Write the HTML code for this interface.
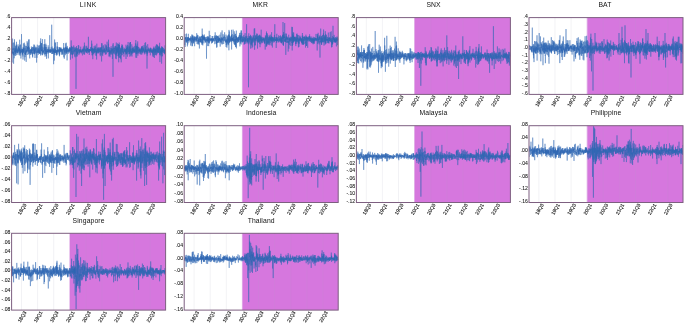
<!DOCTYPE html>
<html><head><meta charset="utf-8"><title>Returns</title>
<style>html,body{margin:0;padding:0;background:#fff}svg{display:block}text{font-family:"Liberation Sans",sans-serif;fill:#111}.t{font-size:6.8px;letter-spacing:.12px;text-anchor:middle}.y{font-size:5.1px;text-anchor:end;fill:#111;stroke:#111;stroke-width:.06px}.x{font-size:4.9px;text-anchor:middle;fill:#111;stroke:#111;stroke-width:.12px}.b{fill:none;stroke:#7d5f80;stroke-width:1}.m{fill:#d677de}.l{fill:none;stroke:#2e66b2;stroke-width:.45;stroke-linejoin:round}.g{stroke:#e9e9ee;stroke-width:.6}.gm{stroke:#cf80d8;stroke-width:.6}</style></head>
<body>
<svg width="685" height="326" viewBox="0 0 685 326">
<rect width="685" height="326" fill="#fff"/>
<g>
<text class="t" style="letter-spacing:0.45px" x="88.3" y="7.1">LINK</text>
<rect class="m" x="70.0" y="17.6" width="95.6" height="76.8"/>
<line class="g" x1="21.5" y1="17.6" x2="21.5" y2="94.4"/><line class="g" x1="37.6" y1="17.6" x2="37.6" y2="94.4"/><line class="g" x1="53.7" y1="17.6" x2="53.7" y2="94.4"/><line class="gm" x1="69.8" y1="17.6" x2="69.8" y2="94.4"/><line class="gm" x1="85.9" y1="17.6" x2="85.9" y2="94.4"/><line class="gm" x1="102.0" y1="17.6" x2="102.0" y2="94.4"/><line class="gm" x1="118.1" y1="17.6" x2="118.1" y2="94.4"/><line class="gm" x1="134.2" y1="17.6" x2="134.2" y2="94.4"/><line class="gm" x1="150.3" y1="17.6" x2="150.3" y2="94.4"/>
<polyline class="l" points="12.0,50.5 12.1,62.5 12.2,51.3 12.2,53.1 12.3,52.0 12.4,53.9 12.5,50.3 12.6,38.6 12.7,52.0 12.7,52.6 12.8,48.7 12.9,48.8 13.0,50.1 13.1,42.7 13.2,50.6 13.2,47.8 13.3,55.2 13.4,52.0 13.5,56.9 13.6,63.7 13.7,56.7 13.7,51.3 13.8,54.5 13.9,49.8 14.0,42.5 14.1,51.3 14.2,58.3 14.2,52.1 14.3,50.7 14.4,50.2 14.5,39.3 14.6,45.8 14.7,53.1 14.7,55.6 14.8,48.2 14.9,52.5 15.0,50.6 15.1,48.8 15.2,51.8 15.2,50.8 15.3,50.3 15.4,50.4 15.5,53.8 15.6,50.3 15.6,45.9 15.7,56.0 15.8,47.5 15.9,50.2 16.0,52.2 16.1,44.6 16.1,47.7 16.2,55.0 16.3,50.2 16.4,48.0 16.5,41.8 16.6,48.1 16.6,50.8 16.7,48.3 16.8,45.4 16.9,53.1 17.0,49.8 17.1,51.8 17.1,50.2 17.2,52.6 17.3,51.5 17.4,50.8 17.5,49.0 17.6,48.4 17.6,52.9 17.7,52.0 17.8,49.3 17.9,54.7 18.0,51.7 18.1,44.4 18.1,47.1 18.2,48.6 18.3,46.4 18.4,51.5 18.5,51.1 18.6,47.4 18.6,51.4 18.7,46.6 18.8,49.7 18.9,50.8 19.0,51.0 19.1,53.0 19.1,50.5 19.2,51.8 19.3,55.3 19.4,48.6 19.5,50.6 19.5,48.5 19.6,51.5 19.7,39.7 19.8,50.5 19.9,45.2 20.0,54.1 20.0,49.5 20.1,54.6 20.2,55.6 20.3,51.5 20.4,52.9 20.5,50.0 20.5,44.5 20.6,52.8 20.7,52.0 20.8,50.0 20.9,58.5 21.0,50.9 21.0,51.0 21.1,48.9 21.2,49.0 21.3,52.9 21.4,50.7 21.5,49.4 21.5,34.1 21.6,42.9 21.7,52.1 21.8,48.7 21.9,50.1 22.0,50.3 22.0,51.8 22.1,50.8 22.2,54.5 22.3,52.5 22.4,49.8 22.5,54.4 22.5,48.9 22.6,54.2 22.7,49.1 22.8,52.2 22.9,56.5 22.9,50.2 23.0,59.5 23.1,47.8 23.2,47.2 23.3,50.7 23.4,43.4 23.4,51.0 23.5,52.9 23.6,47.9 23.7,51.8 23.8,50.6 23.9,51.9 23.9,51.7 24.0,52.6 24.1,48.3 24.2,50.8 24.3,42.7 24.4,50.5 24.4,51.6 24.5,51.3 24.6,55.7 24.7,60.6 24.8,51.5 24.9,44.6 24.9,54.0 25.0,52.7 25.1,57.1 25.2,52.5 25.3,53.4 25.4,49.4 25.4,46.1 25.5,54.9 25.6,51.2 25.7,52.7 25.8,55.0 25.9,48.3 25.9,50.6 26.0,50.3 26.1,52.2 26.2,61.9 26.3,51.8 26.3,50.8 26.4,52.7 26.5,45.9 26.6,48.1 26.7,51.4 26.8,49.9 26.8,50.6 26.9,51.5 27.0,51.8 27.1,41.2 27.2,51.4 27.3,50.9 27.3,50.4 27.4,47.0 27.5,48.3 27.6,49.3 27.7,42.6 27.8,55.0 27.8,47.0 27.9,47.6 28.0,50.9 28.1,48.8 28.2,47.9 28.3,47.8 28.3,47.3 28.4,52.2 28.5,45.9 28.6,54.1 28.7,39.6 28.8,49.1 28.8,47.8 28.9,44.5 29.0,40.9 29.1,39.3 29.2,44.7 29.3,48.0 29.3,53.3 29.4,50.6 29.5,47.5 29.6,56.7 29.7,58.4 29.8,49.6 29.8,50.4 29.9,51.2 30.0,50.4 30.1,52.6 30.2,54.3 30.2,51.0 30.3,53.3 30.4,54.9 30.5,49.2 30.6,50.7 30.7,49.6 30.7,52.8 30.8,52.2 30.9,52.9 31.0,53.1 31.1,50.0 31.2,52.1 31.2,49.8 31.3,49.9 31.4,46.5 31.5,53.4 31.6,48.1 31.7,50.8 31.7,50.6 31.8,54.5 31.9,51.7 32.0,48.8 32.1,50.7 32.2,50.3 32.2,51.4 32.3,47.1 32.4,50.6 32.5,56.5 32.6,52.3 32.7,55.2 32.7,57.6 32.8,51.8 32.9,46.9 33.0,50.4 33.1,53.6 33.2,52.8 33.2,47.4 33.3,50.1 33.4,50.4 33.5,50.6 33.6,50.4 33.6,48.8 33.7,49.0 33.8,44.5 33.9,53.7 34.0,48.9 34.1,52.8 34.1,46.6 34.2,54.1 34.3,50.9 34.4,50.5 34.5,54.3 34.6,44.8 34.6,45.5 34.7,51.8 34.8,48.4 34.9,49.3 35.0,58.0 35.1,49.7 35.1,50.7 35.2,50.3 35.3,53.4 35.4,51.3 35.5,51.0 35.6,47.5 35.6,49.6 35.7,50.5 35.8,46.6 35.9,51.7 36.0,51.1 36.1,53.2 36.1,48.0 36.2,48.8 36.3,48.9 36.4,49.3 36.5,50.3 36.6,51.6 36.6,62.6 36.7,51.6 36.8,50.4 36.9,47.1 37.0,57.8 37.0,50.7 37.1,52.6 37.2,52.7 37.3,44.7 37.4,48.4 37.5,50.3 37.5,51.4 37.6,53.0 37.7,50.7 37.8,48.4 37.9,51.5 38.0,51.1 38.0,51.2 38.1,50.2 38.2,54.1 38.3,54.8 38.4,52.5 38.5,48.3 38.5,52.7 38.6,48.7 38.7,45.6 38.8,51.7 38.9,53.1 39.0,49.8 39.0,50.5 39.1,53.2 39.2,49.1 39.3,45.4 39.4,51.2 39.5,51.1 39.5,53.7 39.6,49.5 39.7,53.9 39.8,53.5 39.9,47.5 40.0,53.1 40.0,47.2 40.1,45.2 40.2,49.4 40.3,41.5 40.4,42.6 40.5,51.3 40.5,52.8 40.6,55.5 40.7,38.4 40.8,45.3 40.9,44.6 40.9,54.2 41.0,53.3 41.1,52.1 41.2,49.8 41.3,51.1 41.4,43.2 41.4,49.6 41.5,51.3 41.6,50.6 41.7,43.0 41.8,50.8 41.9,49.1 41.9,46.6 42.0,49.0 42.1,50.4 42.2,55.1 42.3,49.4 42.4,55.2 42.4,39.1 42.5,48.9 42.6,49.3 42.7,50.7 42.8,53.3 42.9,51.1 42.9,51.8 43.0,49.4 43.1,47.4 43.2,50.2 43.3,51.6 43.4,52.1 43.4,50.6 43.5,50.8 43.6,52.8 43.7,50.3 43.8,52.6 43.9,54.3 43.9,48.2 44.0,48.2 44.1,44.3 44.2,49.0 44.3,50.9 44.3,44.1 44.4,51.7 44.5,54.1 44.6,54.5 44.7,47.6 44.8,39.2 44.8,49.8 44.9,46.8 45.0,56.6 45.1,53.6 45.2,49.9 45.3,49.2 45.3,51.6 45.4,47.1 45.5,49.8 45.6,54.2 45.7,52.7 45.8,43.7 45.8,49.5 45.9,54.0 46.0,44.9 46.1,49.4 46.2,56.2 46.3,51.3 46.3,51.1 46.4,52.7 46.5,58.8 46.6,50.8 46.7,47.0 46.8,51.9 46.8,50.1 46.9,53.6 47.0,51.2 47.1,49.1 47.2,52.2 47.3,48.8 47.3,50.0 47.4,52.1 47.5,51.3 47.6,51.3 47.7,50.6 47.7,51.4 47.8,51.8 47.9,51.0 48.0,52.3 48.1,53.4 48.2,50.6 48.2,45.3 48.3,58.4 48.4,50.5 48.5,51.8 48.6,52.4 48.7,48.9 48.7,51.2 48.8,47.2 48.9,51.5 49.0,50.1 49.1,50.8 49.2,51.4 49.2,49.9 49.3,50.7 49.4,49.7 49.5,50.6 49.6,52.6 49.7,48.7 49.7,35.2 49.8,49.6 49.9,51.7 50.0,50.6 50.1,52.9 50.2,49.8 50.2,51.9 50.3,52.6 50.4,50.6 50.5,49.0 50.6,52.3 50.7,51.9 50.7,51.5 50.8,52.1 50.9,50.0 51.0,51.6 51.1,47.4 51.2,49.4 51.2,52.1 51.3,49.5 51.4,52.7 51.5,52.8 51.6,53.9 51.6,46.6 51.7,24.7 51.8,40.3 51.9,50.6 52.0,50.1 52.1,50.4 52.1,46.5 52.2,52.8 52.3,53.8 52.4,52.8 52.5,53.7 52.6,48.6 52.6,48.7 52.7,52.2 52.8,52.9 52.9,51.1 53.0,48.4 53.1,53.9 53.1,49.8 53.2,51.9 53.3,49.3 53.4,51.8 53.5,50.8 53.6,52.3 53.6,64.2 53.7,48.5 53.8,49.4 53.9,51.0 54.0,51.6 54.1,53.3 54.1,51.1 54.2,50.6 54.3,60.6 54.4,47.3 54.5,52.8 54.6,46.4 54.6,39.5 54.7,47.5 54.8,55.1 54.9,50.9 55.0,52.6 55.0,50.7 55.1,42.6 55.2,52.5 55.3,42.6 55.4,52.9 55.5,49.1 55.5,50.8 55.6,49.9 55.7,50.9 55.8,52.3 55.9,52.8 56.0,51.1 56.0,51.9 56.1,49.9 56.2,50.5 56.3,54.6 56.4,50.3 56.5,54.4 56.5,52.1 56.6,51.3 56.7,55.7 56.8,50.3 56.9,50.1 57.0,50.9 57.0,46.5 57.1,51.4 57.2,42.0 57.3,51.0 57.4,54.7 57.5,50.4 57.5,52.3 57.6,46.7 57.7,50.3 57.8,50.7 57.9,51.2 58.0,49.7 58.0,52.3 58.1,50.1 58.2,50.2 58.3,50.2 58.4,49.9 58.4,51.8 58.5,51.0 58.6,49.3 58.7,49.7 58.8,50.1 58.9,53.5 58.9,49.3 59.0,47.2 59.1,47.1 59.2,49.8 59.3,55.4 59.4,47.7 59.4,50.9 59.5,56.3 59.6,49.5 59.7,54.7 59.8,54.2 59.9,52.5 59.9,47.1 60.0,51.4 60.1,49.9 60.2,47.5 60.3,48.1 60.4,50.7 60.4,48.2 60.5,52.2 60.6,51.5 60.7,49.9 60.8,49.9 60.9,50.3 60.9,48.8 61.0,51.9 61.1,50.6 61.2,49.0 61.3,49.3 61.4,47.7 61.4,49.3 61.5,51.5 61.6,49.3 61.7,53.6 61.8,54.9 61.9,49.1 61.9,50.6 62.0,49.8 62.1,53.6 62.2,51.3 62.3,52.0 62.3,52.2 62.4,54.5 62.5,51.1 62.6,49.2 62.7,50.0 62.8,51.5 62.8,50.5 62.9,49.4 63.0,54.4 63.1,50.7 63.2,49.7 63.3,47.9 63.3,47.9 63.4,48.9 63.5,50.0 63.6,50.0 63.7,43.0 63.8,51.4 63.8,57.3 63.9,48.8 64.0,47.3 64.1,50.8 64.2,50.6 64.3,50.2 64.3,58.7 64.4,50.6 64.5,48.2 64.6,52.2 64.7,50.8 64.8,50.8 64.8,49.3 64.9,48.7 65.0,53.6 65.1,52.5 65.2,49.8 65.3,52.3 65.3,55.2 65.4,47.3 65.5,49.3 65.6,49.3 65.7,43.4 65.7,47.5 65.8,51.4 65.9,47.1 66.0,53.5 66.1,53.2 66.2,42.7 66.2,52.6 66.3,48.5 66.4,49.7 66.5,53.8 66.6,50.3 66.7,51.7 66.7,48.0 66.8,52.3 66.9,51.9 67.0,47.1 67.1,60.4 67.2,45.9 67.2,50.4 67.3,50.1 67.4,48.0 67.5,50.7 67.6,51.9 67.7,50.4 67.7,50.0 67.8,51.3 67.9,52.7 68.0,52.5 68.1,53.9 68.2,51.6 68.2,50.8 68.3,50.2 68.4,49.5 68.5,51.1 68.6,49.6 68.7,52.2 68.7,51.2 68.8,52.3 68.9,48.8 69.0,50.5 69.1,51.3 69.1,48.1 69.2,50.8 69.3,49.6 69.4,52.5 69.5,51.8 69.6,51.0 69.6,47.3 69.7,49.0 69.8,50.7 69.9,49.5 70.0,47.6 70.1,50.9 70.1,51.1 70.2,47.5 70.3,49.7 70.4,49.4 70.5,59.7 70.6,48.1 70.6,47.9 70.7,49.6 70.8,49.1 70.9,54.6 71.0,49.2 71.1,50.9 71.1,49.5 71.2,40.4 71.3,51.3 71.4,53.9 71.5,45.9 71.6,52.2 71.6,51.1 71.7,51.7 71.8,51.2 71.9,54.9 72.0,47.4 72.1,49.8 72.1,47.9 72.2,46.9 72.3,50.5 72.4,58.4 72.5,52.8 72.6,54.4 72.6,52.3 72.7,50.3 72.8,55.0 72.9,49.7 73.0,46.6 73.0,50.0 73.1,50.7 73.2,51.3 73.3,50.7 73.4,51.7 73.5,51.7 73.5,53.8 73.6,50.6 73.7,45.4 73.8,45.6 73.9,47.2 74.0,48.8 74.0,52.2 74.1,47.5 74.2,50.6 74.3,50.7 74.4,51.1 74.5,50.3 74.5,51.2 74.6,50.6 74.7,56.5 74.8,51.0 74.9,47.6 75.0,50.6 75.0,51.1 75.1,49.2 75.2,57.3 75.3,52.6 75.4,50.9 75.5,48.8 75.5,49.9 75.6,50.2 75.7,47.3 75.8,51.8 75.9,50.3 76.0,53.4 76.0,88.9 76.1,53.7 76.2,51.8 76.3,51.7 76.4,48.6 76.4,48.8 76.5,46.1 76.6,55.4 76.7,48.0 76.8,51.5 76.9,57.0 76.9,49.2 77.0,52.7 77.1,55.9 77.2,51.4 77.3,54.1 77.4,51.9 77.4,49.8 77.5,50.0 77.6,48.2 77.7,50.8 77.8,53.5 77.9,51.9 77.9,52.6 78.0,53.1 78.1,49.6 78.2,51.9 78.3,45.1 78.4,49.4 78.4,50.7 78.5,50.0 78.6,50.3 78.7,49.7 78.8,45.5 78.9,49.3 78.9,55.1 79.0,50.2 79.1,50.2 79.2,51.6 79.3,50.7 79.4,50.8 79.4,50.3 79.5,51.7 79.6,49.1 79.7,53.5 79.8,52.0 79.8,53.2 79.9,50.9 80.0,50.6 80.1,51.7 80.2,50.3 80.3,51.6 80.3,49.6 80.4,51.6 80.5,50.6 80.6,48.7 80.7,46.7 80.8,52.3 80.8,51.2 80.9,51.7 81.0,49.2 81.1,52.3 81.2,51.2 81.3,50.6 81.3,52.1 81.4,52.0 81.5,51.3 81.6,53.4 81.7,52.4 81.8,51.0 81.8,50.3 81.9,50.7 82.0,52.2 82.1,50.9 82.2,49.7 82.3,50.0 82.3,50.6 82.4,55.4 82.5,50.0 82.6,51.0 82.7,51.5 82.8,51.4 82.8,48.7 82.9,50.2 83.0,48.9 83.1,51.2 83.2,49.1 83.3,51.5 83.3,46.8 83.4,46.5 83.5,49.1 83.6,51.6 83.7,53.7 83.7,50.0 83.8,48.4 83.9,51.7 84.0,54.6 84.1,51.3 84.2,50.5 84.2,50.2 84.3,47.6 84.4,42.6 84.5,48.8 84.6,54.6 84.7,48.5 84.7,45.4 84.8,48.8 84.9,50.1 85.0,50.3 85.1,48.7 85.2,51.6 85.2,50.6 85.3,49.9 85.4,49.4 85.5,51.1 85.6,50.0 85.7,50.9 85.7,50.4 85.8,50.7 85.9,52.4 86.0,46.3 86.1,48.8 86.2,52.5 86.2,51.0 86.3,49.3 86.4,52.3 86.5,50.2 86.6,52.7 86.7,48.1 86.7,45.8 86.8,46.9 86.9,51.0 87.0,48.9 87.1,50.2 87.1,50.3 87.2,47.6 87.3,53.6 87.4,48.1 87.5,50.6 87.6,48.1 87.6,50.2 87.7,51.6 87.8,50.1 87.9,49.6 88.0,50.5 88.1,50.0 88.1,51.1 88.2,52.8 88.3,49.4 88.4,36.8 88.5,49.2 88.6,52.3 88.6,49.5 88.7,51.0 88.8,51.5 88.9,50.8 89.0,48.9 89.1,52.2 89.1,49.0 89.2,51.3 89.3,55.0 89.4,49.2 89.5,50.6 89.6,52.2 89.6,51.0 89.7,49.5 89.8,49.4 89.9,50.9 90.0,50.1 90.1,49.9 90.1,51.1 90.2,50.3 90.3,50.5 90.4,51.0 90.5,47.3 90.5,48.3 90.6,50.5 90.7,51.1 90.8,51.0 90.9,49.3 91.0,50.3 91.0,49.5 91.1,49.0 91.2,49.5 91.3,46.8 91.4,51.9 91.5,49.3 91.5,49.8 91.6,40.6 91.7,48.3 91.8,52.9 91.9,43.7 92.0,55.3 92.0,49.3 92.1,49.5 92.2,50.6 92.3,47.8 92.4,49.4 92.5,50.6 92.5,48.6 92.6,55.3 92.7,49.0 92.8,59.2 92.9,48.6 93.0,51.0 93.0,52.2 93.1,49.8 93.2,52.6 93.3,52.1 93.4,53.7 93.5,50.6 93.5,49.5 93.6,48.8 93.7,50.7 93.8,48.7 93.9,54.4 93.9,50.7 94.0,49.4 94.1,46.2 94.2,51.1 94.3,51.0 94.4,50.9 94.4,50.3 94.5,52.9 94.6,47.8 94.7,51.5 94.8,49.3 94.9,52.7 94.9,49.1 95.0,49.4 95.1,51.8 95.2,45.3 95.3,49.6 95.4,46.7 95.4,48.0 95.5,52.2 95.6,51.4 95.7,49.2 95.8,50.3 95.9,50.4 95.9,51.3 96.0,55.7 96.1,51.2 96.2,55.6 96.3,49.5 96.4,52.7 96.4,52.6 96.5,51.1 96.6,59.5 96.7,53.3 96.8,43.7 96.9,52.4 96.9,53.9 97.0,52.0 97.1,47.6 97.2,52.4 97.3,49.4 97.4,52.8 97.4,50.1 97.5,51.0 97.6,50.6 97.7,49.7 97.8,47.9 97.8,50.2 97.9,50.3 98.0,52.1 98.1,49.7 98.2,51.0 98.3,49.1 98.3,50.6 98.4,47.5 98.5,53.4 98.6,51.1 98.7,48.5 98.8,51.3 98.8,52.2 98.9,51.1 99.0,52.9 99.1,50.3 99.2,47.3 99.3,49.1 99.3,51.9 99.4,51.7 99.5,51.0 99.6,49.0 99.7,51.7 99.8,51.6 99.8,49.0 99.9,47.7 100.0,51.3 100.1,53.1 100.2,54.8 100.3,52.7 100.3,56.2 100.4,48.1 100.5,52.2 100.6,49.6 100.7,47.2 100.8,48.4 100.8,52.5 100.9,49.0 101.0,48.4 101.1,51.7 101.2,51.9 101.2,50.7 101.3,47.1 101.4,48.2 101.5,55.7 101.6,61.5 101.7,43.1 101.7,51.1 101.8,50.1 101.9,49.9 102.0,43.5 102.1,47.7 102.2,54.9 102.2,50.5 102.3,51.7 102.4,50.3 102.5,50.1 102.6,52.6 102.7,51.9 102.7,56.1 102.8,49.6 102.9,52.1 103.0,46.5 103.1,46.4 103.2,53.4 103.2,49.8 103.3,45.2 103.4,48.7 103.5,49.9 103.6,51.0 103.7,51.8 103.7,50.9 103.8,51.4 103.9,49.4 104.0,51.1 104.1,51.2 104.2,52.4 104.2,50.6 104.3,51.8 104.4,50.8 104.5,49.0 104.6,52.7 104.6,47.8 104.7,49.8 104.8,50.4 104.9,50.7 105.0,51.1 105.1,44.2 105.1,52.3 105.2,54.4 105.3,54.6 105.4,51.8 105.5,51.3 105.6,51.7 105.6,50.2 105.7,51.7 105.8,48.8 105.9,45.3 106.0,54.4 106.1,52.0 106.1,54.2 106.2,50.6 106.3,48.7 106.4,49.4 106.5,45.5 106.6,51.7 106.6,47.6 106.7,50.0 106.8,50.5 106.9,48.9 107.0,46.3 107.1,41.7 107.1,50.2 107.2,49.8 107.3,49.5 107.4,51.5 107.5,52.3 107.6,50.4 107.6,52.2 107.7,50.6 107.8,50.3 107.9,46.9 108.0,51.7 108.1,50.7 108.1,50.7 108.2,49.8 108.3,48.7 108.4,43.7 108.5,51.9 108.5,39.7 108.6,51.7 108.7,49.7 108.8,50.4 108.9,56.5 109.0,51.1 109.0,50.5 109.1,49.6 109.2,51.5 109.3,51.0 109.4,53.8 109.5,52.3 109.5,47.3 109.6,55.9 109.7,51.3 109.8,50.0 109.9,51.4 110.0,52.8 110.0,57.2 110.1,50.5 110.2,50.7 110.3,54.5 110.4,50.9 110.5,53.3 110.5,52.2 110.6,49.7 110.7,48.2 110.8,47.8 110.9,52.2 111.0,47.8 111.0,46.9 111.1,47.0 111.2,46.3 111.3,51.0 111.4,51.0 111.5,48.5 111.5,53.7 111.6,50.0 111.7,51.7 111.8,51.4 111.9,54.8 111.9,52.9 112.0,50.6 112.1,48.4 112.2,48.1 112.3,50.7 112.4,58.9 112.4,53.1 112.5,49.1 112.6,51.3 112.7,48.5 112.8,45.3 112.9,44.6 112.9,54.4 113.0,76.8 113.1,45.1 113.2,43.1 113.3,46.8 113.4,50.0 113.4,53.4 113.5,49.4 113.6,48.3 113.7,53.4 113.8,51.8 113.9,51.1 113.9,50.0 114.0,49.3 114.1,46.8 114.2,48.5 114.3,48.8 114.4,48.0 114.4,49.2 114.5,53.7 114.6,54.3 114.7,49.9 114.8,51.3 114.9,48.4 114.9,51.3 115.0,52.7 115.1,46.1 115.2,48.6 115.3,49.7 115.3,47.4 115.4,46.3 115.5,49.2 115.6,58.6 115.7,53.2 115.8,52.3 115.8,54.7 115.9,49.6 116.0,45.7 116.1,52.4 116.2,55.7 116.3,42.5 116.3,59.2 116.4,55.8 116.5,49.2 116.6,48.6 116.7,53.4 116.8,47.1 116.8,52.3 116.9,54.0 117.0,49.8 117.1,47.8 117.2,52.6 117.3,49.4 117.3,50.8 117.4,43.3 117.5,52.4 117.6,47.2 117.7,50.7 117.8,50.9 117.8,48.1 117.9,48.0 118.0,56.1 118.1,44.1 118.2,52.2 118.3,51.9 118.3,49.1 118.4,56.3 118.5,44.5 118.6,48.8 118.7,62.3 118.8,44.6 118.8,49.9 118.9,56.8 119.0,56.6 119.1,57.9 119.2,42.6 119.2,55.0 119.3,44.9 119.4,48.4 119.5,45.2 119.6,47.0 119.7,57.6 119.7,51.1 119.8,50.3 119.9,50.1 120.0,51.7 120.1,50.6 120.2,47.6 120.2,53.8 120.3,50.0 120.4,57.7 120.5,55.7 120.6,59.2 120.7,50.6 120.7,49.0 120.8,53.7 120.9,48.0 121.0,51.7 121.1,48.8 121.2,50.0 121.2,62.3 121.3,53.3 121.4,49.8 121.5,46.0 121.6,49.5 121.7,49.8 121.7,55.3 121.8,45.6 121.9,44.3 122.0,50.4 122.1,51.2 122.2,55.1 122.2,48.4 122.3,44.9 122.4,49.1 122.5,47.7 122.6,45.7 122.6,52.4 122.7,48.4 122.8,52.3 122.9,47.1 123.0,50.1 123.1,49.2 123.1,50.0 123.2,49.9 123.3,51.7 123.4,53.4 123.5,50.4 123.6,52.1 123.6,53.6 123.7,53.8 123.8,52.0 123.9,56.7 124.0,55.0 124.1,54.2 124.1,50.1 124.2,49.8 124.3,47.8 124.4,52.0 124.5,51.2 124.6,49.6 124.6,50.7 124.7,50.8 124.8,49.1 124.9,50.8 125.0,51.6 125.1,52.0 125.1,50.1 125.2,50.0 125.3,52.7 125.4,52.5 125.5,49.3 125.6,49.3 125.6,51.9 125.7,48.9 125.8,49.2 125.9,54.6 126.0,44.7 126.0,59.0 126.1,51.8 126.2,54.1 126.3,51.0 126.4,49.6 126.5,48.5 126.5,53.8 126.6,46.3 126.7,52.3 126.8,48.7 126.9,48.0 127.0,48.3 127.0,50.1 127.1,53.3 127.2,48.8 127.3,52.5 127.4,56.7 127.5,44.9 127.5,49.0 127.6,46.8 127.7,52.3 127.8,47.6 127.9,47.3 128.0,47.8 128.0,50.5 128.1,42.0 128.2,50.8 128.3,54.3 128.4,53.4 128.5,50.3 128.5,52.1 128.6,50.7 128.7,50.7 128.8,45.6 128.9,48.6 129.0,50.6 129.0,48.4 129.1,51.9 129.2,51.1 129.3,49.0 129.4,53.9 129.5,46.6 129.5,53.9 129.6,42.6 129.7,54.9 129.8,56.7 129.9,50.0 129.9,52.4 130.0,52.9 130.1,53.0 130.2,47.6 130.3,45.6 130.4,42.1 130.4,52.0 130.5,42.0 130.6,51.2 130.7,48.7 130.8,56.2 130.9,49.7 130.9,48.9 131.0,52.1 131.1,51.7 131.2,55.1 131.3,51.7 131.4,53.9 131.4,50.9 131.5,53.0 131.6,50.3 131.7,49.4 131.8,44.3 131.9,51.8 131.9,51.9 132.0,56.5 132.1,48.5 132.2,49.4 132.3,51.0 132.4,48.4 132.4,52.6 132.5,48.4 132.6,51.3 132.7,53.7 132.8,46.5 132.9,48.2 132.9,52.1 133.0,50.2 133.1,51.0 133.2,50.3 133.3,52.9 133.3,51.7 133.4,49.7 133.5,50.2 133.6,48.4 133.7,50.4 133.8,46.9 133.8,51.5 133.9,50.1 134.0,52.5 134.1,52.0 134.2,48.7 134.3,51.9 134.3,49.7 134.4,50.6 134.5,52.5 134.6,51.2 134.7,51.5 134.8,51.5 134.8,45.9 134.9,48.9 135.0,52.1 135.1,52.7 135.2,49.8 135.3,50.8 135.3,47.4 135.4,43.4 135.5,48.4 135.6,50.6 135.7,51.0 135.8,57.7 135.8,40.1 135.9,53.5 136.0,51.8 136.1,52.0 136.2,48.1 136.3,51.9 136.3,51.1 136.4,54.3 136.5,45.7 136.6,49.3 136.7,46.0 136.7,57.9 136.8,47.1 136.9,51.2 137.0,48.5 137.1,43.6 137.2,53.9 137.2,47.3 137.3,46.2 137.4,49.4 137.5,48.2 137.6,46.9 137.7,52.5 137.7,41.4 137.8,53.3 137.9,55.7 138.0,51.9 138.1,50.8 138.2,50.2 138.2,49.5 138.3,53.4 138.4,46.9 138.5,48.7 138.6,49.4 138.7,51.0 138.7,50.6 138.8,49.8 138.9,50.0 139.0,52.4 139.1,49.6 139.2,47.6 139.2,52.1 139.3,53.7 139.4,50.0 139.5,50.7 139.6,48.9 139.7,52.1 139.7,50.3 139.8,48.7 139.9,50.8 140.0,51.1 140.1,50.4 140.2,51.0 140.2,49.0 140.3,51.4 140.4,49.8 140.5,51.6 140.6,54.2 140.6,50.6 140.7,52.8 140.8,50.5 140.9,51.9 141.0,51.1 141.1,48.1 141.1,54.7 141.2,54.1 141.3,47.6 141.4,50.3 141.5,47.1 141.6,46.4 141.6,52.2 141.7,50.7 141.8,47.7 141.9,48.3 142.0,54.4 142.1,46.2 142.1,47.2 142.2,51.4 142.3,47.6 142.4,50.5 142.5,52.8 142.6,51.5 142.6,49.2 142.7,45.8 142.8,50.7 142.9,51.6 143.0,50.5 143.1,52.6 143.1,52.2 143.2,49.4 143.3,51.2 143.4,50.0 143.5,48.6 143.6,49.4 143.6,50.5 143.7,47.5 143.8,49.5 143.9,51.1 144.0,45.1 144.0,49.7 144.1,52.3 144.2,50.3 144.3,50.9 144.4,54.4 144.5,50.8 144.5,50.9 144.6,51.1 144.7,53.1 144.8,51.1 144.9,42.9 145.0,50.3 145.0,52.4 145.1,49.5 145.2,52.2 145.3,50.8 145.4,48.5 145.5,47.3 145.5,51.6 145.6,42.3 145.7,51.4 145.8,51.1 145.9,50.2 146.0,49.0 146.0,54.1 146.1,52.3 146.2,52.8 146.3,52.6 146.4,45.7 146.5,52.1 146.5,50.0 146.6,52.0 146.7,50.3 146.8,49.9 146.9,51.8 147.0,51.8 147.0,68.6 147.1,51.9 147.2,55.7 147.3,50.6 147.4,53.7 147.4,52.9 147.5,49.2 147.6,51.7 147.7,44.2 147.8,48.7 147.9,51.3 147.9,50.2 148.0,53.1 148.1,51.7 148.2,51.2 148.3,47.6 148.4,51.0 148.4,51.0 148.5,51.1 148.6,50.7 148.7,49.8 148.8,50.3 148.9,48.5 148.9,50.3 149.0,49.1 149.1,50.3 149.2,49.9 149.3,51.9 149.4,50.6 149.4,50.6 149.5,50.8 149.6,52.9 149.7,49.6 149.8,51.0 149.9,51.0 149.9,50.8 150.0,50.8 150.1,47.8 150.2,52.3 150.3,55.3 150.4,50.1 150.4,50.3 150.5,50.9 150.6,47.7 150.7,51.7 150.8,50.6 150.9,48.8 150.9,52.2 151.0,48.1 151.1,49.4 151.2,51.1 151.3,49.6 151.3,52.6 151.4,52.6 151.5,52.1 151.6,51.0 151.7,50.9 151.8,51.1 151.8,50.4 151.9,52.3 152.0,49.9 152.1,52.5 152.2,51.3 152.3,51.1 152.3,52.2 152.4,53.1 152.5,52.8 152.6,50.5 152.7,56.5 152.8,48.9 152.8,53.4 152.9,53.0 153.0,52.4 153.1,49.6 153.2,55.0 153.3,48.1 153.3,51.4 153.4,51.8 153.5,50.0 153.6,57.1 153.7,50.0 153.8,46.6 153.8,50.3 153.9,48.9 154.0,48.3 154.1,50.7 154.2,47.7 154.3,50.1 154.3,50.3 154.4,58.0 154.5,51.1 154.6,49.3 154.7,52.8 154.7,49.0 154.8,49.8 154.9,49.9 155.0,55.0 155.1,50.7 155.2,49.5 155.2,51.7 155.3,55.2 155.4,46.3 155.5,49.3 155.6,51.8 155.7,48.8 155.7,53.3 155.8,49.3 155.9,51.0 156.0,49.0 156.1,52.2 156.2,51.9 156.2,44.9 156.3,52.7 156.4,52.5 156.5,55.4 156.6,53.2 156.7,44.2 156.7,45.9 156.8,52.3 156.9,54.3 157.0,47.7 157.1,48.0 157.2,48.8 157.2,48.2 157.3,52.2 157.4,44.8 157.5,47.5 157.6,53.2 157.7,48.5 157.7,52.0 157.8,45.6 157.9,50.3 158.0,51.8 158.1,48.8 158.1,46.4 158.2,49.6 158.3,53.0 158.4,49.8 158.5,47.2 158.6,51.7 158.6,52.3 158.7,48.7 158.8,50.2 158.9,52.8 159.0,51.3 159.1,46.1 159.1,49.8 159.2,50.2 159.3,47.0 159.4,48.6 159.5,54.6 159.6,42.8 159.6,48.3 159.7,49.1 159.8,47.6 159.9,62.1 160.0,53.4 160.1,47.9 160.1,53.0 160.2,55.3 160.3,48.6 160.4,51.8 160.5,51.1 160.6,52.7 160.6,52.9 160.7,52.4 160.8,51.1 160.9,49.9 161.0,54.7 161.1,49.2 161.1,52.8 161.2,56.4 161.3,48.9 161.4,50.7 161.5,54.0 161.6,46.5 161.6,63.7 161.7,51.6 161.8,49.9 161.9,46.5 162.0,51.7 162.0,48.1 162.1,52.3 162.2,48.0 162.3,52.0 162.4,51.1 162.5,47.4 162.5,56.3 162.6,50.3 162.7,47.2 162.8,50.1 162.9,51.4 163.0,52.7 163.0,51.9 163.1,49.3 163.2,49.2 163.3,51.1 163.4,51.2 163.5,50.3 163.5,50.5 163.6,48.0 163.7,50.0 163.8,52.8 163.9,51.0 164.0,51.1 164.0,50.9 164.1,50.0 164.2,52.4 164.3,49.5 164.4,54.3 164.5,51.8 164.5,53.3 164.6,53.2 164.7,49.4 164.8,53.3 164.9,50.3 165.0,47.4 165.0,46.8 165.1,45.3 165.2,51.5"/>
<rect class="b" x="11.6" y="17.6" width="154.0" height="76.8"/>
<text class="y" x="10.4" y="18.2">.6</text><text class="y" x="10.4" y="29.2">.4</text><text class="y" x="10.4" y="40.1">.2</text><text class="y" x="10.4" y="51.1">.0</text><text class="y" x="10.4" y="62.1">-.2</text><text class="y" x="10.4" y="73.1">-.4</text><text class="y" x="10.4" y="84.0">-.6</text><text class="y" x="10.4" y="95.0">-.8</text>
<text class="x" transform="translate(22.2 101.1) rotate(-60)" y="1.5">18Q3</text><text class="x" transform="translate(38.3 101.1) rotate(-60)" y="1.5">19Q1</text><text class="x" transform="translate(54.4 101.1) rotate(-60)" y="1.5">19Q3</text><text class="x" transform="translate(70.5 101.1) rotate(-60)" y="1.5">20Q1</text><text class="x" transform="translate(86.6 101.1) rotate(-60)" y="1.5">20Q3</text><text class="x" transform="translate(102.7 101.1) rotate(-60)" y="1.5">21Q1</text><text class="x" transform="translate(118.8 101.1) rotate(-60)" y="1.5">21Q3</text><text class="x" transform="translate(134.9 101.1) rotate(-60)" y="1.5">22Q1</text><text class="x" transform="translate(151.0 101.1) rotate(-60)" y="1.5">22Q3</text>
</g>
<g>
<text class="t" x="260.2" y="7.1">MKR</text>
<rect class="m" x="242.6" y="17.6" width="95.6" height="76.8"/>
<line class="g" x1="194.1" y1="17.6" x2="194.1" y2="94.4"/><line class="g" x1="210.2" y1="17.6" x2="210.2" y2="94.4"/><line class="g" x1="226.3" y1="17.6" x2="226.3" y2="94.4"/><line class="gm" x1="242.4" y1="17.6" x2="242.4" y2="94.4"/><line class="gm" x1="258.5" y1="17.6" x2="258.5" y2="94.4"/><line class="gm" x1="274.6" y1="17.6" x2="274.6" y2="94.4"/><line class="gm" x1="290.7" y1="17.6" x2="290.7" y2="94.4"/><line class="gm" x1="306.8" y1="17.6" x2="306.8" y2="94.4"/><line class="gm" x1="322.9" y1="17.6" x2="322.9" y2="94.4"/>
<polyline class="l" points="184.6,40.4 184.7,45.1 184.8,44.3 184.8,40.4 184.9,40.3 185.0,33.9 185.1,47.0 185.2,45.3 185.3,38.1 185.3,39.3 185.4,37.6 185.5,39.3 185.6,37.1 185.7,38.4 185.8,38.0 185.8,39.7 185.9,41.7 186.0,41.4 186.1,37.1 186.2,39.0 186.3,42.7 186.3,39.8 186.4,40.6 186.5,33.6 186.6,41.5 186.7,39.7 186.8,39.6 186.8,42.0 186.9,42.3 187.0,41.6 187.1,40.7 187.2,41.0 187.3,37.3 187.3,42.3 187.4,46.4 187.5,37.4 187.6,38.2 187.7,41.5 187.8,44.5 187.8,38.2 187.9,38.7 188.0,40.7 188.1,37.0 188.2,40.5 188.2,39.3 188.3,33.8 188.4,38.8 188.5,40.7 188.6,40.8 188.7,37.0 188.7,39.0 188.8,42.7 188.9,38.1 189.0,38.5 189.1,40.5 189.2,40.0 189.2,39.5 189.3,39.8 189.4,39.4 189.5,39.0 189.6,40.0 189.7,38.0 189.7,40.0 189.8,39.9 189.9,38.2 190.0,41.6 190.1,39.5 190.2,39.7 190.2,40.4 190.3,38.2 190.4,39.3 190.5,40.6 190.6,38.9 190.7,37.4 190.7,45.6 190.8,36.0 190.9,37.4 191.0,38.6 191.1,39.6 191.2,38.6 191.2,37.4 191.3,37.9 191.4,37.8 191.5,39.1 191.6,38.4 191.7,42.3 191.7,39.8 191.8,43.3 191.9,34.5 192.0,38.4 192.1,46.3 192.1,39.0 192.2,40.1 192.3,34.8 192.4,45.9 192.5,36.0 192.6,39.1 192.6,39.8 192.7,37.5 192.8,39.7 192.9,39.0 193.0,39.9 193.1,35.5 193.1,41.3 193.2,38.2 193.3,39.3 193.4,40.3 193.5,43.3 193.6,40.2 193.6,40.6 193.7,39.1 193.8,43.3 193.9,36.5 194.0,41.9 194.1,40.5 194.1,36.6 194.2,41.0 194.3,37.4 194.4,40.0 194.5,38.4 194.6,39.7 194.6,46.2 194.7,42.5 194.8,36.4 194.9,39.7 195.0,38.7 195.1,40.0 195.1,39.7 195.2,39.2 195.3,39.0 195.4,37.0 195.5,39.6 195.5,39.7 195.6,40.2 195.7,41.0 195.8,41.3 195.9,38.7 196.0,41.8 196.0,37.2 196.1,38.1 196.2,40.1 196.3,36.1 196.4,39.5 196.5,39.5 196.5,37.4 196.6,41.2 196.7,33.2 196.8,39.7 196.9,40.2 197.0,40.9 197.0,43.9 197.1,43.0 197.2,40.9 197.3,40.0 197.4,37.5 197.5,34.8 197.5,36.4 197.6,38.7 197.7,36.4 197.8,39.8 197.9,44.4 198.0,35.3 198.0,41.3 198.1,40.2 198.2,40.0 198.3,43.5 198.4,40.5 198.5,38.3 198.5,40.3 198.6,41.5 198.7,44.5 198.8,39.2 198.9,41.9 198.9,41.4 199.0,41.4 199.1,37.4 199.2,38.7 199.3,39.1 199.4,48.5 199.4,40.5 199.5,38.6 199.6,36.6 199.7,42.1 199.8,40.7 199.9,39.2 199.9,39.4 200.0,38.1 200.1,36.4 200.2,40.0 200.3,38.7 200.4,41.5 200.4,39.0 200.5,40.3 200.6,41.9 200.7,37.4 200.8,42.5 200.9,36.7 200.9,40.7 201.0,42.3 201.1,42.1 201.2,41.4 201.3,41.3 201.4,39.0 201.4,43.2 201.5,36.3 201.6,37.4 201.7,35.9 201.8,42.4 201.9,44.8 201.9,41.0 202.0,39.9 202.1,38.7 202.2,28.6 202.3,38.7 202.4,39.0 202.4,44.4 202.5,34.5 202.6,43.0 202.7,38.7 202.8,35.5 202.8,45.4 202.9,39.5 203.0,34.8 203.1,40.3 203.2,37.3 203.3,38.9 203.3,39.1 203.4,35.8 203.5,40.0 203.6,40.0 203.7,36.9 203.8,38.7 203.8,38.2 203.9,42.0 204.0,43.3 204.1,37.0 204.2,37.4 204.3,38.8 204.3,40.4 204.4,34.5 204.5,38.7 204.6,36.5 204.7,39.4 204.8,37.3 204.8,40.0 204.9,37.1 205.0,41.3 205.1,39.2 205.2,41.2 205.3,38.4 205.3,38.5 205.4,41.8 205.5,41.1 205.6,40.4 205.7,42.8 205.8,41.2 205.8,41.6 205.9,37.8 206.0,37.0 206.1,40.4 206.2,40.1 206.2,39.1 206.3,40.6 206.4,41.5 206.5,58.7 206.6,41.0 206.7,39.6 206.7,40.7 206.8,36.7 206.9,40.9 207.0,39.2 207.1,42.2 207.2,41.2 207.2,39.2 207.3,40.8 207.4,37.6 207.5,39.3 207.6,43.3 207.7,46.1 207.7,36.7 207.8,41.0 207.9,36.0 208.0,39.5 208.1,41.4 208.2,38.3 208.2,40.1 208.3,39.5 208.4,41.4 208.5,42.8 208.6,37.3 208.7,46.1 208.7,36.7 208.8,40.4 208.9,39.2 209.0,41.8 209.1,42.8 209.2,35.7 209.2,30.8 209.3,37.0 209.4,43.5 209.5,38.9 209.6,38.3 209.6,39.2 209.7,38.7 209.8,42.0 209.9,40.0 210.0,35.0 210.1,40.3 210.1,38.8 210.2,40.6 210.3,40.0 210.4,40.1 210.5,39.5 210.6,38.6 210.6,39.3 210.7,39.1 210.8,40.9 210.9,39.9 211.0,38.7 211.1,40.4 211.1,40.0 211.2,40.4 211.3,38.2 211.4,40.0 211.5,40.4 211.6,38.8 211.6,43.5 211.7,38.9 211.8,38.3 211.9,39.2 212.0,39.7 212.1,40.1 212.1,36.1 212.2,42.9 212.3,38.9 212.4,42.5 212.5,39.4 212.6,38.6 212.6,39.6 212.7,41.5 212.8,36.0 212.9,40.7 213.0,41.6 213.1,39.4 213.1,41.0 213.2,41.0 213.3,40.8 213.4,38.4 213.5,39.9 213.5,38.3 213.6,39.6 213.7,40.0 213.8,39.0 213.9,38.9 214.0,39.4 214.0,41.1 214.1,40.2 214.2,41.2 214.3,39.9 214.4,39.4 214.5,37.6 214.5,37.4 214.6,38.6 214.7,38.4 214.8,44.2 214.9,35.3 215.0,37.5 215.0,36.0 215.1,39.0 215.2,32.3 215.3,37.7 215.4,39.2 215.5,39.0 215.5,40.8 215.6,37.8 215.7,39.3 215.8,37.9 215.9,40.0 216.0,43.6 216.0,38.2 216.1,36.4 216.2,35.9 216.3,41.4 216.4,40.2 216.5,40.1 216.5,44.2 216.6,35.3 216.7,47.8 216.8,41.0 216.9,46.9 216.9,38.9 217.0,36.2 217.1,38.1 217.2,37.1 217.3,35.9 217.4,39.0 217.4,42.8 217.5,36.2 217.6,38.6 217.7,43.0 217.8,42.3 217.9,38.7 217.9,39.3 218.0,40.0 218.1,38.6 218.2,36.9 218.3,39.1 218.4,42.0 218.4,39.8 218.5,35.7 218.6,41.2 218.7,38.7 218.8,40.0 218.9,42.9 218.9,39.6 219.0,42.4 219.1,37.9 219.2,40.4 219.3,38.2 219.4,40.2 219.4,37.8 219.5,39.9 219.6,39.6 219.7,40.9 219.8,39.3 219.9,35.8 219.9,34.7 220.0,40.8 220.1,39.4 220.2,46.6 220.3,40.7 220.3,38.6 220.4,40.7 220.5,40.5 220.6,42.4 220.7,41.1 220.8,41.6 220.8,36.7 220.9,32.4 221.0,41.5 221.1,39.2 221.2,37.5 221.3,42.5 221.3,42.8 221.4,39.3 221.5,38.7 221.6,43.9 221.7,44.3 221.8,42.4 221.8,37.4 221.9,39.7 222.0,37.6 222.1,30.4 222.2,39.7 222.3,38.0 222.3,39.9 222.4,39.1 222.5,41.2 222.6,44.3 222.7,38.7 222.8,40.0 222.8,40.7 222.9,38.8 223.0,38.9 223.1,34.2 223.2,40.5 223.3,38.5 223.3,36.9 223.4,40.5 223.5,41.2 223.6,40.6 223.7,44.0 223.8,41.2 223.8,41.3 223.9,38.1 224.0,37.9 224.1,36.8 224.2,38.1 224.2,35.5 224.3,37.0 224.4,41.1 224.5,40.5 224.6,32.3 224.7,36.8 224.7,37.3 224.8,40.4 224.9,40.0 225.0,39.5 225.1,39.3 225.2,38.3 225.2,39.5 225.3,39.0 225.4,42.1 225.5,40.1 225.6,42.4 225.7,42.6 225.7,37.3 225.8,38.3 225.9,36.8 226.0,34.6 226.1,47.0 226.2,43.5 226.2,40.1 226.3,45.1 226.4,41.2 226.5,42.1 226.6,39.6 226.7,38.9 226.7,41.4 226.8,40.1 226.9,47.7 227.0,39.9 227.1,35.8 227.2,43.3 227.2,40.3 227.3,38.5 227.4,39.2 227.5,42.0 227.6,36.6 227.6,39.1 227.7,41.3 227.8,43.6 227.9,41.1 228.0,45.3 228.1,39.9 228.1,35.1 228.2,40.3 228.3,40.7 228.4,38.1 228.5,40.6 228.6,39.2 228.6,44.5 228.7,34.3 228.8,39.7 228.9,50.3 229.0,29.9 229.1,40.1 229.1,35.2 229.2,42.3 229.3,31.5 229.4,40.8 229.5,42.6 229.6,38.7 229.6,38.0 229.7,35.9 229.8,42.4 229.9,40.2 230.0,41.6 230.1,39.3 230.1,39.3 230.2,40.5 230.3,39.5 230.4,37.6 230.5,36.8 230.6,40.5 230.6,38.6 230.7,39.9 230.8,41.4 230.9,36.4 231.0,38.7 231.0,39.3 231.1,38.6 231.2,40.1 231.3,41.8 231.4,35.1 231.5,36.9 231.5,29.8 231.6,49.5 231.7,35.3 231.8,40.3 231.9,38.1 232.0,40.5 232.0,38.1 232.1,40.2 232.2,34.1 232.3,40.6 232.4,38.3 232.5,38.4 232.5,40.4 232.6,37.7 232.7,39.9 232.8,40.6 232.9,39.6 233.0,41.3 233.0,37.0 233.1,29.6 233.2,37.7 233.3,42.4 233.4,39.1 233.5,40.9 233.5,39.5 233.6,36.8 233.7,39.1 233.8,40.0 233.9,37.2 234.0,37.2 234.0,35.0 234.1,44.2 234.2,31.3 234.3,40.5 234.4,41.6 234.5,39.3 234.5,42.7 234.6,45.1 234.7,42.0 234.8,40.3 234.9,35.4 234.9,33.6 235.0,42.1 235.1,43.9 235.2,40.6 235.3,40.5 235.4,39.1 235.4,44.8 235.5,34.1 235.6,46.8 235.7,39.0 235.8,44.7 235.9,47.1 235.9,36.0 236.0,38.1 236.1,38.6 236.2,38.7 236.3,30.6 236.4,37.0 236.4,48.4 236.5,35.9 236.6,39.2 236.7,42.2 236.8,38.5 236.9,37.2 236.9,40.0 237.0,38.2 237.1,39.8 237.2,40.2 237.3,43.1 237.4,38.0 237.4,40.2 237.5,39.0 237.6,41.4 237.7,41.4 237.8,37.2 237.9,40.6 237.9,40.5 238.0,42.6 238.1,39.1 238.2,37.5 238.3,40.6 238.3,40.1 238.4,42.0 238.5,36.7 238.6,40.9 238.7,39.9 238.8,36.9 238.8,39.9 238.9,42.0 239.0,41.0 239.1,40.2 239.2,35.2 239.3,39.2 239.3,40.0 239.4,37.9 239.5,36.8 239.6,33.1 239.7,36.2 239.8,37.5 239.8,38.2 239.9,46.4 240.0,39.0 240.1,35.0 240.2,40.7 240.3,32.6 240.3,39.4 240.4,43.5 240.5,37.3 240.6,38.6 240.7,36.5 240.8,40.6 240.8,35.4 240.9,41.9 241.0,39.1 241.1,44.5 241.2,30.2 241.3,38.7 241.3,30.8 241.4,41.5 241.5,40.3 241.6,38.8 241.7,36.8 241.7,37.3 241.8,33.1 241.9,39.1 242.0,41.1 242.1,42.6 242.2,40.1 242.2,40.7 242.3,41.7 242.4,37.4 242.5,42.1 242.6,39.0 242.7,38.9 242.7,39.9 242.8,36.1 242.9,39.5 243.0,40.6 243.1,37.1 243.2,40.7 243.2,41.4 243.3,41.2 243.4,40.4 243.5,39.5 243.6,39.1 243.7,41.7 243.7,39.0 243.8,34.9 243.9,41.2 244.0,39.9 244.1,38.2 244.2,37.1 244.2,44.7 244.3,41.3 244.4,41.8 244.5,37.7 244.6,37.8 244.7,43.3 244.7,42.8 244.8,44.0 244.9,41.5 245.0,39.1 245.1,33.1 245.2,37.2 245.2,43.6 245.3,39.4 245.4,37.9 245.5,40.9 245.6,41.3 245.6,36.3 245.7,38.2 245.8,42.1 245.9,37.9 246.0,37.7 246.1,40.8 246.1,39.1 246.2,40.3 246.3,39.4 246.4,36.2 246.5,37.9 246.6,24.2 246.6,37.7 246.7,37.6 246.8,43.4 246.9,42.8 247.0,38.3 247.1,40.7 247.1,40.8 247.2,41.1 247.3,41.9 247.4,40.1 247.5,40.8 247.6,40.7 247.6,38.7 247.7,41.7 247.8,37.8 247.9,43.3 248.0,35.8 248.1,41.5 248.1,38.7 248.2,38.2 248.3,39.6 248.4,43.5 248.5,87.3 248.6,46.9 248.6,38.9 248.7,37.5 248.8,33.3 248.9,42.5 249.0,44.3 249.0,38.9 249.1,39.0 249.2,37.7 249.3,38.6 249.4,38.7 249.5,42.5 249.5,36.1 249.6,39.5 249.7,38.0 249.8,40.2 249.9,39.8 250.0,39.5 250.0,37.3 250.1,37.1 250.2,38.5 250.3,36.2 250.4,40.3 250.5,34.8 250.5,40.4 250.6,48.6 250.7,39.5 250.8,37.7 250.9,35.6 251.0,44.5 251.0,44.2 251.1,38.7 251.2,40.4 251.3,44.1 251.4,40.4 251.5,45.4 251.5,39.4 251.6,39.9 251.7,36.3 251.8,40.2 251.9,37.8 252.0,37.4 252.0,48.2 252.1,40.0 252.2,38.2 252.3,42.8 252.4,42.1 252.4,40.2 252.5,39.6 252.6,42.3 252.7,46.8 252.8,37.6 252.9,40.6 252.9,39.9 253.0,41.6 253.1,36.3 253.2,35.1 253.3,39.2 253.4,39.8 253.4,36.1 253.5,38.5 253.6,41.1 253.7,42.5 253.8,41.0 253.9,34.7 253.9,34.4 254.0,32.0 254.1,31.9 254.2,28.6 254.3,35.4 254.4,40.3 254.4,38.6 254.5,42.3 254.6,49.8 254.7,28.3 254.8,39.0 254.9,41.5 254.9,45.3 255.0,38.3 255.1,40.0 255.2,40.2 255.3,41.1 255.4,45.3 255.4,35.1 255.5,40.8 255.6,38.2 255.7,36.0 255.8,37.2 255.9,39.1 255.9,39.5 256.0,38.8 256.1,37.3 256.2,37.9 256.3,40.8 256.3,38.3 256.4,38.4 256.5,37.7 256.6,38.8 256.7,34.7 256.8,38.7 256.8,36.4 256.9,33.3 257.0,41.7 257.1,42.4 257.2,34.0 257.3,38.3 257.3,36.7 257.4,39.8 257.5,48.6 257.6,40.7 257.7,36.4 257.8,39.3 257.8,41.0 257.9,38.0 258.0,41.8 258.1,39.3 258.2,39.6 258.3,39.9 258.3,42.4 258.4,37.1 258.5,36.0 258.6,42.5 258.7,39.3 258.8,38.3 258.8,35.5 258.9,40.6 259.0,41.6 259.1,39.6 259.2,35.0 259.3,39.4 259.3,38.9 259.4,35.8 259.5,43.8 259.6,43.8 259.7,37.8 259.7,34.6 259.8,41.8 259.9,38.7 260.0,47.2 260.1,39.3 260.2,40.7 260.2,40.3 260.3,41.0 260.4,35.6 260.5,40.0 260.6,36.7 260.7,38.3 260.7,42.7 260.8,44.3 260.9,36.8 261.0,39.0 261.1,37.5 261.2,29.7 261.2,34.4 261.3,40.9 261.4,38.3 261.5,42.0 261.6,36.9 261.7,36.8 261.7,43.1 261.8,38.6 261.9,39.9 262.0,39.3 262.1,38.8 262.2,39.6 262.2,41.0 262.3,43.1 262.4,39.1 262.5,38.9 262.6,37.2 262.7,40.5 262.7,39.5 262.8,39.0 262.9,40.0 263.0,41.9 263.1,40.1 263.1,38.6 263.2,39.8 263.3,39.0 263.4,40.4 263.5,39.1 263.6,40.3 263.6,37.8 263.7,39.4 263.8,39.5 263.9,37.7 264.0,41.7 264.1,42.7 264.1,37.6 264.2,37.7 264.3,40.1 264.4,40.6 264.5,40.2 264.6,43.8 264.6,39.3 264.7,43.2 264.8,38.6 264.9,41.3 265.0,41.4 265.1,42.2 265.1,41.8 265.2,49.6 265.3,38.9 265.4,35.3 265.5,38.5 265.6,39.5 265.6,36.3 265.7,41.3 265.8,38.7 265.9,37.6 266.0,37.9 266.1,38.8 266.1,40.3 266.2,47.0 266.3,39.9 266.4,33.0 266.5,45.5 266.5,31.5 266.6,38.4 266.7,42.4 266.8,46.1 266.9,41.7 267.0,43.6 267.0,43.4 267.1,41.5 267.2,36.3 267.3,37.5 267.4,42.1 267.5,39.3 267.5,33.4 267.6,43.0 267.7,41.8 267.8,44.1 267.9,41.3 268.0,44.7 268.0,35.3 268.1,41.3 268.2,40.9 268.3,44.6 268.4,37.1 268.5,40.2 268.5,39.0 268.6,43.1 268.7,37.8 268.8,38.2 268.9,40.8 269.0,42.2 269.0,41.3 269.1,40.7 269.2,39.5 269.3,39.7 269.4,37.3 269.5,39.8 269.5,35.6 269.6,37.3 269.7,44.5 269.8,37.6 269.9,45.3 270.0,36.9 270.0,38.7 270.1,38.8 270.2,43.0 270.3,34.6 270.4,40.1 270.4,39.8 270.5,37.8 270.6,39.9 270.7,40.7 270.8,38.7 270.9,41.0 270.9,38.3 271.0,39.3 271.1,37.2 271.2,41.7 271.3,37.2 271.4,39.0 271.4,35.9 271.5,40.9 271.6,32.2 271.7,45.6 271.8,37.4 271.9,41.2 271.9,38.4 272.0,38.3 272.1,41.1 272.2,41.7 272.3,40.8 272.4,36.9 272.4,47.5 272.5,37.7 272.6,39.1 272.7,39.3 272.8,39.2 272.9,40.3 272.9,36.9 273.0,39.2 273.1,39.1 273.2,42.6 273.3,38.9 273.4,40.7 273.4,40.4 273.5,37.7 273.6,41.3 273.7,39.9 273.8,38.4 273.8,37.6 273.9,40.2 274.0,39.1 274.1,39.1 274.2,41.2 274.3,42.3 274.3,42.3 274.4,34.9 274.5,39.4 274.6,41.5 274.7,38.2 274.8,24.2 274.8,38.4 274.9,39.6 275.0,36.9 275.1,40.6 275.2,39.4 275.3,40.5 275.3,40.5 275.4,40.8 275.5,39.8 275.6,40.3 275.7,39.1 275.8,39.3 275.8,40.4 275.9,37.5 276.0,40.9 276.1,39.1 276.2,48.0 276.3,42.1 276.3,37.7 276.4,37.7 276.5,39.0 276.6,42.9 276.7,37.0 276.8,33.8 276.8,40.7 276.9,37.1 277.0,41.2 277.1,37.5 277.2,40.6 277.2,38.7 277.3,40.9 277.4,40.0 277.5,40.8 277.6,40.5 277.7,39.3 277.7,39.7 277.8,39.3 277.9,38.1 278.0,39.7 278.1,42.3 278.2,40.0 278.2,39.4 278.3,37.5 278.4,37.5 278.5,38.0 278.6,35.3 278.7,38.4 278.7,42.1 278.8,42.4 278.9,38.6 279.0,38.5 279.1,40.2 279.2,39.5 279.2,40.6 279.3,38.8 279.4,41.5 279.5,38.1 279.6,38.6 279.7,36.1 279.7,39.6 279.8,39.7 279.9,39.2 280.0,39.5 280.1,39.7 280.2,41.3 280.2,41.4 280.3,40.5 280.4,35.3 280.5,41.6 280.6,41.4 280.7,40.0 280.7,38.3 280.8,42.8 280.9,38.4 281.0,37.9 281.1,36.1 281.1,40.3 281.2,37.1 281.3,42.6 281.4,40.6 281.5,38.9 281.6,41.1 281.6,43.2 281.7,37.4 281.8,43.3 281.9,38.0 282.0,41.6 282.1,41.2 282.1,40.3 282.2,39.5 282.3,40.0 282.4,41.8 282.5,35.0 282.6,38.9 282.6,35.7 282.7,37.8 282.8,39.1 282.9,37.7 283.0,22.0 283.1,44.9 283.1,34.4 283.2,43.2 283.3,45.4 283.4,42.3 283.5,45.7 283.6,32.0 283.6,38.1 283.7,35.0 283.8,35.4 283.9,38.0 284.0,38.0 284.1,33.9 284.1,39.8 284.2,41.3 284.3,39.4 284.4,41.3 284.5,36.6 284.5,38.0 284.6,38.0 284.7,23.1 284.8,37.7 284.9,37.0 285.0,39.7 285.0,42.1 285.1,38.9 285.2,38.2 285.3,42.0 285.4,38.8 285.5,41.9 285.5,39.4 285.6,36.9 285.7,33.5 285.8,54.9 285.9,40.6 286.0,39.6 286.0,36.5 286.1,37.4 286.2,40.2 286.3,40.3 286.4,39.5 286.5,33.7 286.5,38.9 286.6,36.9 286.7,40.5 286.8,43.0 286.9,36.3 287.0,39.8 287.0,41.9 287.1,41.5 287.2,41.0 287.3,40.9 287.4,42.8 287.5,37.5 287.5,38.8 287.6,38.0 287.7,40.1 287.8,39.0 287.9,39.2 287.9,37.4 288.0,38.0 288.1,40.3 288.2,51.6 288.3,42.2 288.4,41.5 288.4,41.0 288.5,41.1 288.6,43.2 288.7,34.7 288.8,38.8 288.9,48.7 288.9,42.2 289.0,42.2 289.1,39.1 289.2,37.4 289.3,41.6 289.4,38.5 289.4,40.0 289.5,38.1 289.6,37.8 289.7,45.1 289.8,38.5 289.9,39.5 289.9,40.1 290.0,41.3 290.1,38.9 290.2,39.7 290.3,40.2 290.4,39.7 290.4,39.9 290.5,41.5 290.6,40.5 290.7,37.3 290.8,40.0 290.9,36.6 290.9,45.9 291.0,42.1 291.1,39.3 291.2,38.1 291.3,40.9 291.4,38.1 291.4,37.7 291.5,37.1 291.6,39.8 291.7,39.7 291.8,43.0 291.8,39.5 291.9,26.8 292.0,36.0 292.1,42.5 292.2,50.5 292.3,41.9 292.3,27.1 292.4,46.0 292.5,42.3 292.6,33.9 292.7,37.1 292.8,44.9 292.8,39.8 292.9,35.8 293.0,37.0 293.1,32.2 293.2,42.9 293.3,36.0 293.3,39.6 293.4,35.2 293.5,37.2 293.6,42.1 293.7,32.7 293.8,41.5 293.8,38.1 293.9,41.4 294.0,40.2 294.1,40.1 294.2,40.7 294.3,39.0 294.3,36.9 294.4,37.0 294.5,37.6 294.6,39.8 294.7,37.5 294.8,39.0 294.8,36.9 294.9,41.5 295.0,37.4 295.1,40.7 295.2,36.6 295.2,40.7 295.3,37.6 295.4,40.2 295.5,44.1 295.6,41.7 295.7,40.2 295.7,39.5 295.8,46.1 295.9,43.8 296.0,42.6 296.1,40.4 296.2,38.8 296.2,42.0 296.3,43.9 296.4,38.6 296.5,40.5 296.6,37.0 296.7,41.0 296.7,34.1 296.8,42.1 296.9,38.9 297.0,33.5 297.1,38.7 297.2,41.6 297.2,39.8 297.3,41.4 297.4,39.9 297.5,38.1 297.6,35.0 297.7,39.5 297.7,38.4 297.8,39.4 297.9,37.7 298.0,38.8 298.1,43.5 298.2,39.0 298.2,35.0 298.3,36.9 298.4,47.4 298.5,39.0 298.6,39.4 298.6,42.8 298.7,41.1 298.8,40.2 298.9,40.6 299.0,46.9 299.1,42.3 299.1,38.2 299.2,43.8 299.3,39.1 299.4,40.0 299.5,39.5 299.6,40.5 299.6,37.8 299.7,38.6 299.8,35.5 299.9,40.5 300.0,36.3 300.1,40.7 300.1,39.8 300.2,41.1 300.3,38.5 300.4,39.6 300.5,38.3 300.6,37.1 300.6,39.6 300.7,39.0 300.8,38.4 300.9,39.6 301.0,41.8 301.1,39.0 301.1,38.7 301.2,38.0 301.3,38.2 301.4,42.3 301.5,38.9 301.6,43.1 301.6,40.3 301.7,38.8 301.8,40.7 301.9,39.2 302.0,44.5 302.1,39.3 302.1,41.3 302.2,35.7 302.3,39.0 302.4,33.0 302.5,43.0 302.5,42.4 302.6,39.8 302.7,43.9 302.8,35.6 302.9,45.0 303.0,42.3 303.0,44.1 303.1,41.5 303.2,37.2 303.3,38.0 303.4,37.1 303.5,38.1 303.5,44.7 303.6,38.8 303.7,43.5 303.8,40.5 303.9,40.3 304.0,40.5 304.0,38.5 304.1,40.9 304.2,36.3 304.3,38.2 304.4,37.2 304.5,38.1 304.5,38.1 304.6,39.6 304.7,36.9 304.8,40.9 304.9,44.2 305.0,39.5 305.0,36.5 305.1,39.0 305.2,40.7 305.3,38.1 305.4,38.3 305.5,39.3 305.5,47.6 305.6,41.7 305.7,43.1 305.8,40.8 305.9,40.0 305.9,34.7 306.0,40.0 306.1,37.4 306.2,37.9 306.3,36.2 306.4,45.9 306.4,37.0 306.5,39.8 306.6,45.9 306.7,40.9 306.8,40.7 306.9,37.3 306.9,39.1 307.0,36.8 307.1,39.5 307.2,40.6 307.3,39.6 307.4,39.6 307.4,38.1 307.5,37.6 307.6,43.2 307.7,47.8 307.8,36.9 307.9,41.1 307.9,40.0 308.0,39.3 308.1,38.0 308.2,38.5 308.3,39.9 308.4,38.7 308.4,38.1 308.5,39.0 308.6,36.7 308.7,38.8 308.8,41.5 308.9,41.3 308.9,39.9 309.0,40.1 309.1,37.9 309.2,38.8 309.3,36.2 309.3,37.9 309.4,36.2 309.5,41.1 309.6,34.3 309.7,38.1 309.8,39.3 309.8,38.5 309.9,39.1 310.0,40.6 310.1,36.7 310.2,37.6 310.3,42.0 310.3,40.5 310.4,39.5 310.5,38.7 310.6,39.6 310.7,41.4 310.8,38.4 310.8,39.9 310.9,37.8 311.0,39.1 311.1,36.4 311.2,38.1 311.3,37.9 311.3,40.7 311.4,43.1 311.5,39.0 311.6,42.4 311.7,40.3 311.8,40.2 311.8,38.7 311.9,38.3 312.0,41.2 312.1,38.4 312.2,39.6 312.3,40.8 312.3,38.5 312.4,40.4 312.5,40.9 312.6,42.5 312.7,43.4 312.8,40.4 312.8,38.3 312.9,38.4 313.0,42.6 313.1,36.7 313.2,44.3 313.2,39.1 313.3,43.1 313.4,38.6 313.5,40.4 313.6,39.0 313.7,41.3 313.7,38.1 313.8,37.7 313.9,37.4 314.0,42.9 314.1,42.4 314.2,39.1 314.2,44.0 314.3,40.5 314.4,39.6 314.5,37.4 314.6,41.0 314.7,39.1 314.7,39.6 314.8,38.9 314.9,40.2 315.0,38.2 315.1,37.9 315.2,41.3 315.2,38.2 315.3,40.4 315.4,39.8 315.5,37.9 315.6,39.4 315.7,38.8 315.7,38.6 315.8,38.7 315.9,40.2 316.0,33.9 316.1,38.7 316.2,38.4 316.2,39.0 316.3,39.8 316.4,38.4 316.5,39.5 316.6,41.1 316.6,39.1 316.7,38.8 316.8,38.5 316.9,40.7 317.0,40.4 317.1,39.0 317.1,40.8 317.2,50.5 317.3,34.0 317.4,36.9 317.5,36.6 317.6,38.9 317.6,36.3 317.7,43.9 317.8,34.7 317.9,39.3 318.0,39.6 318.1,32.8 318.1,40.7 318.2,40.5 318.3,38.8 318.4,38.5 318.5,42.5 318.6,38.9 318.6,39.9 318.7,39.4 318.8,39.1 318.9,39.7 319.0,37.3 319.1,44.4 319.1,39.8 319.2,39.1 319.3,37.0 319.4,37.7 319.5,36.8 319.6,39.6 319.6,39.1 319.7,35.4 319.8,39.4 319.9,36.4 320.0,57.6 320.0,40.9 320.1,42.7 320.2,38.6 320.3,40.4 320.4,40.3 320.5,42.0 320.5,37.8 320.6,38.2 320.7,28.6 320.8,38.5 320.9,39.1 321.0,39.3 321.0,38.7 321.1,39.8 321.2,43.3 321.3,37.9 321.4,38.4 321.5,44.6 321.5,36.2 321.6,41.9 321.7,44.9 321.8,36.4 321.9,38.4 322.0,42.3 322.0,40.1 322.1,38.1 322.2,41.8 322.3,38.4 322.4,35.2 322.5,36.0 322.5,39.4 322.6,38.3 322.7,41.7 322.8,39.0 322.9,40.0 323.0,42.0 323.0,42.6 323.1,34.8 323.2,39.1 323.3,42.0 323.4,33.3 323.5,36.4 323.5,33.7 323.6,29.5 323.7,38.9 323.8,37.1 323.9,40.2 323.9,41.7 324.0,45.6 324.1,39.3 324.2,40.8 324.3,41.6 324.4,39.8 324.4,37.5 324.5,37.9 324.6,39.8 324.7,35.8 324.8,40.9 324.9,35.1 324.9,42.4 325.0,37.6 325.1,44.7 325.2,42.9 325.3,31.2 325.4,35.3 325.4,43.2 325.5,39.0 325.6,36.6 325.7,43.4 325.8,34.0 325.9,43.6 325.9,40.9 326.0,40.0 326.1,38.5 326.2,37.3 326.3,37.4 326.4,35.1 326.4,40.2 326.5,39.4 326.6,38.8 326.7,40.5 326.8,39.8 326.9,38.9 326.9,40.9 327.0,38.3 327.1,36.8 327.2,41.5 327.3,43.1 327.3,39.2 327.4,41.3 327.5,39.1 327.6,40.1 327.7,38.9 327.8,37.3 327.8,37.9 327.9,39.9 328.0,41.1 328.1,43.0 328.2,42.7 328.3,32.6 328.3,39.2 328.4,40.6 328.5,40.5 328.6,42.5 328.7,42.6 328.8,42.8 328.8,37.8 328.9,43.6 329.0,38.2 329.1,41.0 329.2,38.5 329.3,39.1 329.3,38.3 329.4,37.5 329.5,40.8 329.6,41.1 329.7,40.2 329.8,40.8 329.8,38.6 329.9,37.2 330.0,39.5 330.1,38.8 330.2,32.1 330.3,38.2 330.3,41.9 330.4,39.3 330.5,38.9 330.6,40.4 330.7,40.3 330.7,38.5 330.8,39.9 330.9,42.3 331.0,41.7 331.1,38.1 331.2,31.3 331.2,37.2 331.3,37.1 331.4,40.0 331.5,47.4 331.6,41.2 331.7,40.5 331.7,41.5 331.8,38.1 331.9,42.9 332.0,39.9 332.1,47.1 332.2,38.2 332.2,44.9 332.3,43.8 332.4,41.9 332.5,43.9 332.6,39.3 332.7,39.2 332.7,36.1 332.8,43.7 332.9,38.6 333.0,25.8 333.1,38.3 333.2,37.7 333.2,38.8 333.3,39.7 333.4,38.8 333.5,37.6 333.6,40.7 333.7,42.1 333.7,37.2 333.8,38.4 333.9,40.0 334.0,40.5 334.1,35.1 334.2,34.9 334.2,42.3 334.3,40.6 334.4,38.4 334.5,41.2 334.6,40.7 334.6,38.6 334.7,40.8 334.8,39.2 334.9,39.7 335.0,42.4 335.1,39.4 335.1,42.5 335.2,37.5 335.3,41.5 335.4,40.0 335.5,42.5 335.6,40.3 335.6,41.5 335.7,37.2 335.8,39.8 335.9,38.8 336.0,42.2 336.1,41.5 336.1,39.8 336.2,41.6 336.3,37.8 336.4,46.4 336.5,39.3 336.6,39.0 336.6,39.9 336.7,37.8 336.8,41.0 336.9,38.7 337.0,36.4 337.1,38.9 337.1,39.2 337.2,41.0 337.3,39.4 337.4,37.2 337.5,40.4 337.6,45.1 337.6,39.1 337.7,40.1 337.8,38.1"/>
<rect class="b" x="184.2" y="17.6" width="154.0" height="76.8"/>
<text class="y" x="183.0" y="18.2">0.4</text><text class="y" x="183.0" y="29.2">0.2</text><text class="y" x="183.0" y="40.1">0.0</text><text class="y" x="183.0" y="51.1">-0.2</text><text class="y" x="183.0" y="62.1">-0.4</text><text class="y" x="183.0" y="73.1">-0.6</text><text class="y" x="183.0" y="84.0">-0.8</text><text class="y" x="183.0" y="95.0">-1.0</text>
<text class="x" transform="translate(194.8 101.1) rotate(-60)" y="1.5">18Q3</text><text class="x" transform="translate(210.9 101.1) rotate(-60)" y="1.5">19Q1</text><text class="x" transform="translate(227.0 101.1) rotate(-60)" y="1.5">19Q3</text><text class="x" transform="translate(243.1 101.1) rotate(-60)" y="1.5">20Q1</text><text class="x" transform="translate(259.2 101.1) rotate(-60)" y="1.5">20Q3</text><text class="x" transform="translate(275.3 101.1) rotate(-60)" y="1.5">21Q1</text><text class="x" transform="translate(291.4 101.1) rotate(-60)" y="1.5">21Q3</text><text class="x" transform="translate(307.5 101.1) rotate(-60)" y="1.5">22Q1</text><text class="x" transform="translate(323.6 101.1) rotate(-60)" y="1.5">22Q3</text>
</g>
<g>
<text class="t" x="433.6" y="7.1">SNX</text>
<rect class="m" x="414.8" y="17.6" width="95.6" height="76.8"/>
<line class="g" x1="366.3" y1="17.6" x2="366.3" y2="94.4"/><line class="g" x1="382.4" y1="17.6" x2="382.4" y2="94.4"/><line class="g" x1="398.5" y1="17.6" x2="398.5" y2="94.4"/><line class="gm" x1="414.6" y1="17.6" x2="414.6" y2="94.4"/><line class="gm" x1="430.7" y1="17.6" x2="430.7" y2="94.4"/><line class="gm" x1="446.8" y1="17.6" x2="446.8" y2="94.4"/><line class="gm" x1="462.9" y1="17.6" x2="462.9" y2="94.4"/><line class="gm" x1="479.0" y1="17.6" x2="479.0" y2="94.4"/><line class="gm" x1="495.1" y1="17.6" x2="495.1" y2="94.4"/>
<polyline class="l" points="356.8,61.5 356.9,57.0 357.0,53.7 357.0,54.3 357.1,50.0 357.2,56.2 357.3,63.1 357.4,57.4 357.5,60.7 357.5,55.0 357.6,52.4 357.7,55.1 357.8,55.3 357.9,46.4 358.0,54.6 358.0,47.0 358.1,46.9 358.2,61.7 358.3,63.0 358.4,53.4 358.5,58.0 358.5,55.3 358.6,53.9 358.7,63.6 358.8,50.2 358.9,54.1 359.0,56.5 359.0,58.7 359.1,59.8 359.2,48.5 359.3,56.9 359.4,53.5 359.5,58.0 359.5,57.0 359.6,54.0 359.7,58.8 359.8,56.3 359.9,56.8 360.0,54.3 360.0,52.8 360.1,56.5 360.2,52.0 360.3,57.1 360.4,52.3 360.4,55.8 360.5,56.5 360.6,54.4 360.7,61.1 360.8,59.8 360.9,60.4 360.9,52.8 361.0,54.1 361.1,57.9 361.2,54.7 361.3,62.4 361.4,57.3 361.4,50.0 361.5,46.6 361.6,45.4 361.7,58.1 361.8,52.0 361.9,55.6 361.9,54.8 362.0,55.0 362.1,53.4 362.2,52.4 362.3,55.8 362.4,54.8 362.4,56.3 362.5,55.0 362.6,59.2 362.7,52.2 362.8,53.4 362.9,54.7 362.9,67.8 363.0,58.5 363.1,60.1 363.2,61.5 363.3,60.1 363.4,52.0 363.4,54.4 363.5,60.5 363.6,62.7 363.7,51.5 363.8,50.3 363.9,52.8 363.9,48.0 364.0,58.0 364.1,54.6 364.2,58.0 364.3,49.9 364.3,54.8 364.4,49.9 364.5,54.8 364.6,57.7 364.7,56.0 364.8,61.4 364.8,56.9 364.9,58.3 365.0,54.0 365.1,53.0 365.2,55.3 365.3,58.2 365.3,59.5 365.4,53.2 365.5,56.8 365.6,56.6 365.7,61.5 365.8,54.9 365.8,55.1 365.9,53.4 366.0,58.9 366.1,55.9 366.2,59.4 366.3,55.2 366.3,55.8 366.4,56.6 366.5,54.1 366.6,58.5 366.7,52.2 366.8,54.7 366.8,54.1 366.9,69.3 367.0,58.0 367.1,57.8 367.2,52.3 367.3,55.8 367.3,54.7 367.4,67.9 367.5,63.0 367.6,52.4 367.7,61.8 367.7,46.9 367.8,50.6 367.9,69.4 368.0,53.8 368.1,55.9 368.2,52.3 368.2,45.9 368.3,56.0 368.4,59.4 368.5,55.8 368.6,55.5 368.7,44.3 368.7,58.8 368.8,57.1 368.9,56.6 369.0,52.9 369.1,51.5 369.2,54.5 369.2,50.0 369.3,54.8 369.4,54.9 369.5,66.8 369.6,60.8 369.7,44.0 369.7,52.9 369.8,55.3 369.9,61.5 370.0,55.5 370.1,56.3 370.2,54.2 370.2,67.7 370.3,57.9 370.4,51.6 370.5,56.9 370.6,51.8 370.7,66.3 370.7,56.8 370.8,57.0 370.9,59.0 371.0,53.3 371.1,60.5 371.1,54.9 371.2,64.7 371.3,52.6 371.4,55.7 371.5,51.2 371.6,48.5 371.6,58.7 371.7,55.8 371.8,62.3 371.9,58.1 372.0,55.5 372.1,55.7 372.1,53.2 372.2,54.3 372.3,53.0 372.4,58.0 372.5,55.5 372.6,58.7 372.6,56.3 372.7,61.2 372.8,46.9 372.9,55.8 373.0,57.1 373.1,57.0 373.1,60.1 373.2,57.6 373.3,57.5 373.4,55.4 373.5,54.8 373.6,57.0 373.6,60.7 373.7,54.9 373.8,58.5 373.9,53.0 374.0,50.9 374.1,55.0 374.1,57.2 374.2,55.5 374.3,60.2 374.4,53.2 374.5,59.0 374.6,55.3 374.6,57.5 374.7,56.8 374.8,55.5 374.9,55.1 375.0,56.4 375.0,57.6 375.1,53.1 375.2,31.0 375.3,52.4 375.4,59.1 375.5,54.6 375.5,55.7 375.6,55.9 375.7,58.4 375.8,57.1 375.9,56.8 376.0,49.1 376.0,56.5 376.1,55.7 376.2,56.9 376.3,55.0 376.4,54.3 376.5,57.4 376.5,51.3 376.6,55.8 376.7,57.8 376.8,54.2 376.9,52.4 377.0,56.9 377.0,61.1 377.1,54.4 377.2,53.4 377.3,60.5 377.4,56.3 377.5,54.9 377.5,61.3 377.6,54.0 377.7,54.4 377.8,54.6 377.9,53.2 378.0,58.0 378.0,54.1 378.1,50.4 378.2,62.0 378.3,57.2 378.4,53.7 378.4,50.2 378.5,72.8 378.6,57.2 378.7,55.5 378.8,59.2 378.9,55.0 378.9,52.8 379.0,61.8 379.1,54.8 379.2,44.7 379.3,56.6 379.4,60.3 379.4,58.4 379.5,55.7 379.6,55.0 379.7,56.1 379.8,56.1 379.9,60.3 379.9,49.6 380.0,59.3 380.1,57.8 380.2,58.3 380.3,46.5 380.4,51.5 380.4,60.4 380.5,58.6 380.6,58.2 380.7,58.4 380.8,58.4 380.9,63.3 380.9,52.3 381.0,53.5 381.1,53.0 381.2,68.2 381.3,54.0 381.4,58.3 381.4,66.1 381.5,55.6 381.6,56.1 381.7,63.3 381.8,66.2 381.8,50.9 381.9,60.4 382.0,57.0 382.1,58.1 382.2,67.1 382.3,61.5 382.3,53.1 382.4,62.5 382.5,53.3 382.6,57.4 382.7,61.1 382.8,56.0 382.8,56.4 382.9,61.4 383.0,55.0 383.1,56.3 383.2,54.7 383.3,61.9 383.3,58.5 383.4,59.4 383.5,55.8 383.6,58.0 383.7,59.8 383.8,51.6 383.8,57.7 383.9,53.4 384.0,54.0 384.1,57.9 384.2,60.6 384.3,55.7 384.3,54.3 384.4,51.2 384.5,54.6 384.6,37.8 384.7,54.8 384.8,45.5 384.8,48.7 384.9,52.5 385.0,59.6 385.1,55.2 385.2,54.6 385.3,61.9 385.3,57.3 385.4,71.8 385.5,49.9 385.6,50.4 385.7,57.6 385.7,57.4 385.8,58.2 385.9,63.9 386.0,52.3 386.1,60.0 386.2,56.8 386.2,58.4 386.3,59.9 386.4,58.6 386.5,49.3 386.6,49.7 386.7,49.6 386.7,62.9 386.8,35.8 386.9,48.8 387.0,54.7 387.1,58.9 387.2,53.7 387.2,57.2 387.3,57.6 387.4,55.1 387.5,54.1 387.6,56.8 387.7,56.2 387.7,59.1 387.8,56.3 387.9,54.0 388.0,62.7 388.1,56.7 388.2,60.8 388.2,52.7 388.3,59.0 388.4,54.7 388.5,56.7 388.6,54.4 388.7,54.0 388.7,66.7 388.8,62.0 388.9,48.7 389.0,57.8 389.1,57.8 389.1,55.7 389.2,53.5 389.3,55.2 389.4,56.2 389.5,54.1 389.6,56.4 389.6,54.3 389.7,55.5 389.8,59.4 389.9,54.1 390.0,51.5 390.1,57.1 390.1,53.5 390.2,45.6 390.3,63.6 390.4,57.6 390.5,52.3 390.6,58.6 390.6,48.0 390.7,52.4 390.8,52.4 390.9,50.8 391.0,57.9 391.1,59.1 391.1,53.5 391.2,59.7 391.3,57.1 391.4,46.9 391.5,51.6 391.6,56.0 391.6,59.7 391.7,56.1 391.8,52.8 391.9,60.5 392.0,59.8 392.1,53.0 392.1,55.7 392.2,59.2 392.3,56.6 392.4,55.9 392.5,58.6 392.5,57.2 392.6,53.8 392.7,55.5 392.8,54.1 392.9,50.6 393.0,56.9 393.0,50.2 393.1,57.7 393.2,55.5 393.3,56.6 393.4,61.0 393.5,56.6 393.5,58.6 393.6,52.4 393.7,60.8 393.8,55.4 393.9,60.6 394.0,53.0 394.0,56.8 394.1,55.5 394.2,54.6 394.3,54.9 394.4,55.5 394.5,54.9 394.5,48.6 394.6,57.6 394.7,56.9 394.8,56.8 394.9,58.1 395.0,58.1 395.0,51.4 395.1,36.8 395.2,50.7 395.3,67.0 395.4,53.5 395.5,56.1 395.5,56.6 395.6,54.3 395.7,50.5 395.8,56.4 395.9,60.4 396.0,57.2 396.0,60.4 396.1,46.3 396.2,52.8 396.3,54.7 396.4,41.6 396.4,54.7 396.5,59.9 396.6,45.4 396.7,54.4 396.8,57.1 396.9,51.3 396.9,59.7 397.0,54.6 397.1,55.4 397.2,56.7 397.3,55.5 397.4,58.6 397.4,57.7 397.5,55.7 397.6,54.3 397.7,56.1 397.8,58.6 397.9,57.1 397.9,53.6 398.0,57.1 398.1,55.5 398.2,48.3 398.3,57.1 398.4,56.0 398.4,59.4 398.5,57.2 398.6,56.0 398.7,55.0 398.8,53.7 398.9,57.0 398.9,55.1 399.0,56.4 399.1,57.6 399.2,60.7 399.3,56.1 399.4,56.0 399.4,57.2 399.5,51.9 399.6,56.1 399.7,59.6 399.8,56.5 399.8,50.8 399.9,62.8 400.0,56.7 400.1,55.7 400.2,52.7 400.3,56.2 400.3,59.0 400.4,52.1 400.5,54.4 400.6,56.7 400.7,56.7 400.8,56.7 400.8,55.8 400.9,58.6 401.0,55.8 401.1,57.1 401.2,55.3 401.3,52.3 401.3,57.5 401.4,54.3 401.5,55.1 401.6,57.4 401.7,57.6 401.8,57.3 401.8,55.4 401.9,53.6 402.0,57.9 402.1,57.6 402.2,55.0 402.3,50.8 402.3,56.2 402.4,56.4 402.5,56.9 402.6,52.6 402.7,54.0 402.8,56.7 402.8,53.7 402.9,52.6 403.0,55.3 403.1,55.5 403.2,56.9 403.2,55.8 403.3,55.7 403.4,53.9 403.5,57.6 403.6,59.0 403.7,57.2 403.7,55.1 403.8,61.6 403.9,64.4 404.0,63.7 404.1,58.8 404.2,55.8 404.2,53.7 404.3,58.9 404.4,55.5 404.5,56.5 404.6,54.4 404.7,56.1 404.7,57.1 404.8,54.7 404.9,53.0 405.0,58.3 405.1,60.5 405.2,57.8 405.2,55.7 405.3,54.5 405.4,57.2 405.5,56.7 405.6,53.0 405.7,56.7 405.7,55.9 405.8,56.8 405.9,56.2 406.0,57.3 406.1,57.5 406.2,55.6 406.2,59.2 406.3,56.1 406.4,53.7 406.5,57.7 406.6,61.3 406.7,58.9 406.7,60.2 406.8,58.3 406.9,59.8 407.0,56.9 407.1,57.9 407.1,59.4 407.2,56.1 407.3,53.5 407.4,54.3 407.5,56.8 407.6,56.2 407.6,58.2 407.7,56.6 407.8,55.0 407.9,54.8 408.0,53.7 408.1,59.1 408.1,53.3 408.2,55.4 408.3,53.3 408.4,56.2 408.5,53.5 408.6,56.3 408.6,58.4 408.7,55.4 408.8,57.5 408.9,56.4 409.0,55.1 409.1,54.5 409.1,54.7 409.2,59.8 409.3,60.0 409.4,53.3 409.5,58.8 409.6,56.0 409.6,57.8 409.7,60.5 409.8,52.8 409.9,60.5 410.0,59.2 410.1,48.1 410.1,62.9 410.2,61.8 410.3,53.8 410.4,57.3 410.5,54.2 410.5,56.3 410.6,57.7 410.7,48.8 410.8,57.9 410.9,57.5 411.0,55.7 411.0,58.6 411.1,59.3 411.2,59.8 411.3,53.8 411.4,51.3 411.5,53.2 411.5,57.8 411.6,57.3 411.7,58.6 411.8,56.3 411.9,53.6 412.0,56.4 412.0,56.3 412.1,62.2 412.2,55.5 412.3,58.4 412.4,56.5 412.5,55.6 412.5,55.9 412.6,51.5 412.7,52.6 412.8,58.7 412.9,57.6 413.0,54.2 413.0,55.6 413.1,58.7 413.2,56.3 413.3,56.1 413.4,54.8 413.5,56.5 413.5,56.1 413.6,58.1 413.7,53.8 413.8,55.4 413.9,52.5 413.9,58.3 414.0,56.1 414.1,54.8 414.2,52.5 414.3,53.0 414.4,56.7 414.4,56.8 414.5,57.5 414.6,55.5 414.7,56.9 414.8,55.4 414.9,55.7 414.9,55.6 415.0,57.1 415.1,54.4 415.2,56.3 415.3,57.4 415.4,56.1 415.4,55.8 415.5,56.0 415.6,53.1 415.7,54.5 415.8,53.4 415.9,56.1 415.9,54.8 416.0,59.4 416.1,54.2 416.2,56.1 416.3,54.5 416.4,53.5 416.4,55.5 416.5,57.8 416.6,56.6 416.7,56.6 416.8,59.6 416.9,55.4 416.9,53.2 417.0,56.3 417.1,54.4 417.2,55.6 417.3,55.7 417.4,58.9 417.4,55.8 417.5,56.6 417.6,53.9 417.7,57.2 417.8,58.9 417.8,56.6 417.9,52.0 418.0,63.0 418.1,53.0 418.2,56.5 418.3,59.6 418.3,55.0 418.4,52.1 418.5,55.3 418.6,52.2 418.7,56.3 418.8,56.9 418.8,53.2 418.9,55.4 419.0,58.5 419.1,54.9 419.2,55.4 419.3,57.6 419.3,57.2 419.4,68.0 419.5,53.1 419.6,57.3 419.7,57.9 419.8,53.1 419.8,58.0 419.9,58.8 420.0,56.4 420.1,53.9 420.2,55.7 420.3,57.0 420.3,52.0 420.4,52.2 420.5,60.6 420.6,59.3 420.7,58.9 420.8,58.2 420.8,85.8 420.9,57.6 421.0,55.8 421.1,54.4 421.2,60.3 421.2,63.6 421.3,55.0 421.4,51.8 421.5,55.5 421.6,57.3 421.7,54.3 421.7,57.0 421.8,59.2 421.9,57.0 422.0,53.9 422.1,55.2 422.2,54.6 422.2,57.0 422.3,55.0 422.4,53.2 422.5,60.2 422.6,57.1 422.7,54.3 422.7,55.9 422.8,52.8 422.9,56.6 423.0,54.1 423.1,55.5 423.2,53.4 423.2,54.9 423.3,55.6 423.4,54.2 423.5,57.2 423.6,54.0 423.7,56.2 423.7,56.5 423.8,55.3 423.9,56.8 424.0,57.8 424.1,57.6 424.2,55.0 424.2,55.5 424.3,55.9 424.4,55.0 424.5,57.4 424.6,56.6 424.6,53.1 424.7,57.7 424.8,53.9 424.9,56.5 425.0,54.9 425.1,55.5 425.1,56.5 425.2,47.2 425.3,53.7 425.4,63.1 425.5,58.6 425.6,53.4 425.6,57.2 425.7,56.5 425.8,56.6 425.9,65.3 426.0,50.9 426.1,56.2 426.1,56.9 426.2,52.2 426.3,57.1 426.4,65.3 426.5,53.3 426.6,56.8 426.6,54.2 426.7,56.5 426.8,55.4 426.9,56.3 427.0,55.1 427.1,55.8 427.1,56.6 427.2,58.3 427.3,54.7 427.4,57.7 427.5,56.7 427.6,54.3 427.6,55.7 427.7,55.9 427.8,55.8 427.9,55.7 428.0,56.4 428.1,55.6 428.1,56.2 428.2,56.4 428.3,55.4 428.4,55.1 428.5,55.5 428.5,54.2 428.6,52.7 428.7,53.0 428.8,55.8 428.9,57.8 429.0,54.1 429.0,55.7 429.1,54.3 429.2,56.7 429.3,54.1 429.4,58.4 429.5,55.5 429.5,59.0 429.6,51.5 429.7,56.6 429.8,50.3 429.9,52.4 430.0,53.2 430.0,53.1 430.1,58.2 430.2,55.1 430.3,53.3 430.4,56.3 430.5,55.1 430.5,56.4 430.6,56.6 430.7,53.0 430.8,57.6 430.9,55.8 431.0,54.6 431.0,47.0 431.1,53.1 431.2,61.5 431.3,52.7 431.4,59.0 431.5,47.7 431.5,61.2 431.6,54.6 431.7,56.4 431.8,56.9 431.9,54.5 431.9,51.7 432.0,57.1 432.1,57.2 432.2,57.1 432.3,60.7 432.4,50.5 432.4,56.9 432.5,54.5 432.6,56.8 432.7,57.4 432.8,56.1 432.9,57.4 432.9,51.9 433.0,53.9 433.1,55.9 433.2,58.2 433.3,56.7 433.4,51.4 433.4,57.1 433.5,59.3 433.6,56.6 433.7,56.8 433.8,56.9 433.9,57.9 433.9,55.4 434.0,57.5 434.1,60.2 434.2,57.8 434.3,54.5 434.4,53.7 434.4,57.7 434.5,56.3 434.6,54.8 434.7,54.0 434.8,57.0 434.9,55.3 434.9,57.0 435.0,60.7 435.1,53.2 435.2,51.1 435.3,54.6 435.3,56.6 435.4,58.9 435.5,57.5 435.6,51.4 435.7,59.3 435.8,51.7 435.8,48.5 435.9,50.1 436.0,53.6 436.1,57.0 436.2,54.4 436.3,55.5 436.3,56.4 436.4,53.8 436.5,55.8 436.6,62.4 436.7,55.3 436.8,49.8 436.8,66.3 436.9,56.0 437.0,57.2 437.1,58.6 437.2,51.0 437.3,56.1 437.3,66.3 437.4,60.3 437.5,54.0 437.6,61.1 437.7,52.3 437.8,51.2 437.8,57.8 437.9,58.4 438.0,46.5 438.1,53.1 438.2,55.2 438.3,54.4 438.3,56.5 438.4,56.0 438.5,56.0 438.6,60.0 438.7,54.5 438.7,54.3 438.8,58.2 438.9,57.0 439.0,55.2 439.1,53.9 439.2,55.9 439.2,57.4 439.3,54.2 439.4,55.4 439.5,60.0 439.6,57.2 439.7,57.3 439.7,53.7 439.8,60.2 439.9,59.1 440.0,57.3 440.1,55.8 440.2,63.2 440.2,56.4 440.3,53.4 440.4,54.1 440.5,52.7 440.6,52.2 440.7,54.5 440.7,58.7 440.8,56.9 440.9,52.0 441.0,50.2 441.1,62.4 441.2,48.4 441.2,53.3 441.3,58.7 441.4,55.6 441.5,55.0 441.6,53.0 441.7,61.5 441.7,58.6 441.8,52.9 441.9,57.1 442.0,55.5 442.1,60.1 442.2,55.1 442.2,55.3 442.3,56.8 442.4,56.2 442.5,54.2 442.6,56.9 442.6,58.2 442.7,61.3 442.8,55.9 442.9,50.2 443.0,55.9 443.1,66.4 443.1,57.7 443.2,57.3 443.3,52.7 443.4,58.9 443.5,59.8 443.6,55.6 443.6,53.7 443.7,58.1 443.8,54.5 443.9,55.9 444.0,54.6 444.1,60.4 444.1,55.7 444.2,56.6 444.3,55.5 444.4,57.6 444.5,47.7 444.6,61.3 444.6,56.0 444.7,51.9 444.8,55.5 444.9,55.8 445.0,55.1 445.1,52.2 445.1,57.8 445.2,60.0 445.3,59.3 445.4,57.8 445.5,55.7 445.6,54.2 445.6,57.6 445.7,50.3 445.8,54.2 445.9,53.5 446.0,57.8 446.0,54.3 446.1,50.1 446.2,57.2 446.3,56.3 446.4,58.3 446.5,60.3 446.5,60.1 446.6,57.6 446.7,63.8 446.8,35.4 446.9,54.9 447.0,57.6 447.0,56.1 447.1,58.6 447.2,52.5 447.3,54.1 447.4,56.3 447.5,52.6 447.5,54.6 447.6,47.1 447.7,57.5 447.8,60.5 447.9,53.7 448.0,54.4 448.0,50.8 448.1,52.4 448.2,55.4 448.3,58.1 448.4,52.9 448.5,56.7 448.5,56.1 448.6,58.3 448.7,58.9 448.8,54.5 448.9,64.8 449.0,56.5 449.0,58.9 449.1,54.3 449.2,57.6 449.3,58.1 449.4,59.5 449.4,57.8 449.5,59.1 449.6,53.7 449.7,50.8 449.8,58.3 449.9,57.8 449.9,56.2 450.0,55.8 450.1,58.6 450.2,53.3 450.3,55.0 450.4,52.4 450.4,60.7 450.5,58.6 450.6,55.0 450.7,55.7 450.8,58.3 450.9,57.6 450.9,55.2 451.0,56.7 451.1,54.2 451.2,62.6 451.3,54.4 451.4,59.2 451.4,55.3 451.5,52.3 451.6,49.8 451.7,53.4 451.8,61.5 451.9,57.6 451.9,52.5 452.0,51.6 452.1,54.9 452.2,60.2 452.3,56.3 452.4,55.7 452.4,56.5 452.5,59.7 452.6,56.3 452.7,58.9 452.8,57.4 452.9,55.0 452.9,55.6 453.0,53.2 453.1,54.2 453.2,59.3 453.3,56.1 453.3,53.3 453.4,57.8 453.5,57.7 453.6,53.4 453.7,55.2 453.8,59.0 453.8,65.6 453.9,50.3 454.0,53.0 454.1,51.6 454.2,52.2 454.3,53.3 454.3,58.3 454.4,61.6 454.5,57.1 454.6,63.6 454.7,57.4 454.8,58.0 454.8,55.8 454.9,57.2 455.0,56.0 455.1,57.7 455.2,50.4 455.3,52.0 455.3,66.5 455.4,51.3 455.5,52.5 455.6,60.9 455.7,56.1 455.8,45.5 455.8,55.3 455.9,52.4 456.0,53.5 456.1,56.8 456.2,57.4 456.3,55.1 456.3,57.1 456.4,68.0 456.5,58.0 456.6,57.0 456.7,55.7 456.7,57.4 456.8,54.0 456.9,56.3 457.0,55.6 457.1,60.6 457.2,54.4 457.2,55.8 457.3,62.9 457.4,65.9 457.5,54.8 457.6,58.7 457.7,59.7 457.7,60.3 457.8,56.0 457.9,56.0 458.0,61.2 458.1,51.6 458.2,56.1 458.2,55.8 458.3,59.8 458.4,55.6 458.5,58.7 458.6,79.0 458.7,51.5 458.7,56.6 458.8,51.8 458.9,56.5 459.0,59.7 459.1,59.2 459.2,49.9 459.2,59.0 459.3,54.3 459.4,57.5 459.5,56.8 459.6,61.8 459.7,57.3 459.7,56.4 459.8,57.9 459.9,56.3 460.0,55.5 460.1,54.1 460.1,59.1 460.2,56.1 460.3,55.3 460.4,54.9 460.5,56.9 460.6,55.9 460.6,53.6 460.7,55.6 460.8,53.9 460.9,57.6 461.0,64.1 461.1,56.0 461.1,57.4 461.2,55.0 461.3,57.7 461.4,55.5 461.5,58.4 461.6,57.4 461.6,55.5 461.7,54.6 461.8,58.7 461.9,59.1 462.0,54.8 462.1,58.4 462.1,54.9 462.2,52.9 462.3,54.6 462.4,59.2 462.5,53.7 462.6,53.7 462.6,53.5 462.7,54.5 462.8,36.3 462.9,54.3 463.0,55.6 463.1,54.9 463.1,55.4 463.2,53.3 463.3,54.7 463.4,53.5 463.5,55.9 463.6,56.3 463.6,54.2 463.7,57.9 463.8,54.4 463.9,57.2 464.0,59.4 464.0,62.4 464.1,55.2 464.2,49.9 464.3,56.6 464.4,52.2 464.5,57.3 464.5,53.2 464.6,60.9 464.7,56.1 464.8,56.0 464.9,63.2 465.0,54.2 465.0,55.5 465.1,60.5 465.2,56.4 465.3,55.5 465.4,56.2 465.5,63.9 465.5,53.9 465.6,55.1 465.7,54.1 465.8,57.6 465.9,54.3 466.0,55.9 466.0,56.5 466.1,57.4 466.2,57.3 466.3,50.0 466.4,55.6 466.5,56.2 466.5,50.5 466.6,54.8 466.7,59.4 466.8,56.1 466.9,57.8 467.0,59.2 467.0,55.2 467.1,58.8 467.2,52.4 467.3,53.4 467.4,58.7 467.4,53.7 467.5,53.8 467.6,53.1 467.7,54.2 467.8,51.6 467.9,64.1 467.9,57.2 468.0,54.1 468.1,66.2 468.2,60.1 468.3,53.4 468.4,62.8 468.4,56.6 468.5,54.7 468.6,53.4 468.7,61.8 468.8,57.8 468.9,58.6 468.9,56.3 469.0,60.4 469.1,59.8 469.2,55.1 469.3,49.8 469.4,60.0 469.4,51.0 469.5,53.1 469.6,53.1 469.7,53.0 469.8,52.2 469.9,46.1 469.9,59.1 470.0,62.6 470.1,55.4 470.2,54.6 470.3,58.2 470.4,58.8 470.4,55.4 470.5,55.5 470.6,54.9 470.7,56.0 470.8,57.9 470.8,54.5 470.9,54.9 471.0,53.2 471.1,52.9 471.2,55.6 471.3,53.8 471.3,56.1 471.4,60.5 471.5,57.5 471.6,59.5 471.7,56.4 471.8,54.1 471.8,58.3 471.9,55.0 472.0,56.3 472.1,55.0 472.2,55.5 472.3,57.2 472.3,55.3 472.4,56.0 472.5,54.6 472.6,52.8 472.7,56.2 472.8,53.2 472.8,56.1 472.9,54.8 473.0,48.8 473.1,57.3 473.2,55.7 473.3,56.7 473.3,54.6 473.4,58.1 473.5,57.5 473.6,54.5 473.7,53.3 473.8,55.0 473.8,55.1 473.9,54.2 474.0,55.2 474.1,54.7 474.2,57.2 474.3,55.1 474.3,57.0 474.4,57.9 474.5,56.3 474.6,54.8 474.7,55.9 474.7,52.8 474.8,54.6 474.9,60.0 475.0,55.5 475.1,58.8 475.2,55.7 475.2,55.8 475.3,51.4 475.4,58.3 475.5,56.2 475.6,58.4 475.7,67.6 475.7,61.1 475.8,54.8 475.9,55.7 476.0,55.3 476.1,46.9 476.2,56.1 476.2,54.4 476.3,55.9 476.4,53.1 476.5,50.8 476.6,51.6 476.7,54.9 476.7,59.4 476.8,63.9 476.9,59.9 477.0,58.1 477.1,57.4 477.2,58.4 477.2,55.8 477.3,56.8 477.4,57.9 477.5,54.6 477.6,58.0 477.7,52.4 477.7,53.5 477.8,65.0 477.9,54.1 478.0,59.0 478.1,58.4 478.1,51.2 478.2,61.4 478.3,53.8 478.4,49.0 478.5,63.5 478.6,47.6 478.6,63.2 478.7,63.7 478.8,63.8 478.9,60.2 479.0,44.0 479.1,61.3 479.1,56.5 479.2,51.4 479.3,57.8 479.4,55.6 479.5,54.7 479.6,53.0 479.6,61.7 479.7,55.2 479.8,55.5 479.9,55.9 480.0,56.4 480.1,58.1 480.1,55.0 480.2,57.9 480.3,56.6 480.4,58.7 480.5,60.7 480.6,55.2 480.6,52.8 480.7,53.4 480.8,60.6 480.9,52.3 481.0,57.2 481.1,57.6 481.1,53.8 481.2,56.5 481.3,59.2 481.4,46.4 481.5,55.1 481.5,55.1 481.6,58.4 481.7,54.7 481.8,56.9 481.9,54.4 482.0,58.1 482.0,57.5 482.1,58.4 482.2,57.1 482.3,54.7 482.4,55.7 482.5,56.7 482.5,53.9 482.6,55.7 482.7,54.8 482.8,55.4 482.9,56.1 483.0,55.8 483.0,55.4 483.1,54.2 483.2,55.1 483.3,54.5 483.4,58.0 483.5,58.6 483.5,55.6 483.6,55.8 483.7,55.4 483.8,57.9 483.9,55.8 484.0,57.3 484.0,55.8 484.1,56.1 484.2,56.3 484.3,55.4 484.4,56.7 484.5,56.0 484.5,54.9 484.6,53.0 484.7,55.2 484.8,54.1 484.9,54.8 485.0,52.6 485.0,52.2 485.1,57.3 485.2,55.0 485.3,58.6 485.4,52.9 485.4,60.3 485.5,57.2 485.6,58.7 485.7,59.3 485.8,55.6 485.9,55.0 485.9,55.2 486.0,55.5 486.1,55.3 486.2,56.7 486.3,59.5 486.4,55.4 486.4,56.1 486.5,56.9 486.6,57.2 486.7,53.4 486.8,57.4 486.9,60.5 486.9,54.8 487.0,53.2 487.1,49.5 487.2,61.2 487.3,57.8 487.4,55.2 487.4,54.7 487.5,53.1 487.6,56.1 487.7,56.5 487.8,61.5 487.9,53.6 487.9,57.2 488.0,58.8 488.1,56.4 488.2,56.0 488.3,55.2 488.4,57.0 488.4,53.3 488.5,53.1 488.6,57.7 488.7,55.8 488.8,63.7 488.8,56.3 488.9,57.4 489.0,53.3 489.1,55.7 489.2,55.8 489.3,57.8 489.3,61.2 489.4,58.9 489.5,57.3 489.6,72.8 489.7,57.4 489.8,54.3 489.8,57.1 489.9,55.5 490.0,53.6 490.1,55.7 490.2,58.5 490.3,56.4 490.3,56.1 490.4,53.1 490.5,57.9 490.6,56.3 490.7,53.4 490.8,56.1 490.8,54.4 490.9,54.9 491.0,55.6 491.1,56.4 491.2,55.9 491.3,57.1 491.3,58.4 491.4,55.6 491.5,58.8 491.6,53.3 491.7,54.7 491.8,55.0 491.8,55.6 491.9,60.7 492.0,52.4 492.1,65.4 492.2,59.6 492.2,60.2 492.3,52.7 492.4,54.6 492.5,54.5 492.6,60.4 492.7,57.2 492.7,58.9 492.8,57.8 492.9,56.9 493.0,58.6 493.1,54.1 493.2,57.5 493.2,56.7 493.3,53.4 493.4,26.2 493.5,53.2 493.6,57.2 493.7,59.0 493.7,56.9 493.8,55.1 493.9,58.6 494.0,52.9 494.1,59.5 494.2,58.2 494.2,69.0 494.3,51.3 494.4,53.9 494.5,55.2 494.6,58.3 494.7,58.5 494.7,57.5 494.8,53.0 494.9,53.4 495.0,55.7 495.1,57.1 495.2,58.9 495.2,56.8 495.3,54.8 495.4,54.9 495.5,55.0 495.6,58.0 495.7,54.5 495.7,63.7 495.8,52.8 495.9,55.1 496.0,53.8 496.1,54.6 496.1,57.7 496.2,52.6 496.3,58.4 496.4,54.4 496.5,59.4 496.6,56.7 496.6,55.5 496.7,56.8 496.8,57.5 496.9,57.3 497.0,57.4 497.1,56.0 497.1,59.0 497.2,56.1 497.3,61.1 497.4,46.4 497.5,54.8 497.6,57.3 497.6,56.9 497.7,55.0 497.8,54.0 497.9,54.7 498.0,56.4 498.1,58.7 498.1,56.1 498.2,56.1 498.3,55.6 498.4,60.6 498.5,61.8 498.6,52.3 498.6,57.2 498.7,53.2 498.8,58.1 498.9,55.6 499.0,55.2 499.1,48.4 499.1,56.0 499.2,57.3 499.3,55.7 499.4,59.7 499.5,61.2 499.5,59.2 499.6,52.6 499.7,54.3 499.8,52.4 499.9,54.9 500.0,59.0 500.0,51.9 500.1,55.4 500.2,57.6 500.3,57.3 500.4,57.5 500.5,56.9 500.5,58.4 500.6,55.5 500.7,63.7 500.8,54.5 500.9,53.9 501.0,49.6 501.0,54.8 501.1,54.9 501.2,55.8 501.3,56.2 501.4,54.8 501.5,55.3 501.5,56.2 501.6,56.6 501.7,56.0 501.8,54.8 501.9,55.2 502.0,61.2 502.0,56.2 502.1,55.7 502.2,56.7 502.3,56.2 502.4,57.7 502.5,57.1 502.5,55.6 502.6,55.6 502.7,52.5 502.8,52.4 502.9,48.9 502.9,54.8 503.0,55.5 503.1,56.9 503.2,54.6 503.3,53.9 503.4,56.0 503.4,60.3 503.5,50.1 503.6,58.2 503.7,56.4 503.8,54.7 503.9,56.0 503.9,57.8 504.0,57.2 504.1,56.5 504.2,56.5 504.3,55.9 504.4,53.0 504.4,55.5 504.5,56.7 504.6,54.7 504.7,54.5 504.8,58.1 504.9,48.5 504.9,57.9 505.0,55.4 505.1,54.6 505.2,58.7 505.3,53.8 505.4,56.9 505.4,56.5 505.5,53.4 505.6,55.7 505.7,54.0 505.8,57.4 505.9,55.3 505.9,55.9 506.0,54.2 506.1,58.1 506.2,51.9 506.3,59.5 506.4,53.3 506.4,53.6 506.5,56.3 506.6,53.6 506.7,61.4 506.8,58.5 506.8,56.3 506.9,56.6 507.0,63.9 507.1,57.0 507.2,57.1 507.3,55.0 507.3,54.0 507.4,53.9 507.5,63.1 507.6,61.4 507.7,54.8 507.8,54.6 507.8,55.2 507.9,57.7 508.0,59.0 508.1,55.7 508.2,57.6 508.3,54.4 508.3,58.2 508.4,54.9 508.5,62.0 508.6,58.8 508.7,56.9 508.8,51.9 508.8,54.6 508.9,54.7 509.0,52.0 509.1,63.3 509.2,56.7 509.3,56.7 509.3,59.9 509.4,65.6 509.5,58.5 509.6,58.9 509.7,54.6 509.8,55.8 509.8,52.6 509.9,56.8 510.0,54.5"/>
<rect class="b" x="356.4" y="17.6" width="154.0" height="76.8"/>
<text class="y" x="355.2" y="18.2">.8</text><text class="y" x="355.2" y="27.8">.6</text><text class="y" x="355.2" y="37.4">.4</text><text class="y" x="355.2" y="47.0">.2</text><text class="y" x="355.2" y="56.6">.0</text><text class="y" x="355.2" y="66.2">-.2</text><text class="y" x="355.2" y="75.8">-.4</text><text class="y" x="355.2" y="85.4">-.6</text><text class="y" x="355.2" y="95.0">-.8</text>
<text class="x" transform="translate(367.0 101.1) rotate(-60)" y="1.5">18Q3</text><text class="x" transform="translate(383.1 101.1) rotate(-60)" y="1.5">19Q1</text><text class="x" transform="translate(399.2 101.1) rotate(-60)" y="1.5">19Q3</text><text class="x" transform="translate(415.3 101.1) rotate(-60)" y="1.5">20Q1</text><text class="x" transform="translate(431.4 101.1) rotate(-60)" y="1.5">20Q3</text><text class="x" transform="translate(447.5 101.1) rotate(-60)" y="1.5">21Q1</text><text class="x" transform="translate(463.6 101.1) rotate(-60)" y="1.5">21Q3</text><text class="x" transform="translate(479.7 101.1) rotate(-60)" y="1.5">22Q1</text><text class="x" transform="translate(495.8 101.1) rotate(-60)" y="1.5">22Q3</text>
</g>
<g>
<text class="t" x="605.0" y="7.1">BAT</text>
<rect class="m" x="587.4" y="17.6" width="95.6" height="76.8"/>
<line class="g" x1="538.9" y1="17.6" x2="538.9" y2="94.4"/><line class="g" x1="555.0" y1="17.6" x2="555.0" y2="94.4"/><line class="g" x1="571.1" y1="17.6" x2="571.1" y2="94.4"/><line class="gm" x1="587.2" y1="17.6" x2="587.2" y2="94.4"/><line class="gm" x1="603.3" y1="17.6" x2="603.3" y2="94.4"/><line class="gm" x1="619.4" y1="17.6" x2="619.4" y2="94.4"/><line class="gm" x1="635.5" y1="17.6" x2="635.5" y2="94.4"/><line class="gm" x1="651.6" y1="17.6" x2="651.6" y2="94.4"/><line class="gm" x1="667.7" y1="17.6" x2="667.7" y2="94.4"/>
<polyline class="l" points="529.4,49.6 529.5,45.6 529.6,46.8 529.6,45.8 529.7,45.4 529.8,49.0 529.9,49.8 530.0,47.9 530.1,49.2 530.1,49.6 530.2,49.9 530.3,48.6 530.4,48.9 530.5,47.4 530.6,47.2 530.6,46.0 530.7,47.8 530.8,47.8 530.9,47.3 531.0,48.0 531.1,47.5 531.1,49.6 531.2,48.0 531.3,51.2 531.4,46.2 531.5,48.0 531.6,47.3 531.6,51.3 531.7,50.6 531.8,49.5 531.9,52.1 532.0,46.6 532.1,52.6 532.1,48.3 532.2,46.3 532.3,27.6 532.4,47.1 532.5,45.9 532.6,46.9 532.6,48.6 532.7,47.3 532.8,48.0 532.9,50.0 533.0,50.3 533.0,51.3 533.1,48.6 533.2,49.5 533.3,44.2 533.4,55.2 533.5,48.5 533.5,49.9 533.6,58.4 533.7,49.4 533.8,44.5 533.9,44.8 534.0,62.1 534.0,46.0 534.1,52.3 534.2,50.5 534.3,50.2 534.4,51.2 534.5,46.1 534.5,41.0 534.6,51.4 534.7,47.4 534.8,47.7 534.9,52.6 535.0,49.2 535.0,48.9 535.1,49.4 535.2,51.1 535.3,49.1 535.4,48.1 535.5,52.9 535.5,51.7 535.6,46.4 535.7,53.3 535.8,41.9 535.9,52.7 536.0,54.0 536.0,41.0 536.1,50.4 536.2,53.1 536.3,49.0 536.4,46.8 536.5,50.5 536.5,50.4 536.6,47.2 536.7,49.7 536.8,50.7 536.9,48.4 536.9,45.6 537.0,35.3 537.1,60.6 537.2,42.4 537.3,46.0 537.4,49.9 537.4,48.0 537.5,51.8 537.6,49.5 537.7,44.4 537.8,47.0 537.9,53.0 537.9,50.9 538.0,52.3 538.1,43.3 538.2,49.6 538.3,44.5 538.4,45.1 538.4,48.2 538.5,50.4 538.6,49.9 538.7,50.3 538.8,48.8 538.9,48.7 538.9,47.8 539.0,49.6 539.1,47.3 539.2,33.0 539.3,45.8 539.4,44.7 539.4,46.3 539.5,51.5 539.6,49.5 539.7,46.4 539.8,51.6 539.9,52.9 539.9,54.2 540.0,48.8 540.1,51.5 540.2,50.1 540.3,52.8 540.3,47.3 540.4,36.4 540.5,52.3 540.6,52.3 540.7,53.6 540.8,46.9 540.8,61.3 540.9,50.8 541.0,51.2 541.1,42.1 541.2,45.8 541.3,43.6 541.3,46.8 541.4,48.1 541.5,47.7 541.6,44.6 541.7,43.8 541.8,52.4 541.8,54.3 541.9,46.1 542.0,46.3 542.1,48.7 542.2,50.2 542.3,50.0 542.3,44.5 542.4,49.1 542.5,48.9 542.6,49.2 542.7,51.4 542.8,41.2 542.8,48.5 542.9,53.6 543.0,65.2 543.1,49.9 543.2,48.1 543.3,50.4 543.3,45.4 543.4,46.7 543.5,45.0 543.6,43.5 543.7,52.2 543.7,37.6 543.8,52.4 543.9,51.3 544.0,53.8 544.1,43.4 544.2,50.0 544.2,46.7 544.3,50.3 544.4,42.6 544.5,53.6 544.6,48.5 544.7,53.1 544.7,49.4 544.8,43.1 544.9,47.2 545.0,46.9 545.1,44.9 545.2,50.9 545.2,55.5 545.3,54.9 545.4,63.2 545.5,42.6 545.6,48.4 545.7,51.1 545.7,48.0 545.8,51.6 545.9,44.7 546.0,45.2 546.1,51.3 546.2,42.6 546.2,52.3 546.3,47.2 546.4,44.3 546.5,46.9 546.6,46.9 546.7,54.4 546.7,54.0 546.8,51.0 546.9,43.4 547.0,48.3 547.1,47.8 547.2,49.2 547.2,47.3 547.3,46.1 547.4,51.9 547.5,47.6 547.6,45.0 547.6,48.5 547.7,55.3 547.8,48.3 547.9,47.6 548.0,52.1 548.1,47.5 548.1,49.1 548.2,40.6 548.3,49.6 548.4,48.6 548.5,47.3 548.6,45.2 548.6,48.9 548.7,56.9 548.8,52.0 548.9,57.6 549.0,63.7 549.1,43.3 549.1,50.5 549.2,48.0 549.3,49.8 549.4,46.5 549.5,50.7 549.6,45.7 549.6,52.2 549.7,43.5 549.8,48.1 549.9,49.1 550.0,48.0 550.1,47.5 550.1,47.1 550.2,45.2 550.3,48.2 550.4,49.6 550.5,51.2 550.6,49.4 550.6,50.7 550.7,45.8 550.8,51.9 550.9,49.8 551.0,47.6 551.0,44.2 551.1,53.0 551.2,48.7 551.3,37.2 551.4,51.9 551.5,46.5 551.5,53.5 551.6,48.5 551.7,50.5 551.8,49.1 551.9,47.7 552.0,45.2 552.0,49.9 552.1,45.5 552.2,45.1 552.3,51.2 552.4,48.1 552.5,40.1 552.5,44.5 552.6,46.6 552.7,49.3 552.8,49.6 552.9,46.1 553.0,50.4 553.0,47.4 553.1,48.2 553.2,50.6 553.3,41.0 553.4,47.8 553.5,42.5 553.5,45.2 553.6,45.3 553.7,50.0 553.8,49.7 553.9,48.1 554.0,40.7 554.0,51.7 554.1,42.1 554.2,42.1 554.3,46.8 554.4,47.8 554.4,49.0 554.5,53.7 554.6,47.3 554.7,48.4 554.8,54.0 554.9,45.4 554.9,42.8 555.0,48.4 555.1,47.7 555.2,48.8 555.3,47.7 555.4,50.5 555.4,44.5 555.5,47.1 555.6,51.2 555.7,48.3 555.8,46.5 555.9,47.3 555.9,49.4 556.0,47.1 556.1,47.6 556.2,43.8 556.3,47.4 556.4,50.8 556.4,49.1 556.5,51.0 556.6,46.3 556.7,45.8 556.8,49.5 556.9,47.8 556.9,44.5 557.0,52.2 557.1,48.5 557.2,46.7 557.3,46.4 557.4,50.1 557.4,55.1 557.5,51.1 557.6,45.2 557.7,50.0 557.8,47.8 557.9,48.8 557.9,46.1 558.0,49.8 558.1,47.7 558.2,43.7 558.3,50.1 558.3,47.8 558.4,46.5 558.5,47.5 558.6,50.2 558.7,50.1 558.8,52.0 558.8,51.5 558.9,54.1 559.0,47.4 559.1,48.3 559.2,48.5 559.3,39.9 559.3,48.2 559.4,40.5 559.5,52.4 559.6,49.7 559.7,50.7 559.8,63.1 559.8,52.8 559.9,39.6 560.0,35.3 560.1,47.5 560.2,52.5 560.3,47.9 560.3,46.6 560.4,48.0 560.5,44.7 560.6,48.2 560.7,47.9 560.8,47.8 560.8,53.2 560.9,47.2 561.0,48.3 561.1,46.7 561.2,50.3 561.3,45.8 561.3,51.7 561.4,43.7 561.5,50.8 561.6,49.4 561.7,49.5 561.7,56.9 561.8,56.4 561.9,50.5 562.0,45.5 562.1,46.9 562.2,53.1 562.2,43.7 562.3,60.0 562.4,51.6 562.5,50.0 562.6,52.8 562.7,50.9 562.7,49.1 562.8,40.9 562.9,52.5 563.0,42.4 563.1,48.5 563.2,49.6 563.2,49.8 563.3,36.5 563.4,49.8 563.5,49.1 563.6,48.9 563.7,48.3 563.7,47.6 563.8,49.2 563.9,50.8 564.0,46.4 564.1,48.0 564.2,48.3 564.2,56.9 564.3,48.7 564.4,51.0 564.5,52.0 564.6,50.1 564.7,51.7 564.7,56.7 564.8,54.0 564.9,44.1 565.0,49.6 565.1,52.6 565.1,48.7 565.2,54.4 565.3,44.3 565.4,45.0 565.5,49.0 565.6,47.3 565.6,50.6 565.7,49.7 565.8,49.2 565.9,47.0 566.0,29.1 566.1,50.9 566.1,47.4 566.2,50.7 566.3,48.1 566.4,45.2 566.5,44.1 566.6,52.4 566.6,46.6 566.7,43.6 566.8,48.4 566.9,43.3 567.0,50.9 567.1,54.0 567.1,40.1 567.2,45.0 567.3,44.8 567.4,49.0 567.5,49.2 567.6,45.2 567.6,48.1 567.7,43.2 567.8,50.7 567.9,51.2 568.0,47.0 568.1,40.4 568.1,46.6 568.2,45.2 568.3,44.7 568.4,50.8 568.5,45.5 568.6,44.9 568.6,50.9 568.7,47.7 568.8,50.7 568.9,48.5 569.0,47.1 569.0,49.7 569.1,47.5 569.2,48.2 569.3,49.0 569.4,50.6 569.5,49.0 569.5,47.3 569.6,49.0 569.7,46.5 569.8,46.8 569.9,40.2 570.0,48.2 570.0,45.7 570.1,46.8 570.2,49.0 570.3,51.5 570.4,48.0 570.5,47.9 570.5,46.0 570.6,48.5 570.7,48.3 570.8,47.6 570.9,46.2 571.0,46.9 571.0,45.3 571.1,49.3 571.2,46.0 571.3,47.8 571.4,45.6 571.5,49.1 571.5,47.2 571.6,51.8 571.7,49.5 571.8,48.3 571.9,48.6 572.0,49.1 572.0,49.3 572.1,54.6 572.2,44.3 572.3,48.2 572.4,48.1 572.4,48.5 572.5,47.7 572.6,49.7 572.7,50.3 572.8,47.5 572.9,44.1 572.9,47.3 573.0,47.5 573.1,51.3 573.2,51.9 573.3,50.2 573.4,44.3 573.4,47.0 573.5,50.5 573.6,46.5 573.7,46.8 573.8,49.3 573.9,46.6 573.9,54.0 574.0,61.4 574.1,49.5 574.2,46.7 574.3,47.3 574.4,51.2 574.4,49.6 574.5,45.7 574.6,44.8 574.7,50.4 574.8,45.8 574.9,50.9 574.9,45.4 575.0,48.8 575.1,45.2 575.2,46.4 575.3,56.9 575.4,52.3 575.4,52.8 575.5,55.0 575.6,58.7 575.7,51.9 575.8,53.3 575.8,49.5 575.9,47.1 576.0,49.3 576.1,53.8 576.2,47.4 576.3,49.2 576.3,50.6 576.4,51.8 576.5,46.9 576.6,48.4 576.7,53.0 576.8,50.5 576.8,41.0 576.9,43.6 577.0,44.8 577.1,38.2 577.2,46.0 577.3,52.9 577.3,49.5 577.4,49.4 577.5,42.9 577.6,44.2 577.7,49.4 577.8,45.1 577.8,51.9 577.9,46.3 578.0,46.5 578.1,50.3 578.2,47.7 578.3,47.7 578.3,37.3 578.4,49.4 578.5,50.5 578.6,50.5 578.7,47.9 578.8,50.1 578.8,48.4 578.9,55.3 579.0,49.2 579.1,53.7 579.2,42.7 579.3,44.5 579.3,47.2 579.4,49.3 579.5,55.2 579.6,52.9 579.7,55.1 579.7,45.9 579.8,59.8 579.9,51.9 580.0,50.0 580.1,39.4 580.2,47.4 580.2,48.0 580.3,46.3 580.4,48.1 580.5,47.7 580.6,45.4 580.7,53.8 580.7,40.7 580.8,47.2 580.9,41.6 581.0,47.4 581.1,43.1 581.2,46.2 581.2,55.4 581.3,47.8 581.4,48.8 581.5,42.9 581.6,45.0 581.7,41.0 581.7,54.0 581.8,56.0 581.9,46.3 582.0,40.5 582.1,53.4 582.2,53.2 582.2,52.4 582.3,48.7 582.4,43.7 582.5,48.5 582.6,47.0 582.7,52.9 582.7,54.1 582.8,47.0 582.9,46.7 583.0,50.8 583.1,47.5 583.1,59.7 583.2,54.2 583.3,50.6 583.4,48.2 583.5,41.8 583.6,50.8 583.6,49.7 583.7,50.2 583.8,46.1 583.9,60.4 584.0,52.0 584.1,51.1 584.1,53.6 584.2,47.3 584.3,41.3 584.4,46.2 584.5,46.4 584.6,46.5 584.6,49.5 584.7,52.9 584.8,52.1 584.9,45.1 585.0,53.4 585.1,36.2 585.1,52.0 585.2,49.8 585.3,50.8 585.4,52.8 585.5,50.0 585.6,49.1 585.6,49.3 585.7,46.1 585.8,47.7 585.9,41.6 586.0,50.4 586.1,53.3 586.1,51.9 586.2,49.0 586.3,40.5 586.4,47.3 586.5,50.5 586.5,47.2 586.6,35.8 586.7,50.1 586.8,51.3 586.9,57.2 587.0,56.6 587.0,51.9 587.1,51.2 587.2,52.5 587.3,47.2 587.4,53.1 587.5,40.3 587.5,52.7 587.6,44.2 587.7,45.8 587.8,44.7 587.9,47.6 588.0,51.9 588.0,41.5 588.1,47.7 588.2,51.5 588.3,45.3 588.4,48.4 588.5,52.6 588.5,47.0 588.6,48.2 588.7,47.1 588.8,48.3 588.9,46.0 589.0,47.2 589.0,49.2 589.1,48.2 589.2,45.3 589.3,48.3 589.4,50.4 589.5,47.7 589.5,46.4 589.6,58.0 589.7,52.4 589.8,52.1 589.9,49.1 590.0,45.3 590.0,47.5 590.1,43.1 590.2,42.8 590.3,60.6 590.4,47.3 590.4,48.9 590.5,37.5 590.6,47.4 590.7,52.8 590.8,45.0 590.9,55.5 590.9,33.7 591.0,49.1 591.1,51.3 591.2,47.6 591.3,47.7 591.4,48.1 591.4,51.9 591.5,71.4 591.6,42.4 591.7,39.0 591.8,46.3 591.9,53.2 591.9,49.1 592.0,49.9 592.1,48.0 592.2,46.4 592.3,50.4 592.4,47.1 592.4,52.9 592.5,53.6 592.6,48.6 592.7,48.3 592.8,49.1 592.9,42.8 592.9,53.0 593.0,90.6 593.1,50.7 593.2,45.8 593.3,48.5 593.4,49.5 593.4,50.9 593.5,53.3 593.6,49.7 593.7,47.6 593.8,48.7 593.8,48.5 593.9,46.1 594.0,45.8 594.1,48.8 594.2,52.1 594.3,52.2 594.3,45.4 594.4,48.7 594.5,54.1 594.6,48.3 594.7,48.8 594.8,46.6 594.8,48.3 594.9,46.8 595.0,33.0 595.1,45.8 595.2,51.4 595.3,48.7 595.3,47.8 595.4,49.2 595.5,45.9 595.6,47.4 595.7,47.8 595.8,41.7 595.8,47.3 595.9,47.2 596.0,50.2 596.1,48.4 596.2,43.5 596.3,49.0 596.3,48.1 596.4,43.9 596.5,50.9 596.6,42.6 596.7,45.9 596.8,46.8 596.8,52.3 596.9,49.5 597.0,47.6 597.1,50.2 597.2,48.1 597.2,46.2 597.3,47.8 597.4,49.3 597.5,47.9 597.6,50.5 597.7,48.5 597.7,50.6 597.8,49.1 597.9,51.1 598.0,49.5 598.1,49.2 598.2,46.2 598.2,42.8 598.3,44.9 598.4,46.0 598.5,48.2 598.6,47.3 598.7,49.9 598.7,48.3 598.8,49.3 598.9,50.1 599.0,46.4 599.1,53.3 599.2,47.7 599.2,48.8 599.3,46.6 599.4,47.5 599.5,51.5 599.6,47.8 599.7,43.6 599.7,46.8 599.8,46.5 599.9,47.4 600.0,45.6 600.1,53.9 600.2,42.9 600.2,49.2 600.3,51.6 600.4,50.4 600.5,46.1 600.6,49.8 600.7,49.8 600.7,46.2 600.8,47.3 600.9,49.2 601.0,49.5 601.1,48.7 601.1,48.1 601.2,46.5 601.3,47.6 601.4,49.6 601.5,48.6 601.6,50.3 601.6,41.6 601.7,44.4 601.8,51.7 601.9,49.6 602.0,46.5 602.1,47.8 602.1,48.9 602.2,50.0 602.3,41.3 602.4,46.8 602.5,48.5 602.6,47.5 602.6,43.0 602.7,50.8 602.8,51.0 602.9,47.6 603.0,50.6 603.1,48.3 603.1,51.5 603.2,51.8 603.3,48.6 603.4,48.9 603.5,48.9 603.6,47.9 603.6,50.6 603.7,48.7 603.8,47.5 603.9,47.5 604.0,39.1 604.1,47.8 604.1,49.9 604.2,47.3 604.3,49.6 604.4,46.1 604.5,53.8 604.5,50.6 604.6,48.7 604.7,48.6 604.8,47.2 604.9,51.3 605.0,53.4 605.0,50.6 605.1,52.1 605.2,48.9 605.3,50.1 605.4,48.2 605.5,45.0 605.5,48.7 605.6,45.3 605.7,43.8 605.8,43.8 605.9,47.8 606.0,52.3 606.0,45.5 606.1,45.5 606.2,48.3 606.3,46.3 606.4,46.5 606.5,51.8 606.5,50.2 606.6,46.7 606.7,54.0 606.8,58.3 606.9,51.4 607.0,45.0 607.0,49.0 607.1,45.5 607.2,39.6 607.3,53.8 607.4,51.1 607.5,57.7 607.5,45.7 607.6,53.2 607.7,41.9 607.8,51.1 607.9,42.5 607.9,51.8 608.0,53.2 608.1,48.5 608.2,50.1 608.3,42.7 608.4,49.0 608.4,54.7 608.5,48.3 608.6,50.7 608.7,49.7 608.8,50.6 608.9,51.1 608.9,53.2 609.0,47.8 609.1,60.5 609.2,48.6 609.3,53.6 609.4,43.9 609.4,50.0 609.5,49.6 609.6,44.1 609.7,47.5 609.8,43.0 609.9,50.8 609.9,50.0 610.0,49.5 610.1,48.7 610.2,44.2 610.3,51.4 610.4,48.0 610.4,46.6 610.5,46.5 610.6,49.0 610.7,40.5 610.8,47.4 610.9,56.6 610.9,48.5 611.0,49.0 611.1,45.8 611.2,48.7 611.3,48.5 611.3,45.8 611.4,48.3 611.5,48.3 611.6,48.7 611.7,45.3 611.8,48.4 611.8,45.9 611.9,46.8 612.0,48.2 612.1,46.6 612.2,49.4 612.3,45.2 612.3,49.5 612.4,47.8 612.5,46.8 612.6,47.8 612.7,46.7 612.8,46.3 612.8,49.9 612.9,48.8 613.0,47.4 613.1,47.9 613.2,48.8 613.3,41.9 613.3,50.3 613.4,55.0 613.5,45.8 613.6,47.8 613.7,46.0 613.8,43.6 613.8,50.4 613.9,50.6 614.0,47.9 614.1,46.1 614.2,50.1 614.3,48.4 614.3,46.5 614.4,49.6 614.5,45.6 614.6,50.1 614.7,49.5 614.8,50.5 614.8,47.7 614.9,44.0 615.0,48.3 615.1,48.3 615.2,49.0 615.2,48.9 615.3,48.7 615.4,48.0 615.5,49.2 615.6,49.3 615.7,49.9 615.7,46.8 615.8,46.3 615.9,47.6 616.0,45.8 616.1,48.3 616.2,47.4 616.2,46.5 616.3,48.4 616.4,50.0 616.5,45.1 616.6,48.3 616.7,49.4 616.7,47.8 616.8,46.6 616.9,49.0 617.0,47.4 617.1,47.9 617.2,48.6 617.2,48.8 617.3,47.9 617.4,52.5 617.5,48.6 617.6,50.7 617.7,50.7 617.7,47.6 617.8,49.2 617.9,49.0 618.0,48.6 618.1,52.2 618.2,54.5 618.2,44.8 618.3,50.9 618.4,49.2 618.5,44.0 618.6,49.0 618.6,48.6 618.7,52.1 618.8,50.5 618.9,45.4 619.0,33.0 619.1,47.1 619.1,47.2 619.2,49.1 619.3,48.2 619.4,49.4 619.5,47.5 619.6,49.5 619.6,47.6 619.7,47.7 619.8,45.5 619.9,43.2 620.0,55.1 620.1,52.0 620.1,46.3 620.2,48.9 620.3,50.0 620.4,51.3 620.5,50.5 620.6,49.3 620.6,49.1 620.7,45.4 620.8,48.9 620.9,48.4 621.0,53.4 621.1,49.7 621.1,39.9 621.2,44.7 621.3,52.6 621.4,53.2 621.5,49.0 621.6,51.0 621.6,46.9 621.7,46.6 621.8,46.8 621.9,45.9 622.0,26.8 622.0,53.0 622.1,46.7 622.2,42.2 622.3,38.1 622.4,52.1 622.5,44.4 622.5,47.8 622.6,51.6 622.7,42.8 622.8,44.8 622.9,48.7 623.0,47.7 623.0,51.6 623.1,48.1 623.2,52.8 623.3,42.4 623.4,45.3 623.5,48.0 623.5,51.5 623.6,50.0 623.7,46.6 623.8,48.9 623.9,48.2 624.0,49.0 624.0,52.6 624.1,44.3 624.2,54.2 624.3,49.6 624.4,53.8 624.5,63.2 624.5,48.7 624.6,40.1 624.7,47.7 624.8,44.9 624.9,41.3 625.0,45.7 625.0,25.3 625.1,42.8 625.2,45.5 625.3,52.8 625.4,51.1 625.5,45.8 625.5,42.1 625.6,49.5 625.7,49.2 625.8,46.6 625.9,45.6 625.9,49.4 626.0,51.1 626.1,52.6 626.2,50.8 626.3,54.0 626.4,51.5 626.4,43.1 626.5,46.4 626.6,51.8 626.7,43.1 626.8,55.4 626.9,46.1 626.9,51.7 627.0,46.5 627.1,43.4 627.2,52.8 627.3,46.7 627.4,48.8 627.4,49.0 627.5,52.1 627.6,48.7 627.7,48.7 627.8,44.4 627.9,48.9 627.9,50.7 628.0,45.3 628.1,49.0 628.2,45.8 628.3,49.5 628.4,51.3 628.4,42.3 628.5,44.0 628.6,62.9 628.7,48.0 628.8,54.5 628.9,52.9 628.9,53.2 629.0,63.7 629.1,45.6 629.2,54.1 629.3,49.0 629.3,52.3 629.4,48.7 629.5,52.7 629.6,49.6 629.7,47.6 629.8,49.4 629.8,46.4 629.9,47.8 630.0,51.6 630.1,49.3 630.2,48.4 630.3,46.2 630.3,45.8 630.4,49.0 630.5,39.0 630.6,48.7 630.7,47.5 630.8,51.7 630.8,50.4 630.9,50.7 631.0,77.5 631.1,57.2 631.2,49.7 631.3,46.8 631.3,51.1 631.4,43.3 631.5,52.0 631.6,47.9 631.7,45.5 631.8,49.5 631.8,51.4 631.9,50.1 632.0,47.9 632.1,45.1 632.2,48.7 632.3,46.7 632.3,45.5 632.4,47.2 632.5,46.0 632.6,46.3 632.7,45.4 632.7,51.9 632.8,50.5 632.9,50.9 633.0,41.7 633.1,49.1 633.2,53.4 633.2,45.5 633.3,47.1 633.4,49.4 633.5,45.6 633.6,50.8 633.7,51.1 633.7,50.6 633.8,44.5 633.9,56.1 634.0,45.2 634.1,51.1 634.2,52.5 634.2,47.8 634.3,49.1 634.4,52.5 634.5,48.0 634.6,45.1 634.7,48.0 634.7,50.3 634.8,49.6 634.9,50.3 635.0,52.6 635.1,51.1 635.2,51.3 635.2,49.9 635.3,53.4 635.4,48.1 635.5,46.8 635.6,42.2 635.7,54.2 635.7,51.5 635.8,55.1 635.9,48.0 636.0,58.8 636.1,49.1 636.2,47.7 636.2,47.0 636.3,46.7 636.4,52.8 636.5,48.9 636.6,51.2 636.6,46.6 636.7,51.6 636.8,52.5 636.9,50.4 637.0,43.5 637.1,46.4 637.1,46.2 637.2,49.7 637.3,47.7 637.4,50.8 637.5,44.4 637.6,46.0 637.6,46.4 637.7,48.6 637.8,49.7 637.9,49.4 638.0,41.0 638.1,51.3 638.1,51.1 638.2,41.5 638.3,46.6 638.4,46.2 638.5,48.5 638.6,46.9 638.6,52.2 638.7,47.0 638.8,42.2 638.9,46.6 639.0,44.5 639.1,46.2 639.1,46.3 639.2,45.9 639.3,51.5 639.4,49.5 639.5,54.3 639.6,49.6 639.6,46.0 639.7,50.0 639.8,48.9 639.9,49.6 640.0,63.7 640.0,44.1 640.1,53.3 640.2,51.3 640.3,51.0 640.4,42.5 640.5,47.4 640.5,52.6 640.6,47.2 640.7,46.3 640.8,48.1 640.9,47.4 641.0,43.1 641.0,48.4 641.1,49.0 641.2,47.6 641.3,48.5 641.4,49.8 641.5,48.8 641.5,50.2 641.6,45.3 641.7,50.8 641.8,45.1 641.9,49.8 642.0,52.1 642.0,49.4 642.1,44.5 642.2,48.0 642.3,43.7 642.4,45.1 642.5,47.1 642.5,38.7 642.6,45.3 642.7,47.9 642.8,38.4 642.9,48.7 643.0,46.2 643.0,47.4 643.1,55.3 643.2,42.1 643.3,46.6 643.4,46.4 643.4,46.7 643.5,47.1 643.6,48.6 643.7,50.2 643.8,55.5 643.9,51.0 643.9,46.6 644.0,51.6 644.1,48.6 644.2,51.0 644.3,51.4 644.4,45.6 644.4,47.6 644.5,44.3 644.6,52.6 644.7,50.7 644.8,47.8 644.9,45.5 644.9,58.7 645.0,43.2 645.1,52.6 645.2,48.8 645.3,50.1 645.4,43.3 645.4,52.8 645.5,50.9 645.6,45.8 645.7,51.0 645.8,53.7 645.9,55.6 645.9,45.2 646.0,29.1 646.1,54.2 646.2,50.1 646.3,52.9 646.4,59.5 646.4,44.4 646.5,53.6 646.6,50.2 646.7,52.8 646.8,44.0 646.9,49.4 646.9,42.8 647.0,53.4 647.1,50.8 647.2,49.4 647.3,48.1 647.3,50.1 647.4,40.7 647.5,50.0 647.6,55.0 647.7,52.5 647.8,49.7 647.8,42.9 647.9,46.6 648.0,33.0 648.1,45.5 648.2,49.2 648.3,47.2 648.3,51.4 648.4,50.0 648.5,44.1 648.6,48.2 648.7,47.8 648.8,47.1 648.8,46.2 648.9,49.6 649.0,51.2 649.1,48.7 649.2,46.3 649.3,49.3 649.3,45.9 649.4,51.8 649.5,49.8 649.6,50.6 649.7,52.1 649.8,44.6 649.8,48.6 649.9,43.5 650.0,47.1 650.1,51.4 650.2,44.7 650.3,46.6 650.3,43.1 650.4,46.0 650.5,48.9 650.6,47.3 650.7,48.9 650.7,50.8 650.8,56.7 650.9,45.1 651.0,51.3 651.1,45.4 651.2,44.3 651.2,47.9 651.3,49.5 651.4,45.5 651.5,50.7 651.6,44.8 651.7,45.9 651.7,48.8 651.8,50.9 651.9,51.7 652.0,48.9 652.1,51.8 652.2,48.7 652.2,47.9 652.3,49.2 652.4,47.3 652.5,46.0 652.6,51.6 652.7,48.5 652.7,50.5 652.8,50.0 652.9,49.1 653.0,45.9 653.1,45.5 653.2,49.9 653.2,48.6 653.3,49.0 653.4,49.1 653.5,44.1 653.6,46.1 653.7,52.2 653.7,47.4 653.8,46.9 653.9,50.5 654.0,45.5 654.1,46.9 654.1,45.1 654.2,51.0 654.3,48.9 654.4,51.4 654.5,49.3 654.6,49.1 654.6,50.0 654.7,48.3 654.8,50.3 654.9,47.0 655.0,47.3 655.1,51.7 655.1,49.6 655.2,48.0 655.3,44.2 655.4,49.1 655.5,45.5 655.6,52.7 655.6,48.2 655.7,50.0 655.8,50.0 655.9,50.8 656.0,48.1 656.1,48.1 656.1,44.9 656.2,46.5 656.3,49.3 656.4,48.2 656.5,46.9 656.6,46.7 656.6,47.1 656.7,46.8 656.8,47.5 656.9,45.1 657.0,45.3 657.1,51.2 657.1,46.6 657.2,36.7 657.3,49.5 657.4,43.4 657.5,47.8 657.6,47.4 657.6,45.1 657.7,51.7 657.8,50.2 657.9,49.3 658.0,51.8 658.0,47.6 658.1,50.9 658.2,47.6 658.3,48.2 658.4,48.2 658.5,46.3 658.5,49.8 658.6,45.4 658.7,57.0 658.8,48.3 658.9,60.3 659.0,45.4 659.0,47.3 659.1,56.9 659.2,41.1 659.3,55.6 659.4,48.0 659.5,46.4 659.5,50.6 659.6,46.5 659.7,49.4 659.8,46.8 659.9,48.1 660.0,50.5 660.0,47.3 660.1,48.4 660.2,49.2 660.3,48.5 660.4,47.1 660.5,48.0 660.5,48.9 660.6,49.1 660.7,48.6 660.8,50.8 660.9,53.8 661.0,49.1 661.0,45.7 661.1,54.7 661.2,48.5 661.3,45.4 661.4,48.9 661.4,48.4 661.5,48.6 661.6,53.5 661.7,51.8 661.8,46.8 661.9,49.6 661.9,47.4 662.0,47.6 662.1,52.0 662.2,51.4 662.3,51.0 662.4,52.8 662.4,51.3 662.5,48.4 662.6,52.7 662.7,45.9 662.8,51.6 662.9,49.8 662.9,50.8 663.0,44.5 663.1,47.8 663.2,40.9 663.3,50.9 663.4,60.0 663.4,46.4 663.5,47.6 663.6,57.9 663.7,48.9 663.8,45.6 663.9,46.7 663.9,45.3 664.0,52.2 664.1,46.5 664.2,47.8 664.3,46.7 664.4,53.7 664.4,51.5 664.5,48.4 664.6,45.4 664.7,46.8 664.8,50.5 664.8,52.9 664.9,45.2 665.0,33.0 665.1,56.6 665.2,50.2 665.3,45.6 665.3,43.9 665.4,48.9 665.5,51.9 665.6,67.5 665.7,50.2 665.8,57.7 665.8,49.9 665.9,47.0 666.0,52.2 666.1,47.4 666.2,45.8 666.3,48.4 666.3,42.8 666.4,48.6 666.5,45.3 666.6,48.3 666.7,52.0 666.8,46.0 666.8,47.3 666.9,44.1 667.0,44.3 667.1,46.1 667.2,49.0 667.3,53.4 667.3,53.9 667.4,57.3 667.5,49.9 667.6,48.4 667.7,50.4 667.8,50.2 667.8,46.9 667.9,48.0 668.0,48.3 668.1,45.8 668.2,49.7 668.3,47.6 668.3,50.2 668.4,49.2 668.5,44.1 668.6,48.8 668.7,50.0 668.7,49.2 668.8,46.2 668.9,50.4 669.0,43.9 669.1,45.3 669.2,51.0 669.2,49.1 669.3,50.3 669.4,45.3 669.5,46.8 669.6,47.4 669.7,48.9 669.7,46.3 669.8,49.2 669.9,46.4 670.0,47.8 670.1,46.9 670.2,55.2 670.2,47.8 670.3,48.5 670.4,51.3 670.5,46.1 670.6,47.7 670.7,48.3 670.7,48.5 670.8,49.2 670.9,49.1 671.0,48.3 671.1,47.0 671.2,48.0 671.2,45.2 671.3,47.2 671.4,49.7 671.5,46.4 671.6,49.2 671.7,43.8 671.7,49.3 671.8,47.1 671.9,50.2 672.0,45.8 672.1,49.0 672.1,49.1 672.2,49.6 672.3,50.4 672.4,53.6 672.5,51.5 672.6,43.8 672.6,48.8 672.7,54.3 672.8,38.6 672.9,47.0 673.0,47.8 673.1,50.7 673.1,49.3 673.2,57.1 673.3,36.5 673.4,54.8 673.5,52.7 673.6,46.8 673.6,45.7 673.7,45.4 673.8,49.8 673.9,47.6 674.0,49.1 674.1,47.8 674.1,48.2 674.2,42.4 674.3,46.1 674.4,49.5 674.5,50.0 674.6,49.2 674.6,50.4 674.7,53.6 674.8,57.1 674.9,47.1 675.0,45.9 675.1,49.7 675.1,41.1 675.2,50.4 675.3,56.2 675.4,55.7 675.5,43.5 675.5,44.8 675.6,44.5 675.7,59.6 675.8,43.3 675.9,52.4 676.0,52.6 676.0,48.8 676.1,49.6 676.2,48.3 676.3,55.3 676.4,44.4 676.5,60.5 676.5,53.1 676.6,57.2 676.7,56.7 676.8,42.1 676.9,50.4 677.0,41.5 677.0,48.7 677.1,42.1 677.2,46.6 677.3,48.6 677.4,46.7 677.5,49.6 677.5,45.4 677.6,50.4 677.7,49.8 677.8,49.6 677.9,44.6 678.0,55.9 678.0,49.4 678.1,54.7 678.2,39.2 678.3,36.8 678.4,47.6 678.5,49.3 678.5,47.6 678.6,47.8 678.7,52.6 678.8,52.1 678.9,48.9 679.0,41.3 679.0,36.8 679.1,47.7 679.2,46.9 679.3,47.3 679.4,47.3 679.4,43.3 679.5,47.9 679.6,46.8 679.7,46.5 679.8,48.0 679.9,48.7 679.9,50.1 680.0,49.4 680.1,49.8 680.2,45.4 680.3,45.2 680.4,48.9 680.4,50.3 680.5,46.1 680.6,44.2 680.7,46.6 680.8,52.7 680.9,63.4 680.9,43.1 681.0,45.1 681.1,50.6 681.2,48.7 681.3,49.0 681.4,48.3 681.4,52.0 681.5,45.6 681.6,44.1 681.7,51.8 681.8,45.0 681.9,63.1 681.9,44.8 682.0,47.6 682.1,45.7 682.2,44.2 682.3,47.8 682.4,46.0 682.4,49.4 682.5,47.6 682.6,53.7"/>
<rect class="b" x="529.0" y="17.6" width="154.0" height="76.8"/>
<text class="y" x="527.8" y="18.2">.4</text><text class="y" x="527.8" y="25.9">.3</text><text class="y" x="527.8" y="33.6">.2</text><text class="y" x="527.8" y="41.2">.1</text><text class="y" x="527.8" y="48.9">.0</text><text class="y" x="527.8" y="56.6">-.1</text><text class="y" x="527.8" y="64.3">-.2</text><text class="y" x="527.8" y="72.0">-.3</text><text class="y" x="527.8" y="79.6">-.4</text><text class="y" x="527.8" y="87.3">-.5</text><text class="y" x="527.8" y="95.0">-.6</text>
<text class="x" transform="translate(539.6 101.1) rotate(-60)" y="1.5">18Q3</text><text class="x" transform="translate(555.7 101.1) rotate(-60)" y="1.5">19Q1</text><text class="x" transform="translate(571.8 101.1) rotate(-60)" y="1.5">19Q3</text><text class="x" transform="translate(587.9 101.1) rotate(-60)" y="1.5">20Q1</text><text class="x" transform="translate(604.0 101.1) rotate(-60)" y="1.5">20Q3</text><text class="x" transform="translate(620.1 101.1) rotate(-60)" y="1.5">21Q1</text><text class="x" transform="translate(636.2 101.1) rotate(-60)" y="1.5">21Q3</text><text class="x" transform="translate(652.3 101.1) rotate(-60)" y="1.5">22Q1</text><text class="x" transform="translate(668.4 101.1) rotate(-60)" y="1.5">22Q3</text>
</g>
<g>
<text class="t" x="88.6" y="115.2">Vietnam</text>
<rect class="m" x="70.0" y="125.7" width="95.6" height="76.8"/>
<line class="g" x1="21.5" y1="125.7" x2="21.5" y2="202.5"/><line class="g" x1="37.6" y1="125.7" x2="37.6" y2="202.5"/><line class="g" x1="53.7" y1="125.7" x2="53.7" y2="202.5"/><line class="gm" x1="69.8" y1="125.7" x2="69.8" y2="202.5"/><line class="gm" x1="85.9" y1="125.7" x2="85.9" y2="202.5"/><line class="gm" x1="102.0" y1="125.7" x2="102.0" y2="202.5"/><line class="gm" x1="118.1" y1="125.7" x2="118.1" y2="202.5"/><line class="gm" x1="134.2" y1="125.7" x2="134.2" y2="202.5"/><line class="gm" x1="150.3" y1="125.7" x2="150.3" y2="202.5"/>
<polyline class="l" points="12.0,160.3 12.1,160.6 12.2,154.8 12.3,160.9 12.4,163.6 12.5,163.5 12.5,156.1 12.6,156.9 12.7,165.2 12.8,161.3 12.9,159.5 13.0,163.5 13.1,157.1 13.2,157.8 13.3,153.3 13.4,152.7 13.4,157.7 13.5,152.8 13.6,157.1 13.7,158.2 13.8,155.1 13.9,155.0 14.0,158.8 14.1,156.8 14.2,165.2 14.3,159.0 14.4,159.4 14.4,155.8 14.5,156.7 14.6,144.9 14.7,157.6 14.8,159.5 14.9,159.0 15.0,158.1 15.1,164.2 15.2,156.5 15.3,151.9 15.3,160.4 15.4,162.6 15.5,153.9 15.6,156.2 15.7,165.5 15.8,161.7 15.9,163.2 16.0,166.1 16.1,153.9 16.2,160.1 16.3,155.0 16.3,154.3 16.4,157.5 16.5,161.9 16.6,183.3 16.7,169.6 16.8,168.0 16.9,167.1 17.0,149.3 17.1,155.4 17.2,161.5 17.2,159.2 17.3,150.9 17.4,157.3 17.5,153.5 17.6,149.6 17.7,162.6 17.8,154.6 17.9,163.6 18.0,160.6 18.1,184.4 18.2,155.2 18.2,162.8 18.3,160.4 18.4,155.2 18.5,157.4 18.6,143.8 18.7,154.2 18.8,154.6 18.9,160.5 19.0,155.3 19.1,154.7 19.1,158.9 19.2,156.3 19.3,156.0 19.4,156.0 19.5,153.7 19.6,150.6 19.7,158.4 19.8,149.3 19.9,155.2 20.0,160.0 20.1,158.7 20.1,154.7 20.2,155.1 20.3,151.8 20.4,159.0 20.5,159.3 20.6,162.6 20.7,153.2 20.8,160.9 20.9,156.1 21.0,161.2 21.0,150.5 21.1,161.2 21.2,160.6 21.3,150.8 21.4,153.8 21.5,159.6 21.6,148.6 21.7,165.1 21.8,156.7 21.9,165.0 22.0,152.7 22.0,154.9 22.1,160.0 22.2,160.1 22.3,167.8 22.4,157.8 22.5,161.7 22.6,163.9 22.7,153.4 22.8,152.3 22.9,154.0 22.9,155.3 23.0,157.5 23.1,173.5 23.2,147.4 23.3,155.1 23.4,158.8 23.5,155.6 23.6,158.1 23.7,157.9 23.8,154.6 23.9,157.6 23.9,148.5 24.0,153.3 24.1,148.8 24.2,157.8 24.3,153.1 24.4,148.7 24.5,164.9 24.6,158.5 24.7,145.3 24.8,156.3 24.8,159.3 24.9,171.2 25.0,153.7 25.1,162.8 25.2,160.6 25.3,157.3 25.4,160.4 25.5,160.1 25.6,162.5 25.7,163.6 25.8,158.7 25.8,153.5 25.9,153.6 26.0,151.5 26.1,155.3 26.2,159.0 26.3,149.1 26.4,157.3 26.5,159.8 26.6,159.5 26.7,162.3 26.7,162.3 26.8,155.3 26.9,160.5 27.0,159.2 27.1,156.2 27.2,153.5 27.3,163.0 27.4,150.0 27.5,173.1 27.6,160.5 27.7,155.9 27.7,167.9 27.8,160.2 27.9,158.2 28.0,159.5 28.1,169.5 28.2,157.6 28.3,158.4 28.4,159.6 28.5,159.8 28.6,158.9 28.7,154.7 28.7,156.3 28.8,154.8 28.9,160.7 29.0,159.4 29.1,161.7 29.2,156.8 29.3,151.0 29.4,148.6 29.5,158.3 29.6,156.9 29.6,151.3 29.7,169.5 29.8,158.5 29.9,153.5 30.0,149.7 30.1,184.9 30.2,174.0 30.3,165.0 30.4,160.9 30.5,158.6 30.6,156.3 30.6,165.1 30.7,153.0 30.8,159.9 30.9,154.0 31.0,162.1 31.1,157.3 31.2,154.9 31.3,157.2 31.4,157.6 31.5,161.2 31.5,160.6 31.6,162.2 31.7,154.4 31.8,158.1 31.9,157.4 32.0,157.3 32.1,154.1 32.2,159.3 32.3,156.8 32.4,161.1 32.5,153.7 32.5,157.1 32.6,143.8 32.7,160.5 32.8,166.6 32.9,162.3 33.0,159.2 33.1,160.1 33.2,143.5 33.3,160.0 33.4,163.0 33.4,149.3 33.5,143.8 33.6,162.1 33.7,160.7 33.8,157.1 33.9,158.2 34.0,160.0 34.1,159.9 34.2,155.8 34.3,155.2 34.4,158.7 34.4,160.4 34.5,157.8 34.6,154.5 34.7,152.5 34.8,157.4 34.9,162.1 35.0,152.8 35.1,144.0 35.2,157.4 35.3,161.3 35.3,164.8 35.4,159.5 35.5,157.0 35.6,161.5 35.7,158.9 35.8,155.4 35.9,155.7 36.0,157.7 36.1,155.7 36.2,157.3 36.3,156.9 36.3,153.4 36.4,160.9 36.5,150.0 36.6,151.3 36.7,160.9 36.8,149.7 36.9,158.3 37.0,155.0 37.1,158.0 37.2,154.1 37.2,160.2 37.3,158.4 37.4,165.9 37.5,154.2 37.6,159.4 37.7,158.3 37.8,159.6 37.9,159.9 38.0,160.2 38.1,160.9 38.2,159.7 38.2,161.7 38.3,158.3 38.4,162.9 38.5,161.2 38.6,159.1 38.7,158.0 38.8,159.1 38.9,161.8 39.0,159.0 39.1,160.2 39.1,158.2 39.2,156.5 39.3,158.2 39.4,160.0 39.5,157.8 39.6,156.7 39.7,159.9 39.8,157.7 39.9,159.1 40.0,158.2 40.1,157.1 40.1,159.6 40.2,160.0 40.3,155.8 40.4,162.2 40.5,156.3 40.6,157.8 40.7,163.1 40.8,157.5 40.9,159.2 41.0,158.7 41.0,149.6 41.1,156.9 41.2,159.1 41.3,160.0 41.4,154.0 41.5,157.0 41.6,143.3 41.7,157.7 41.8,159.8 41.9,163.3 42.0,162.3 42.0,164.7 42.1,162.5 42.2,156.8 42.3,159.1 42.4,163.0 42.5,160.0 42.6,177.8 42.7,161.3 42.8,156.9 42.9,161.0 42.9,159.8 43.0,159.5 43.1,157.2 43.2,160.1 43.3,159.6 43.4,161.1 43.5,156.4 43.6,158.3 43.7,161.8 43.8,160.8 43.9,162.0 43.9,159.4 44.0,159.3 44.1,158.1 44.2,149.6 44.3,155.8 44.4,160.9 44.5,157.9 44.6,154.1 44.7,156.1 44.8,173.1 44.8,159.7 44.9,162.5 45.0,164.7 45.1,161.3 45.2,160.9 45.3,155.7 45.4,161.4 45.5,157.6 45.6,158.3 45.7,155.2 45.8,160.2 45.8,156.7 45.9,166.1 46.0,157.3 46.1,155.6 46.2,159.8 46.3,158.0 46.4,156.5 46.5,160.3 46.6,160.9 46.7,162.0 46.7,158.8 46.8,160.8 46.9,155.6 47.0,158.6 47.1,157.2 47.2,158.6 47.3,155.1 47.4,156.0 47.5,159.1 47.6,158.5 47.7,162.9 47.7,147.1 47.8,161.7 47.9,155.2 48.0,153.5 48.1,151.4 48.2,155.8 48.3,161.4 48.4,162.6 48.5,163.5 48.6,160.4 48.6,160.3 48.7,157.2 48.8,156.7 48.9,159.5 49.0,156.3 49.1,155.8 49.2,164.2 49.3,159.7 49.4,159.4 49.5,154.3 49.6,166.9 49.6,158.0 49.7,160.4 49.8,157.5 49.9,154.8 50.0,159.0 50.1,161.9 50.2,155.5 50.3,162.6 50.4,159.7 50.5,155.7 50.5,161.3 50.6,159.2 50.7,162.5 50.8,153.5 50.9,158.9 51.0,157.0 51.1,160.8 51.2,151.7 51.3,154.1 51.4,158.3 51.5,157.3 51.5,163.1 51.6,157.8 51.7,154.6 51.8,172.8 51.9,159.6 52.0,159.9 52.1,157.3 52.2,158.0 52.3,150.4 52.4,155.4 52.4,160.3 52.5,150.4 52.6,160.4 52.7,161.1 52.8,158.0 52.9,162.5 53.0,163.0 53.1,159.3 53.2,155.6 53.3,159.7 53.4,168.0 53.4,159.2 53.5,158.5 53.6,159.8 53.7,154.6 53.8,157.8 53.9,163.0 54.0,157.5 54.1,156.6 54.2,155.5 54.3,159.0 54.3,163.3 54.4,157.9 54.5,160.2 54.6,160.5 54.7,159.1 54.8,157.7 54.9,158.8 55.0,163.8 55.1,161.1 55.2,158.3 55.3,159.5 55.3,158.7 55.4,159.6 55.5,156.8 55.6,157.9 55.7,157.6 55.8,160.1 55.9,157.0 56.0,159.7 56.1,155.8 56.2,154.1 56.2,158.9 56.3,162.5 56.4,158.1 56.5,164.8 56.6,175.1 56.7,156.5 56.8,152.6 56.9,160.8 57.0,149.0 57.1,166.6 57.2,161.2 57.2,157.4 57.3,163.3 57.4,162.5 57.5,153.7 57.6,154.9 57.7,154.4 57.8,163.0 57.9,150.6 58.0,162.3 58.1,159.4 58.2,159.3 58.2,157.6 58.3,157.3 58.4,157.4 58.5,157.0 58.6,162.9 58.7,152.7 58.8,159.2 58.9,159.9 59.0,154.5 59.1,158.9 59.1,160.6 59.2,160.7 59.3,164.5 59.4,158.7 59.5,159.0 59.6,158.5 59.7,155.0 59.8,165.0 59.9,158.4 60.0,155.7 60.1,161.1 60.1,160.8 60.2,154.2 60.3,160.6 60.4,157.8 60.5,160.4 60.6,156.9 60.7,154.5 60.8,160.4 60.9,161.5 61.0,158.5 61.0,160.8 61.1,161.0 61.2,160.0 61.3,159.2 61.4,155.8 61.5,157.1 61.6,157.2 61.7,155.8 61.8,158.9 61.9,159.8 62.0,158.0 62.0,159.5 62.1,157.1 62.2,159.0 62.3,155.5 62.4,158.0 62.5,158.1 62.6,158.0 62.7,159.3 62.8,155.7 62.9,160.6 62.9,157.9 63.0,161.7 63.1,158.0 63.2,158.0 63.3,156.6 63.4,157.9 63.5,160.2 63.6,159.2 63.7,156.8 63.8,156.8 63.9,159.7 63.9,157.7 64.0,163.0 64.1,144.9 64.2,157.9 64.3,157.5 64.4,158.8 64.5,157.7 64.6,155.0 64.7,157.6 64.8,158.2 64.8,158.7 64.9,153.8 65.0,160.9 65.1,160.9 65.2,162.0 65.3,159.2 65.4,160.9 65.5,162.8 65.6,155.3 65.7,159.3 65.8,155.3 65.8,153.6 65.9,153.6 66.0,158.7 66.1,165.4 66.2,156.9 66.3,158.7 66.4,162.5 66.5,163.7 66.6,156.3 66.7,156.4 66.7,152.9 66.8,156.2 66.9,156.5 67.0,157.4 67.1,157.6 67.2,156.4 67.3,157.4 67.4,153.2 67.5,157.1 67.6,152.9 67.7,159.9 67.7,155.6 67.8,154.8 67.9,156.5 68.0,159.8 68.1,154.9 68.2,157.1 68.3,157.9 68.4,158.7 68.5,156.5 68.6,158.4 68.6,158.5 68.7,158.5 68.8,159.4 68.9,157.3 69.0,160.7 69.1,158.5 69.2,157.6 69.3,156.5 69.4,157.6 69.5,155.2 69.6,157.3 69.6,157.3 69.7,158.3 69.8,159.7 69.9,161.4 70.0,159.4 70.1,165.2 70.2,150.3 70.3,156.7 70.4,157.9 70.5,163.8 70.5,162.1 70.6,160.5 70.7,158.9 70.8,158.8 70.9,154.6 71.0,153.1 71.1,154.0 71.2,161.2 71.3,160.3 71.4,161.3 71.5,163.2 71.5,154.3 71.6,157.4 71.7,160.6 71.8,156.7 71.9,159.2 72.0,160.2 72.1,165.2 72.2,158.1 72.3,165.0 72.4,160.4 72.4,157.2 72.5,164.2 72.6,147.0 72.7,151.0 72.8,154.8 72.9,147.2 73.0,168.1 73.1,163.2 73.2,157.6 73.3,164.0 73.4,161.5 73.4,164.3 73.5,155.2 73.6,177.8 73.7,160.5 73.8,163.4 73.9,169.5 74.0,151.0 74.1,155.7 74.2,158.4 74.3,162.6 74.3,159.7 74.4,158.0 74.5,149.5 74.6,157.4 74.7,159.4 74.8,159.2 74.9,162.8 75.0,157.5 75.1,162.0 75.2,161.0 75.3,159.8 75.3,153.3 75.4,154.7 75.5,158.9 75.6,152.8 75.7,157.9 75.8,156.8 75.9,163.9 76.0,197.0 76.1,153.8 76.2,158.6 76.2,155.0 76.3,158.4 76.4,155.7 76.5,152.7 76.6,133.9 76.7,157.3 76.8,160.3 76.9,158.1 77.0,151.1 77.1,157.1 77.2,153.7 77.2,155.5 77.3,159.5 77.4,164.2 77.5,163.1 77.6,167.3 77.7,156.4 77.8,158.5 77.9,157.6 78.0,156.0 78.1,136.7 78.1,157.5 78.2,157.1 78.3,156.2 78.4,155.4 78.5,165.3 78.6,153.7 78.7,160.6 78.8,157.9 78.9,165.2 79.0,157.7 79.1,158.8 79.1,159.4 79.2,160.3 79.3,170.7 79.4,155.8 79.5,151.2 79.6,159.9 79.7,162.4 79.8,156.8 79.9,154.6 80.0,159.9 80.0,160.7 80.1,158.2 80.2,166.4 80.3,158.1 80.4,153.4 80.5,158.0 80.6,153.6 80.7,157.9 80.8,151.4 80.9,154.5 81.0,173.6 81.0,156.7 81.1,165.2 81.2,163.3 81.3,150.8 81.4,162.2 81.5,160.6 81.6,186.0 81.7,162.2 81.8,168.8 81.9,162.3 81.9,155.1 82.0,154.3 82.1,155.8 82.2,150.6 82.3,153.8 82.4,164.6 82.5,164.0 82.6,168.6 82.7,165.7 82.8,153.0 82.9,166.5 82.9,158.4 83.0,162.8 83.1,155.9 83.2,149.1 83.3,158.1 83.4,169.8 83.5,161.8 83.6,163.3 83.7,158.3 83.8,150.6 83.8,161.0 83.9,163.1 84.0,138.5 84.1,167.9 84.2,165.9 84.3,170.3 84.4,154.5 84.5,157.4 84.6,161.8 84.7,157.0 84.8,162.2 84.8,153.9 84.9,164.0 85.0,164.2 85.1,158.2 85.2,161.0 85.3,153.5 85.4,160.7 85.5,157.6 85.6,147.6 85.7,154.4 85.7,153.6 85.8,162.9 85.9,165.1 86.0,161.5 86.1,156.2 86.2,155.4 86.3,149.3 86.4,151.5 86.5,159.0 86.6,152.3 86.7,158.8 86.7,164.2 86.8,146.7 86.9,155.1 87.0,153.8 87.1,157.8 87.2,149.4 87.3,156.8 87.4,154.9 87.5,155.4 87.6,159.4 87.6,164.1 87.7,157.2 87.8,158.5 87.9,160.4 88.0,155.4 88.1,166.6 88.2,153.1 88.3,154.1 88.4,160.1 88.5,151.5 88.6,158.1 88.6,163.7 88.7,162.1 88.8,159.4 88.9,156.1 89.0,159.7 89.1,155.2 89.2,151.5 89.3,161.1 89.4,157.5 89.5,160.7 89.6,153.2 89.6,163.9 89.7,154.9 89.8,177.3 89.9,157.5 90.0,149.5 90.1,160.1 90.2,160.9 90.3,152.1 90.4,156.0 90.5,156.7 90.5,149.6 90.6,159.9 90.7,155.8 90.8,153.1 90.9,162.6 91.0,151.4 91.1,157.4 91.2,161.1 91.3,161.8 91.4,155.4 91.5,164.5 91.5,159.8 91.6,163.6 91.7,155.7 91.8,153.9 91.9,157.6 92.0,155.8 92.1,158.6 92.2,154.1 92.3,154.2 92.4,156.8 92.4,154.0 92.5,158.2 92.6,151.4 92.7,169.6 92.8,158.4 92.9,153.5 93.0,156.7 93.1,158.5 93.2,156.5 93.3,160.2 93.4,154.4 93.4,158.1 93.5,157.3 93.6,148.0 93.7,151.9 93.8,159.6 93.9,148.9 94.0,161.9 94.1,163.3 94.2,152.7 94.3,152.9 94.3,159.3 94.4,156.9 94.5,159.4 94.6,160.9 94.7,164.9 94.8,155.5 94.9,157.8 95.0,161.5 95.1,157.2 95.2,160.7 95.3,160.6 95.3,156.8 95.4,157.7 95.5,164.5 95.6,153.8 95.7,160.1 95.8,172.4 95.9,165.1 96.0,162.7 96.1,167.4 96.2,158.7 96.2,162.5 96.3,160.6 96.4,139.0 96.5,162.9 96.6,153.6 96.7,162.8 96.8,158.2 96.9,168.2 97.0,157.7 97.1,155.5 97.2,173.4 97.2,162.6 97.3,156.4 97.4,157.6 97.5,161.2 97.6,159.2 97.7,156.1 97.8,157.3 97.9,162.9 98.0,162.9 98.1,160.9 98.1,158.0 98.2,158.0 98.3,159.3 98.4,155.1 98.5,156.3 98.6,157.1 98.7,151.5 98.8,160.1 98.9,158.8 99.0,154.3 99.1,158.6 99.1,161.7 99.2,156.8 99.3,155.9 99.4,164.4 99.5,156.3 99.6,160.1 99.7,158.4 99.8,157.8 99.9,154.6 100.0,157.6 100.0,155.2 100.1,159.2 100.2,151.8 100.3,160.4 100.4,154.1 100.5,158.3 100.6,160.1 100.7,154.2 100.8,154.9 100.9,156.3 101.0,156.7 101.0,156.7 101.1,156.8 101.2,158.2 101.3,160.0 101.4,168.7 101.5,159.8 101.6,166.5 101.7,157.8 101.8,158.4 101.9,164.6 101.9,159.8 102.0,143.5 102.1,166.0 102.2,161.1 102.3,160.9 102.4,158.7 102.5,155.8 102.6,139.4 102.7,156.7 102.8,153.9 102.9,178.3 102.9,158.7 103.0,163.9 103.1,173.6 103.2,158.1 103.3,156.3 103.4,154.9 103.5,163.4 103.6,199.8 103.7,160.8 103.8,164.8 103.8,149.8 103.9,160.3 104.0,168.6 104.1,168.5 104.2,147.5 104.3,168.5 104.4,133.9 104.5,152.1 104.6,160.4 104.7,163.0 104.8,158.8 104.8,150.2 104.9,159.2 105.0,152.0 105.1,186.0 105.2,160.7 105.3,165.6 105.4,163.5 105.5,164.7 105.6,161.5 105.7,154.9 105.7,161.4 105.8,160.1 105.9,162.5 106.0,158.5 106.1,160.8 106.2,156.2 106.3,161.1 106.4,158.8 106.5,156.5 106.6,160.7 106.7,161.0 106.7,160.8 106.8,161.7 106.9,157.0 107.0,158.5 107.1,155.4 107.2,159.6 107.3,155.2 107.4,162.8 107.5,157.8 107.6,155.4 107.6,159.0 107.7,164.0 107.8,161.7 107.9,148.2 108.0,159.2 108.1,161.3 108.2,162.2 108.3,160.5 108.4,162.4 108.5,154.4 108.6,159.0 108.6,157.1 108.7,148.3 108.8,159.1 108.9,153.6 109.0,160.3 109.1,152.1 109.2,160.3 109.3,161.9 109.4,154.6 109.5,167.3 109.5,156.9 109.6,169.3 109.7,157.7 109.8,159.5 109.9,155.3 110.0,149.5 110.1,161.6 110.2,142.6 110.3,150.7 110.4,171.4 110.5,152.3 110.5,163.9 110.6,160.5 110.7,154.9 110.8,156.2 110.9,158.5 111.0,160.4 111.1,174.8 111.2,158.4 111.3,166.5 111.4,155.7 111.4,157.8 111.5,160.5 111.6,180.6 111.7,169.8 111.8,159.0 111.9,157.7 112.0,159.5 112.1,156.1 112.2,159.5 112.3,159.8 112.4,139.2 112.4,161.8 112.5,155.0 112.6,152.5 112.7,162.2 112.8,156.6 112.9,166.2 113.0,165.9 113.1,156.7 113.2,169.8 113.3,167.8 113.3,137.8 113.4,161.8 113.5,157.9 113.6,165.1 113.7,157.6 113.8,160.5 113.9,159.2 114.0,161.2 114.1,160.7 114.2,151.8 114.3,158.0 114.3,159.0 114.4,153.6 114.5,155.2 114.6,154.0 114.7,158.9 114.8,157.2 114.9,160.0 115.0,152.0 115.1,157.6 115.2,159.4 115.2,159.2 115.3,160.7 115.4,159.2 115.5,159.3 115.6,158.7 115.7,156.9 115.8,159.4 115.9,164.3 116.0,162.1 116.1,156.4 116.2,153.0 116.2,147.8 116.3,143.9 116.4,151.5 116.5,164.6 116.6,166.9 116.7,157.3 116.8,159.3 116.9,165.4 117.0,163.4 117.1,151.7 117.1,152.9 117.2,144.2 117.3,157.8 117.4,159.2 117.5,166.1 117.6,158.9 117.7,165.6 117.8,164.6 117.9,152.6 118.0,157.8 118.1,157.0 118.1,155.3 118.2,151.9 118.3,161.8 118.4,159.7 118.5,155.3 118.6,160.7 118.7,164.3 118.8,153.4 118.9,160.4 119.0,155.4 119.0,155.2 119.1,155.9 119.2,155.1 119.3,155.9 119.4,159.1 119.5,160.7 119.6,157.5 119.7,154.1 119.8,157.4 119.9,155.2 120.0,162.6 120.0,157.3 120.1,162.7 120.2,153.2 120.3,154.8 120.4,159.2 120.5,159.0 120.6,163.0 120.7,163.2 120.8,161.7 120.9,164.9 121.0,154.5 121.0,153.3 121.1,162.4 121.2,156.9 121.3,157.9 121.4,159.9 121.5,158.6 121.6,153.8 121.7,159.2 121.8,157.1 121.9,152.9 121.9,158.9 122.0,164.9 122.1,159.1 122.2,157.2 122.3,164.2 122.4,159.6 122.5,166.9 122.6,156.6 122.7,159.5 122.8,157.6 122.9,165.6 122.9,158.2 123.0,166.4 123.1,153.7 123.2,156.1 123.3,153.2 123.4,160.0 123.5,161.1 123.6,157.3 123.7,151.5 123.8,160.1 123.8,162.6 123.9,151.8 124.0,162.9 124.1,159.4 124.2,164.0 124.3,164.7 124.4,150.9 124.5,156.6 124.6,163.1 124.7,162.9 124.8,150.0 124.8,161.7 124.9,153.9 125.0,157.0 125.1,154.6 125.2,156.7 125.3,161.4 125.4,162.2 125.5,164.2 125.6,159.6 125.7,164.1 125.7,159.8 125.8,163.2 125.9,159.6 126.0,167.4 126.1,163.6 126.2,159.4 126.3,155.7 126.4,152.1 126.5,157.7 126.6,147.0 126.7,160.2 126.7,157.3 126.8,160.0 126.9,165.6 127.0,164.4 127.1,167.3 127.2,152.1 127.3,150.5 127.4,155.0 127.5,161.6 127.6,159.9 127.6,157.1 127.7,155.1 127.8,159.4 127.9,159.9 128.0,158.1 128.1,155.5 128.2,159.8 128.3,164.2 128.4,158.3 128.5,160.6 128.6,159.4 128.6,160.6 128.7,157.9 128.8,159.8 128.9,162.3 129.0,157.7 129.1,160.7 129.2,159.0 129.3,155.1 129.4,155.6 129.5,158.6 129.5,157.6 129.6,142.2 129.7,167.9 129.8,160.4 129.9,159.7 130.0,156.6 130.1,155.0 130.2,160.2 130.3,161.1 130.4,166.9 130.5,157.6 130.5,157.2 130.6,160.4 130.7,155.8 130.8,156.0 130.9,159.1 131.0,159.5 131.1,159.7 131.2,158.5 131.3,162.0 131.4,162.2 131.4,159.1 131.5,158.1 131.6,156.8 131.7,163.0 131.8,156.3 131.9,161.8 132.0,157.9 132.1,158.3 132.2,160.8 132.3,158.1 132.4,159.4 132.4,159.2 132.5,163.0 132.6,152.6 132.7,161.3 132.8,162.8 132.9,157.3 133.0,157.4 133.1,170.2 133.2,152.4 133.3,158.8 133.3,161.2 133.4,154.6 133.5,145.2 133.6,162.3 133.7,158.5 133.8,160.5 133.9,156.2 134.0,164.0 134.1,155.6 134.2,159.5 134.3,158.5 134.3,160.8 134.4,164.5 134.5,158.1 134.6,162.6 134.7,157.1 134.8,158.9 134.9,162.1 135.0,162.1 135.1,161.9 135.2,158.9 135.2,158.3 135.3,159.4 135.4,160.3 135.5,157.9 135.6,161.2 135.7,156.6 135.8,157.8 135.9,156.6 136.0,157.2 136.1,155.0 136.2,159.1 136.2,156.0 136.3,152.8 136.4,156.7 136.5,160.6 136.6,180.6 136.7,153.8 136.8,150.1 136.9,157.1 137.0,154.6 137.1,159.8 137.1,163.4 137.2,153.3 137.3,158.6 137.4,161.3 137.5,157.3 137.6,160.9 137.7,157.0 137.8,157.4 137.9,158.9 138.0,157.7 138.1,161.4 138.1,168.7 138.2,158.8 138.3,167.3 138.4,158.1 138.5,156.9 138.6,140.5 138.7,162.5 138.8,157.2 138.9,159.0 139.0,159.2 139.0,155.1 139.1,156.6 139.2,161.5 139.3,157.5 139.4,158.0 139.5,162.3 139.6,159.9 139.7,158.6 139.8,148.9 139.9,158.0 140.0,160.6 140.0,157.3 140.1,156.1 140.2,171.7 140.3,146.5 140.4,156.9 140.5,167.5 140.6,151.2 140.7,164.3 140.8,175.4 140.9,154.4 140.9,178.5 141.0,158.3 141.1,157.1 141.2,151.3 141.3,153.9 141.4,157.5 141.5,163.2 141.6,157.7 141.7,154.8 141.8,138.1 141.9,167.9 141.9,162.3 142.0,151.8 142.1,158.4 142.2,158.3 142.3,158.4 142.4,160.2 142.5,161.1 142.6,149.7 142.7,162.5 142.8,160.1 142.8,163.5 142.9,159.6 143.0,156.8 143.1,160.6 143.2,149.7 143.3,154.2 143.4,161.2 143.5,164.0 143.6,170.7 143.7,160.9 143.8,159.5 143.8,151.7 143.9,153.6 144.0,158.3 144.1,148.4 144.2,158.2 144.3,158.1 144.4,160.6 144.5,154.0 144.6,186.0 144.7,161.0 144.7,159.5 144.8,165.9 144.9,143.2 145.0,156.3 145.1,162.7 145.2,157.4 145.3,168.1 145.4,158.9 145.5,153.2 145.6,142.2 145.7,157.5 145.7,145.8 145.8,174.6 145.9,150.6 146.0,159.2 146.1,165.4 146.2,163.5 146.3,158.5 146.4,157.8 146.5,151.9 146.6,184.9 146.6,160.6 146.7,165.2 146.8,153.9 146.9,167.0 147.0,161.6 147.1,157.8 147.2,150.6 147.3,154.0 147.4,154.2 147.5,161.7 147.6,152.5 147.6,157.8 147.7,154.4 147.8,152.7 147.9,156.8 148.0,153.3 148.1,161.5 148.2,160.7 148.3,160.0 148.4,160.5 148.5,160.2 148.5,156.6 148.6,158.0 148.7,154.7 148.8,166.0 148.9,158.5 149.0,152.8 149.1,163.3 149.2,153.7 149.3,165.0 149.4,147.4 149.5,155.8 149.5,162.0 149.6,164.4 149.7,158.5 149.8,160.0 149.9,155.9 150.0,158.9 150.1,162.6 150.2,158.3 150.3,160.0 150.4,155.7 150.5,155.4 150.5,157.5 150.6,155.4 150.7,158.5 150.8,162.2 150.9,151.7 151.0,165.1 151.1,154.8 151.2,151.8 151.3,153.8 151.4,160.7 151.4,155.5 151.5,158.1 151.6,157.0 151.7,159.7 151.8,154.3 151.9,155.2 152.0,160.2 152.1,160.6 152.2,160.4 152.3,161.5 152.4,157.1 152.4,154.4 152.5,153.8 152.6,163.8 152.7,160.5 152.8,156.6 152.9,153.6 153.0,158.7 153.1,155.0 153.2,155.6 153.3,159.3 153.3,153.7 153.4,159.0 153.5,156.9 153.6,156.8 153.7,156.2 153.8,152.4 153.9,164.6 154.0,161.9 154.1,154.3 154.2,155.7 154.3,155.1 154.3,155.3 154.4,159.0 154.5,155.6 154.6,160.5 154.7,156.7 154.8,158.4 154.9,161.5 155.0,162.0 155.1,160.8 155.2,157.5 155.2,154.7 155.3,158.8 155.4,158.7 155.5,158.4 155.6,155.4 155.7,159.4 155.8,154.7 155.9,158.9 156.0,160.2 156.1,154.1 156.2,158.0 156.2,152.2 156.3,156.8 156.4,161.3 156.5,160.4 156.6,159.3 156.7,161.3 156.8,162.3 156.9,161.1 157.0,161.5 157.1,161.6 157.1,155.1 157.2,155.3 157.3,151.5 157.4,156.8 157.5,157.3 157.6,159.2 157.7,159.0 157.8,158.3 157.9,154.8 158.0,162.9 158.1,156.0 158.1,156.4 158.2,158.5 158.3,165.6 158.4,156.5 158.5,160.6 158.6,180.6 158.7,154.8 158.8,161.8 158.9,152.7 159.0,166.9 159.0,161.5 159.1,158.1 159.2,162.2 159.3,168.1 159.4,153.0 159.5,169.5 159.6,154.4 159.7,141.5 159.8,157.5 159.9,156.7 160.0,162.6 160.0,160.3 160.1,164.8 160.2,164.3 160.3,158.0 160.4,153.8 160.5,157.8 160.6,160.1 160.7,156.6 160.8,157.1 160.9,155.2 160.9,154.1 161.0,156.3 161.1,158.0 161.2,162.3 161.3,159.5 161.4,159.4 161.5,156.4 161.6,136.7 161.7,157.5 161.8,160.0 161.9,156.8 161.9,158.2 162.0,166.1 162.1,157.5 162.2,159.5 162.3,156.7 162.4,166.3 162.5,163.4 162.6,157.9 162.7,159.4 162.8,156.9 162.8,153.9 162.9,183.3 163.0,160.2 163.1,161.3 163.2,150.5 163.3,154.5 163.4,156.9 163.5,153.5 163.6,132.8 163.7,169.4 163.8,156.4 163.8,152.0 163.9,162.1 164.0,151.2 164.1,150.7 164.2,153.0 164.3,152.3 164.4,162.6 164.5,156.5 164.6,175.1 164.7,162.4 164.7,158.0 164.8,159.4 164.9,159.5 165.0,156.3 165.1,156.2 165.2,162.0"/>
<rect class="b" x="11.6" y="125.7" width="154.0" height="76.8"/>
<text class="y" x="10.4" y="126.3">.06</text><text class="y" x="10.4" y="137.3">.04</text><text class="y" x="10.4" y="148.2">.02</text><text class="y" x="10.4" y="159.2">.00</text><text class="y" x="10.4" y="170.2">-.02</text><text class="y" x="10.4" y="181.2">-.04</text><text class="y" x="10.4" y="192.1">-.06</text><text class="y" x="10.4" y="203.1">-.08</text>
<text class="x" transform="translate(22.2 209.2) rotate(-60)" y="1.5">18Q3</text><text class="x" transform="translate(38.3 209.2) rotate(-60)" y="1.5">19Q1</text><text class="x" transform="translate(54.4 209.2) rotate(-60)" y="1.5">19Q3</text><text class="x" transform="translate(70.5 209.2) rotate(-60)" y="1.5">20Q1</text><text class="x" transform="translate(86.6 209.2) rotate(-60)" y="1.5">20Q3</text><text class="x" transform="translate(102.7 209.2) rotate(-60)" y="1.5">21Q1</text><text class="x" transform="translate(118.8 209.2) rotate(-60)" y="1.5">21Q3</text><text class="x" transform="translate(134.9 209.2) rotate(-60)" y="1.5">22Q1</text><text class="x" transform="translate(151.0 209.2) rotate(-60)" y="1.5">22Q3</text>
</g>
<g>
<text class="t" x="261.2" y="115.2">Indonesia</text>
<rect class="m" x="242.6" y="125.7" width="95.6" height="76.8"/>
<line class="g" x1="194.1" y1="125.7" x2="194.1" y2="202.5"/><line class="g" x1="210.2" y1="125.7" x2="210.2" y2="202.5"/><line class="g" x1="226.3" y1="125.7" x2="226.3" y2="202.5"/><line class="gm" x1="242.4" y1="125.7" x2="242.4" y2="202.5"/><line class="gm" x1="258.5" y1="125.7" x2="258.5" y2="202.5"/><line class="gm" x1="274.6" y1="125.7" x2="274.6" y2="202.5"/><line class="gm" x1="290.7" y1="125.7" x2="290.7" y2="202.5"/><line class="gm" x1="306.8" y1="125.7" x2="306.8" y2="202.5"/><line class="gm" x1="322.9" y1="125.7" x2="322.9" y2="202.5"/>
<polyline class="l" points="184.6,168.9 184.7,167.1 184.8,170.8 184.9,166.4 185.0,168.5 185.1,169.1 185.1,166.3 185.2,169.3 185.3,169.4 185.4,165.3 185.5,165.8 185.6,171.4 185.7,167.7 185.8,165.5 185.9,170.3 186.0,168.3 186.0,168.1 186.1,167.4 186.2,171.3 186.3,168.9 186.4,170.1 186.5,165.2 186.6,169.1 186.7,167.5 186.8,167.7 186.9,167.7 187.0,170.2 187.0,165.8 187.1,171.2 187.2,174.4 187.3,167.4 187.4,166.1 187.5,172.0 187.6,168.2 187.7,169.0 187.8,165.6 187.9,162.2 187.9,167.8 188.0,159.9 188.1,162.2 188.2,180.3 188.3,170.0 188.4,166.9 188.5,166.9 188.6,160.6 188.7,167.5 188.8,166.4 188.9,168.7 188.9,170.5 189.0,164.6 189.1,167.6 189.2,169.1 189.3,166.5 189.4,163.2 189.5,168.0 189.6,172.5 189.7,167.2 189.8,170.8 189.8,170.1 189.9,167.7 190.0,165.6 190.1,167.4 190.2,159.0 190.3,167.1 190.4,167.8 190.5,168.9 190.6,167.0 190.7,169.1 190.8,166.8 190.8,166.7 190.9,172.0 191.0,168.8 191.1,172.5 191.2,168.6 191.3,171.8 191.4,167.9 191.5,169.4 191.6,164.9 191.7,166.1 191.7,167.8 191.8,165.0 191.9,170.0 192.0,165.3 192.1,168.6 192.2,165.9 192.3,169.0 192.4,168.6 192.5,166.2 192.6,166.2 192.7,169.0 192.7,169.2 192.8,173.7 192.9,170.6 193.0,166.0 193.1,166.6 193.2,167.1 193.3,169.3 193.4,169.3 193.5,165.9 193.6,166.4 193.6,166.9 193.7,172.0 193.8,167.2 193.9,169.9 194.0,166.6 194.1,169.7 194.2,160.5 194.3,167.7 194.4,169.9 194.5,167.2 194.6,168.0 194.6,176.4 194.7,168.6 194.8,167.2 194.9,167.6 195.0,167.6 195.1,168.8 195.2,167.1 195.3,168.2 195.4,171.7 195.5,166.3 195.5,168.1 195.6,168.0 195.7,168.5 195.8,168.2 195.9,174.5 196.0,166.4 196.1,167.2 196.2,169.0 196.3,168.7 196.4,167.7 196.5,171.4 196.5,170.4 196.6,168.7 196.7,164.9 196.8,173.8 196.9,168.4 197.0,167.9 197.1,170.4 197.2,184.6 197.3,169.6 197.4,170.7 197.4,168.2 197.5,165.6 197.6,165.0 197.7,170.3 197.8,168.0 197.9,166.1 198.0,171.0 198.1,168.6 198.2,169.7 198.3,171.0 198.4,167.5 198.4,169.1 198.5,166.9 198.6,169.0 198.7,168.3 198.8,168.7 198.9,168.8 199.0,175.1 199.1,164.6 199.2,170.6 199.3,161.3 199.3,167.9 199.4,173.7 199.5,169.1 199.6,170.3 199.7,185.4 199.8,159.7 199.9,163.7 200.0,167.0 200.1,167.2 200.2,167.1 200.3,168.9 200.3,167.0 200.4,170.0 200.5,171.9 200.6,171.6 200.7,171.0 200.8,166.7 200.9,172.9 201.0,163.5 201.1,168.1 201.2,169.1 201.3,168.2 201.3,164.2 201.4,164.9 201.5,171.8 201.6,169.6 201.7,172.8 201.8,167.7 201.9,171.6 202.0,173.7 202.1,170.7 202.2,162.8 202.2,165.5 202.3,163.0 202.4,165.0 202.5,168.6 202.6,164.5 202.7,167.6 202.8,168.3 202.9,163.4 203.0,170.4 203.1,169.2 203.2,177.0 203.2,169.7 203.3,174.0 203.4,173.9 203.5,181.0 203.6,165.0 203.7,169.6 203.8,160.9 203.9,163.3 204.0,174.3 204.1,177.9 204.1,164.7 204.2,167.9 204.3,163.6 204.4,175.5 204.5,175.4 204.6,171.6 204.7,161.5 204.8,162.3 204.9,169.1 205.0,173.4 205.1,172.4 205.1,161.5 205.2,168.1 205.3,154.0 205.4,173.5 205.5,173.1 205.6,165.8 205.7,170.5 205.8,165.5 205.9,167.9 206.0,168.2 206.0,167.0 206.1,168.9 206.2,167.7 206.3,165.1 206.4,166.9 206.5,170.1 206.6,168.4 206.7,171.4 206.8,168.9 206.9,167.0 207.0,170.4 207.0,168.3 207.1,169.1 207.2,166.4 207.3,168.7 207.4,171.6 207.5,168.3 207.6,173.3 207.7,170.3 207.8,168.4 207.9,168.7 207.9,178.1 208.0,167.4 208.1,169.7 208.2,169.7 208.3,167.6 208.4,168.8 208.5,165.9 208.6,178.7 208.7,170.0 208.8,171.8 208.9,170.4 208.9,167.9 209.0,172.3 209.1,169.2 209.2,167.1 209.3,164.3 209.4,166.6 209.5,171.5 209.6,169.4 209.7,169.4 209.8,170.2 209.8,163.5 209.9,167.9 210.0,170.8 210.1,169.9 210.2,171.3 210.3,171.0 210.4,167.3 210.5,168.8 210.6,166.7 210.7,168.4 210.8,169.1 210.8,164.6 210.9,167.5 211.0,172.2 211.1,173.9 211.2,169.6 211.3,167.0 211.4,168.0 211.5,167.3 211.6,170.9 211.7,168.7 211.7,162.3 211.8,165.2 211.9,171.8 212.0,164.0 212.1,165.3 212.2,164.4 212.3,172.4 212.4,169.2 212.5,167.8 212.6,169.5 212.7,161.5 212.7,171.5 212.8,169.0 212.9,167.5 213.0,168.7 213.1,166.2 213.2,169.0 213.3,166.7 213.4,173.0 213.5,169.9 213.6,167.0 213.6,160.4 213.7,169.1 213.8,171.9 213.9,164.2 214.0,166.1 214.1,167.4 214.2,165.7 214.3,163.6 214.4,167.1 214.5,166.4 214.6,166.6 214.6,166.6 214.7,171.6 214.8,167.1 214.9,167.3 215.0,164.5 215.1,168.6 215.2,175.3 215.3,167.0 215.4,177.2 215.5,167.9 215.5,167.7 215.6,167.9 215.7,167.7 215.8,166.9 215.9,160.2 216.0,168.9 216.1,168.5 216.2,167.7 216.3,168.2 216.4,171.5 216.5,161.8 216.5,169.6 216.6,169.6 216.7,167.9 216.8,167.1 216.9,167.9 217.0,170.7 217.1,167.8 217.2,167.4 217.3,168.3 217.4,170.1 217.4,168.2 217.5,169.7 217.6,167.7 217.7,164.3 217.8,169.1 217.9,171.9 218.0,164.8 218.1,174.7 218.2,171.5 218.3,167.2 218.4,170.9 218.4,171.0 218.5,168.2 218.6,167.5 218.7,170.8 218.8,170.0 218.9,167.0 219.0,166.1 219.1,172.3 219.2,165.7 219.3,170.5 219.3,168.1 219.4,167.8 219.5,166.9 219.6,170.1 219.7,165.5 219.8,169.6 219.9,166.1 220.0,168.8 220.1,170.4 220.2,168.5 220.3,168.4 220.3,167.0 220.4,170.0 220.5,166.5 220.6,168.7 220.7,163.3 220.8,168.4 220.9,168.3 221.0,170.0 221.1,167.8 221.2,167.3 221.2,166.5 221.3,170.7 221.4,169.8 221.5,167.8 221.6,167.1 221.7,167.5 221.8,171.4 221.9,161.4 222.0,164.9 222.1,164.4 222.2,170.2 222.2,160.7 222.3,169.6 222.4,170.4 222.5,170.1 222.6,167.2 222.7,168.8 222.8,165.5 222.9,168.5 223.0,168.3 223.1,167.3 223.1,168.3 223.2,168.8 223.3,170.6 223.4,170.1 223.5,172.3 223.6,168.8 223.7,171.4 223.8,163.2 223.9,168.0 224.0,161.8 224.1,167.5 224.1,168.6 224.2,167.6 224.3,169.3 224.4,164.1 224.5,169.6 224.6,168.1 224.7,168.0 224.8,167.1 224.9,167.1 225.0,170.1 225.0,168.1 225.1,167.3 225.2,169.2 225.3,169.2 225.4,178.2 225.5,174.7 225.6,163.9 225.7,165.1 225.8,172.2 225.9,165.1 226.0,161.1 226.0,169.6 226.1,169.2 226.2,169.2 226.3,165.2 226.4,167.3 226.5,169.0 226.6,172.2 226.7,169.3 226.8,168.8 226.9,173.3 226.9,165.5 227.0,166.2 227.1,170.7 227.2,167.3 227.3,169.3 227.4,170.5 227.5,170.3 227.6,169.1 227.7,171.6 227.8,170.1 227.9,165.4 227.9,170.6 228.0,168.8 228.1,171.6 228.2,170.8 228.3,168.3 228.4,168.0 228.5,167.5 228.6,168.7 228.7,172.3 228.8,170.2 228.8,169.7 228.9,165.3 229.0,173.1 229.1,169.2 229.2,180.3 229.3,165.3 229.4,167.4 229.5,168.5 229.6,165.6 229.7,167.1 229.8,170.6 229.8,166.0 229.9,166.0 230.0,167.7 230.1,167.6 230.2,170.8 230.3,171.9 230.4,171.1 230.5,167.3 230.6,168.1 230.7,167.9 230.8,167.8 230.8,166.8 230.9,169.7 231.0,168.8 231.1,165.3 231.2,168.3 231.3,169.6 231.4,169.6 231.5,167.2 231.6,168.3 231.7,168.1 231.7,168.6 231.8,167.5 231.9,168.5 232.0,168.9 232.1,165.0 232.2,167.3 232.3,169.0 232.4,171.1 232.5,169.3 232.6,168.3 232.7,170.5 232.7,166.7 232.8,167.9 232.9,168.8 233.0,165.0 233.1,168.4 233.2,170.2 233.3,165.5 233.4,166.7 233.5,166.7 233.6,163.7 233.6,170.1 233.7,166.7 233.8,167.7 233.9,168.7 234.0,167.0 234.1,165.6 234.2,166.0 234.3,167.0 234.4,167.5 234.5,165.4 234.6,168.4 234.6,168.3 234.7,164.3 234.8,168.8 234.9,168.8 235.0,168.5 235.1,170.1 235.2,169.0 235.3,169.3 235.4,166.9 235.5,168.5 235.5,170.4 235.6,170.8 235.7,169.7 235.8,169.2 235.9,167.9 236.0,167.7 236.1,170.2 236.2,167.1 236.3,166.8 236.4,169.7 236.5,167.7 236.5,167.6 236.6,169.4 236.7,169.2 236.8,169.4 236.9,165.8 237.0,168.2 237.1,167.2 237.2,171.4 237.3,169.5 237.4,168.8 237.4,170.1 237.5,168.5 237.6,170.2 237.7,168.1 237.8,168.4 237.9,165.1 238.0,166.9 238.1,169.0 238.2,168.0 238.3,166.2 238.4,166.8 238.4,172.7 238.5,167.8 238.6,169.4 238.7,171.0 238.8,166.5 238.9,167.4 239.0,166.7 239.1,166.6 239.2,170.9 239.3,168.4 239.3,168.8 239.4,169.4 239.5,163.3 239.6,167.6 239.7,168.3 239.8,166.4 239.9,169.1 240.0,170.3 240.1,167.1 240.2,167.3 240.3,167.8 240.3,168.5 240.4,169.0 240.5,168.1 240.6,170.2 240.7,167.8 240.8,168.2 240.9,167.3 241.0,169.4 241.1,168.4 241.2,166.2 241.2,168.2 241.3,168.0 241.4,167.3 241.5,169.2 241.6,168.8 241.7,168.2 241.8,168.0 241.9,169.1 242.0,168.0 242.1,169.1 242.2,169.0 242.2,168.5 242.3,166.8 242.4,168.4 242.5,166.2 242.6,167.7 242.7,167.8 242.8,170.6 242.9,167.9 243.0,168.5 243.1,168.8 243.1,169.3 243.2,166.3 243.3,167.6 243.4,169.1 243.5,167.2 243.6,165.9 243.7,166.6 243.8,166.5 243.9,167.5 244.0,169.8 244.1,168.0 244.1,167.8 244.2,167.4 244.3,169.3 244.4,168.3 244.5,165.6 244.6,169.3 244.7,167.4 244.8,170.5 244.9,168.0 245.0,169.3 245.0,168.7 245.1,169.1 245.2,169.4 245.3,167.0 245.4,168.7 245.5,167.5 245.6,166.8 245.7,165.8 245.8,166.4 245.9,168.2 246.0,165.7 246.0,170.2 246.1,172.9 246.2,164.0 246.3,168.5 246.4,166.5 246.5,175.4 246.6,170.1 246.7,174.6 246.8,172.3 246.9,171.0 246.9,167.6 247.0,177.4 247.1,158.5 247.2,155.6 247.3,164.2 247.4,166.4 247.5,161.4 247.6,176.3 247.7,174.9 247.8,166.4 247.9,165.5 247.9,178.5 248.0,165.2 248.1,171.3 248.2,198.2 248.3,171.1 248.4,166.2 248.5,163.1 248.6,162.8 248.7,170.8 248.8,176.1 248.8,167.1 248.9,167.0 249.0,163.3 249.1,164.3 249.2,169.7 249.3,170.9 249.4,157.5 249.5,181.7 249.6,165.7 249.7,127.8 249.8,184.5 249.8,160.8 249.9,165.9 250.0,175.2 250.1,163.1 250.2,179.1 250.3,154.3 250.4,183.4 250.5,174.4 250.6,171.7 250.7,151.3 250.7,167.1 250.8,177.1 250.9,175.9 251.0,183.8 251.1,170.4 251.2,163.0 251.3,167.3 251.4,180.0 251.5,173.1 251.6,167.4 251.7,158.4 251.7,185.4 251.8,163.4 251.9,164.5 252.0,165.4 252.1,177.0 252.2,169.4 252.3,170.2 252.4,166.3 252.5,172.4 252.6,166.8 252.6,167.8 252.7,164.2 252.8,164.3 252.9,171.5 253.0,164.9 253.1,169.2 253.2,172.4 253.3,169.1 253.4,170.9 253.5,175.5 253.6,171.7 253.6,164.7 253.7,168.6 253.8,170.0 253.9,169.4 254.0,171.4 254.1,164.8 254.2,173.7 254.3,165.7 254.4,168.7 254.5,169.0 254.5,175.1 254.6,167.6 254.7,164.2 254.8,171.9 254.9,174.1 255.0,159.1 255.1,162.7 255.2,169.9 255.3,165.8 255.4,166.9 255.5,164.4 255.5,164.9 255.6,170.0 255.7,175.8 255.8,176.0 255.9,172.5 256.0,163.6 256.1,181.6 256.2,158.9 256.3,154.0 256.4,176.1 256.4,163.7 256.5,167.8 256.6,176.2 256.7,172.2 256.8,164.1 256.9,169.3 257.0,165.7 257.1,169.5 257.2,166.6 257.3,168.8 257.4,171.2 257.4,168.3 257.5,167.2 257.6,170.1 257.7,161.5 257.8,168.6 257.9,170.5 258.0,166.7 258.1,168.2 258.2,167.2 258.3,173.6 258.3,168.2 258.4,170.5 258.5,169.1 258.6,181.8 258.7,165.3 258.8,163.8 258.9,170.0 259.0,160.2 259.1,168.1 259.2,167.4 259.3,169.5 259.3,161.5 259.4,163.6 259.5,168.7 259.6,167.5 259.7,169.8 259.8,169.3 259.9,168.8 260.0,170.0 260.1,170.1 260.2,164.3 260.2,169.7 260.3,168.5 260.4,169.8 260.5,169.1 260.6,172.4 260.7,167.6 260.8,170.1 260.9,175.0 261.0,166.8 261.1,170.0 261.2,173.0 261.2,167.0 261.3,169.7 261.4,171.0 261.5,169.2 261.6,167.1 261.7,172.0 261.8,166.7 261.9,172.2 262.0,167.9 262.1,163.4 262.2,171.6 262.2,155.6 262.3,161.3 262.4,158.6 262.5,163.9 262.6,164.5 262.7,168.4 262.8,166.2 262.9,167.5 263.0,166.5 263.1,164.3 263.1,165.1 263.2,189.7 263.3,169.7 263.4,170.9 263.5,171.0 263.6,168.9 263.7,169.9 263.8,167.4 263.9,168.1 264.0,157.9 264.1,164.9 264.1,172.8 264.2,164.4 264.3,168.8 264.4,161.4 264.5,168.1 264.6,166.3 264.7,168.4 264.8,170.6 264.9,163.7 265.0,171.1 265.0,170.1 265.1,168.1 265.2,164.4 265.3,165.1 265.4,178.5 265.5,166.4 265.6,167.4 265.7,163.3 265.8,156.0 265.9,168.2 266.0,167.8 266.0,165.3 266.1,167.1 266.2,167.0 266.3,172.6 266.4,170.5 266.5,166.6 266.6,167.3 266.7,171.9 266.8,173.3 266.9,170.9 266.9,169.5 267.0,169.1 267.1,171.9 267.2,175.0 267.3,169.2 267.4,168.4 267.5,163.0 267.6,169.3 267.7,174.1 267.8,165.6 267.9,166.5 267.9,167.3 268.0,172.4 268.1,168.2 268.2,166.5 268.3,167.5 268.4,170.5 268.5,156.2 268.6,162.1 268.7,166.3 268.8,168.1 268.8,167.7 268.9,170.5 269.0,165.2 269.1,167.6 269.2,163.4 269.3,167.9 269.4,167.3 269.5,160.8 269.6,168.1 269.7,161.6 269.8,162.7 269.8,168.5 269.9,166.3 270.0,156.1 270.1,165.9 270.2,169.1 270.3,171.2 270.4,169.9 270.5,169.4 270.6,161.6 270.7,173.7 270.7,162.3 270.8,165.7 270.9,171.7 271.0,167.1 271.1,170.2 271.2,170.4 271.3,168.3 271.4,168.1 271.5,168.4 271.6,168.4 271.7,164.9 271.7,166.3 271.8,168.0 271.9,169.0 272.0,167.8 272.1,170.0 272.2,170.2 272.3,170.1 272.4,169.0 272.5,173.9 272.6,169.3 272.6,169.9 272.7,169.3 272.8,166.3 272.9,169.0 273.0,165.8 273.1,166.9 273.2,165.7 273.3,165.6 273.4,169.4 273.5,168.0 273.6,170.6 273.6,168.1 273.7,166.3 273.8,169.3 273.9,167.5 274.0,166.8 274.1,177.2 274.2,170.0 274.3,166.0 274.4,168.4 274.5,169.0 274.5,168.4 274.6,168.6 274.7,169.7 274.8,168.9 274.9,168.2 275.0,164.9 275.1,168.8 275.2,171.0 275.3,168.9 275.4,162.3 275.5,167.4 275.5,170.3 275.6,167.6 275.7,171.9 275.8,167.5 275.9,166.0 276.0,167.9 276.1,172.6 276.2,153.4 276.3,167.0 276.4,167.0 276.4,168.0 276.5,170.8 276.6,171.2 276.7,168.5 276.8,171.3 276.9,168.0 277.0,168.6 277.1,171.8 277.2,179.0 277.3,170.2 277.4,169.9 277.4,167.7 277.5,171.6 277.6,165.6 277.7,164.6 277.8,169.9 277.9,165.3 278.0,175.5 278.1,170.1 278.2,173.9 278.3,170.4 278.3,161.7 278.4,174.2 278.5,165.1 278.6,176.2 278.7,181.6 278.8,166.6 278.9,174.2 279.0,170.0 279.1,166.2 279.2,166.9 279.3,171.0 279.3,168.0 279.4,168.8 279.5,168.6 279.6,165.5 279.7,168.3 279.8,165.7 279.9,169.1 280.0,166.9 280.1,170.8 280.2,169.5 280.2,171.1 280.3,167.9 280.4,170.4 280.5,170.3 280.6,169.2 280.7,170.5 280.8,173.2 280.9,174.5 281.0,169.6 281.1,167.9 281.2,166.0 281.2,167.3 281.3,173.0 281.4,167.9 281.5,168.0 281.6,168.9 281.7,168.7 281.8,170.2 281.9,166.8 282.0,169.0 282.1,166.1 282.1,166.8 282.2,169.5 282.3,171.0 282.4,168.8 282.5,166.7 282.6,164.4 282.7,168.8 282.8,168.0 282.9,168.9 283.0,167.3 283.1,172.5 283.1,167.0 283.2,176.9 283.3,169.2 283.4,169.9 283.5,168.6 283.6,168.0 283.7,170.3 283.8,167.1 283.9,168.1 284.0,169.5 284.0,166.6 284.1,168.0 284.2,167.7 284.3,168.8 284.4,168.1 284.5,169.5 284.6,171.0 284.7,166.7 284.8,167.6 284.9,169.6 285.0,169.1 285.0,168.4 285.1,166.5 285.2,167.8 285.3,167.2 285.4,171.2 285.5,170.0 285.6,167.7 285.7,167.0 285.8,167.6 285.9,167.7 285.9,166.5 286.0,168.2 286.1,172.8 286.2,169.0 286.3,169.3 286.4,169.3 286.5,166.6 286.6,168.6 286.7,170.2 286.8,169.8 286.9,168.2 286.9,169.2 287.0,167.7 287.1,167.7 287.2,168.7 287.3,168.7 287.4,170.7 287.5,171.2 287.6,168.6 287.7,166.1 287.8,168.4 287.8,170.3 287.9,169.7 288.0,168.9 288.1,168.8 288.2,167.5 288.3,169.9 288.4,168.8 288.5,171.4 288.6,170.4 288.7,168.6 288.8,167.9 288.8,165.6 288.9,164.9 289.0,171.3 289.1,166.2 289.2,173.6 289.3,172.1 289.4,164.8 289.5,170.2 289.6,169.9 289.7,167.6 289.7,167.8 289.8,167.9 289.9,165.9 290.0,167.1 290.1,168.1 290.2,169.6 290.3,170.0 290.4,168.7 290.5,165.9 290.6,168.4 290.7,169.1 290.7,165.9 290.8,168.9 290.9,165.2 291.0,167.6 291.1,167.3 291.2,168.7 291.3,164.6 291.4,169.1 291.5,170.6 291.6,167.2 291.6,167.7 291.7,167.1 291.8,168.6 291.9,167.2 292.0,169.8 292.1,168.9 292.2,169.2 292.3,165.0 292.4,167.6 292.5,168.4 292.6,166.6 292.6,168.4 292.7,170.9 292.8,168.4 292.9,172.3 293.0,171.9 293.1,169.7 293.2,163.7 293.3,166.3 293.4,165.7 293.5,172.0 293.6,172.5 293.6,159.6 293.7,171.7 293.8,174.0 293.9,167.5 294.0,170.9 294.1,165.3 294.2,167.7 294.3,167.5 294.4,161.7 294.5,166.9 294.5,168.0 294.6,166.2 294.7,171.8 294.8,165.6 294.9,169.3 295.0,164.1 295.1,167.6 295.2,167.6 295.3,163.6 295.4,158.9 295.5,171.0 295.5,169.1 295.6,166.9 295.7,171.0 295.8,166.0 295.9,169.6 296.0,167.1 296.1,166.0 296.2,164.6 296.3,161.9 296.4,173.1 296.4,169.5 296.5,168.0 296.6,169.7 296.7,170.5 296.8,171.7 296.9,166.9 297.0,167.0 297.1,170.2 297.2,168.4 297.3,172.8 297.4,169.5 297.4,165.2 297.5,168.5 297.6,172.6 297.7,168.9 297.8,165.7 297.9,172.8 298.0,173.9 298.1,167.8 298.2,171.1 298.3,167.1 298.3,169.6 298.4,171.0 298.5,166.8 298.6,165.7 298.7,167.0 298.8,164.5 298.9,169.9 299.0,167.0 299.1,167.2 299.2,166.3 299.3,167.3 299.3,167.5 299.4,169.4 299.5,169.4 299.6,169.4 299.7,170.4 299.8,170.9 299.9,172.5 300.0,165.5 300.1,168.7 300.2,167.4 300.2,168.0 300.3,169.6 300.4,166.5 300.5,168.7 300.6,164.5 300.7,163.9 300.8,170.5 300.9,170.5 301.0,170.7 301.1,167.4 301.2,168.8 301.2,167.4 301.3,173.3 301.4,169.3 301.5,172.8 301.6,169.3 301.7,167.6 301.8,168.1 301.9,168.2 302.0,166.2 302.1,164.5 302.1,171.7 302.2,169.6 302.3,163.8 302.4,166.9 302.5,164.7 302.6,172.6 302.7,167.2 302.8,169.2 302.9,171.7 303.0,176.6 303.1,169.2 303.1,168.2 303.2,168.9 303.3,168.3 303.4,167.9 303.5,171.7 303.6,168.4 303.7,172.2 303.8,166.8 303.9,168.1 304.0,171.7 304.0,167.6 304.1,168.2 304.2,170.8 304.3,169.5 304.4,164.8 304.5,167.3 304.6,167.7 304.7,167.7 304.8,169.6 304.9,170.4 305.0,167.6 305.0,166.1 305.1,171.3 305.2,170.4 305.3,167.0 305.4,166.4 305.5,166.9 305.6,169.2 305.7,170.1 305.8,171.8 305.9,169.2 305.9,171.2 306.0,161.3 306.1,170.8 306.2,167.5 306.3,168.9 306.4,167.9 306.5,166.3 306.6,171.0 306.7,168.5 306.8,164.7 306.9,169.2 306.9,170.1 307.0,171.0 307.1,164.1 307.2,165.2 307.3,168.8 307.4,168.2 307.5,173.0 307.6,168.4 307.7,167.5 307.8,165.9 307.8,168.9 307.9,171.0 308.0,163.2 308.1,173.4 308.2,168.0 308.3,171.4 308.4,167.6 308.5,162.9 308.6,167.3 308.7,168.7 308.8,170.1 308.8,168.7 308.9,168.0 309.0,166.0 309.1,170.3 309.2,167.1 309.3,167.1 309.4,168.8 309.5,170.4 309.6,167.1 309.7,166.3 309.7,168.8 309.8,167.1 309.9,167.1 310.0,166.7 310.1,168.7 310.2,169.4 310.3,170.2 310.4,168.8 310.5,171.3 310.6,170.2 310.7,169.5 310.7,167.6 310.8,167.3 310.9,168.8 311.0,169.6 311.1,166.2 311.2,169.2 311.3,167.8 311.4,167.1 311.5,177.0 311.6,169.6 311.6,164.8 311.7,172.5 311.8,170.3 311.9,163.5 312.0,167.4 312.1,170.6 312.2,169.0 312.3,170.0 312.4,169.9 312.5,172.4 312.6,170.7 312.6,165.7 312.7,168.0 312.8,167.8 312.9,169.3 313.0,170.6 313.1,162.0 313.2,169.1 313.3,170.1 313.4,169.6 313.5,168.4 313.5,163.9 313.6,169.8 313.7,168.7 313.8,168.0 313.9,171.1 314.0,173.3 314.1,167.2 314.2,167.5 314.3,166.8 314.4,169.0 314.5,168.8 314.5,164.0 314.6,172.9 314.7,168.8 314.8,172.5 314.9,169.8 315.0,168.0 315.1,167.9 315.2,170.2 315.3,167.7 315.4,171.1 315.4,168.2 315.5,168.9 315.6,168.9 315.7,166.4 315.8,167.0 315.9,165.7 316.0,169.3 316.1,170.5 316.2,164.9 316.3,168.5 316.4,168.3 316.4,167.4 316.5,168.7 316.6,166.9 316.7,169.2 316.8,167.5 316.9,167.4 317.0,169.0 317.1,168.9 317.2,167.6 317.3,168.2 317.3,167.8 317.4,167.8 317.5,167.5 317.6,168.3 317.7,169.8 317.8,187.6 317.9,169.7 318.0,168.4 318.1,167.5 318.2,169.3 318.3,169.1 318.3,166.1 318.4,173.0 318.5,165.5 318.6,165.8 318.7,159.8 318.8,166.6 318.9,164.6 319.0,166.8 319.1,169.8 319.2,167.3 319.2,164.6 319.3,173.6 319.4,168.5 319.5,166.9 319.6,169.3 319.7,164.8 319.8,165.3 319.9,166.8 320.0,167.5 320.1,169.3 320.2,169.7 320.2,167.3 320.3,172.5 320.4,169.4 320.5,171.0 320.6,168.3 320.7,163.5 320.8,164.1 320.9,169.3 321.0,171.3 321.1,164.5 321.1,169.0 321.2,165.3 321.3,164.3 321.4,171.7 321.5,168.6 321.6,169.3 321.7,169.9 321.8,170.0 321.9,168.1 322.0,169.5 322.1,167.0 322.1,168.2 322.2,168.3 322.3,167.7 322.4,177.3 322.5,168.5 322.6,169.0 322.7,169.7 322.8,166.6 322.9,172.1 323.0,165.3 323.1,165.9 323.1,169.2 323.2,172.6 323.3,167.8 323.4,173.7 323.5,168.9 323.6,169.7 323.7,168.1 323.8,171.8 323.9,168.8 324.0,169.4 324.0,171.3 324.1,171.2 324.2,168.7 324.3,174.7 324.4,173.4 324.5,167.2 324.6,168.1 324.7,167.7 324.8,165.9 324.9,167.6 325.0,166.7 325.0,169.6 325.1,167.8 325.2,168.2 325.3,167.4 325.4,167.2 325.5,170.3 325.6,169.6 325.7,168.5 325.8,169.1 325.9,167.5 325.9,168.2 326.0,168.7 326.1,168.3 326.2,168.2 326.3,168.7 326.4,168.5 326.5,170.9 326.6,168.1 326.7,175.0 326.8,172.1 326.9,170.4 326.9,166.5 327.0,169.2 327.1,169.7 327.2,165.8 327.3,166.4 327.4,171.2 327.5,169.3 327.6,169.1 327.7,169.1 327.8,163.5 327.8,170.3 327.9,165.1 328.0,167.6 328.1,169.2 328.2,163.8 328.3,168.3 328.4,169.3 328.5,165.8 328.6,167.9 328.7,161.4 328.8,164.2 328.8,166.8 328.9,168.0 329.0,166.7 329.1,160.8 329.2,166.5 329.3,164.9 329.4,166.8 329.5,167.1 329.6,167.3 329.7,170.6 329.7,170.9 329.8,166.1 329.9,168.8 330.0,174.3 330.1,167.1 330.2,170.4 330.3,171.0 330.4,168.2 330.5,168.6 330.6,167.9 330.7,166.5 330.7,169.4 330.8,168.2 330.9,168.1 331.0,166.7 331.1,168.3 331.2,169.1 331.3,166.5 331.4,171.2 331.5,167.7 331.6,162.5 331.6,163.9 331.7,169.5 331.8,164.3 331.9,167.6 332.0,157.2 332.1,170.0 332.2,162.0 332.3,166.6 332.4,161.4 332.5,165.6 332.6,165.5 332.6,172.0 332.7,170.9 332.8,171.0 332.9,166.5 333.0,167.5 333.1,172.4 333.2,168.5 333.3,172.1 333.4,170.2 333.5,168.4 333.5,169.6 333.6,169.1 333.7,167.8 333.8,167.0 333.9,166.1 334.0,169.5 334.1,168.1 334.2,168.3 334.3,168.4 334.4,167.5 334.5,166.8 334.5,167.9 334.6,165.2 334.7,167.5 334.8,169.7 334.9,169.5 335.0,162.3 335.1,166.9 335.2,168.5 335.3,166.7 335.4,168.3 335.4,168.1 335.5,170.9 335.6,166.9 335.7,168.6 335.8,168.2 335.9,167.7 336.0,168.2 336.1,168.6 336.2,168.5 336.3,168.8 336.4,167.7 336.4,166.3 336.5,168.7 336.6,167.2 336.7,170.2 336.8,168.5 336.9,166.8 337.0,168.4 337.1,169.7 337.2,167.7 337.3,167.6 337.3,166.7 337.4,167.6 337.5,168.1 337.6,166.4 337.7,165.4 337.8,168.5"/>
<rect class="b" x="184.2" y="125.7" width="154.0" height="76.8"/>
<text class="y" x="183.0" y="126.3">.10</text><text class="y" x="183.0" y="134.8">.08</text><text class="y" x="183.0" y="143.4">.06</text><text class="y" x="183.0" y="151.9">.04</text><text class="y" x="183.0" y="160.4">.02</text><text class="y" x="183.0" y="169.0">.00</text><text class="y" x="183.0" y="177.5">-.02</text><text class="y" x="183.0" y="186.0">-.04</text><text class="y" x="183.0" y="194.6">-.06</text><text class="y" x="183.0" y="203.1">-.08</text>
<text class="x" transform="translate(194.8 209.2) rotate(-60)" y="1.5">18Q3</text><text class="x" transform="translate(210.9 209.2) rotate(-60)" y="1.5">19Q1</text><text class="x" transform="translate(227.0 209.2) rotate(-60)" y="1.5">19Q3</text><text class="x" transform="translate(243.1 209.2) rotate(-60)" y="1.5">20Q1</text><text class="x" transform="translate(259.2 209.2) rotate(-60)" y="1.5">20Q3</text><text class="x" transform="translate(275.3 209.2) rotate(-60)" y="1.5">21Q1</text><text class="x" transform="translate(291.4 209.2) rotate(-60)" y="1.5">21Q3</text><text class="x" transform="translate(307.5 209.2) rotate(-60)" y="1.5">22Q1</text><text class="x" transform="translate(323.6 209.2) rotate(-60)" y="1.5">22Q3</text>
</g>
<g>
<text class="t" x="433.4" y="115.2">Malaysia</text>
<rect class="m" x="414.8" y="125.7" width="95.6" height="76.8"/>
<line class="g" x1="366.3" y1="125.7" x2="366.3" y2="202.5"/><line class="g" x1="382.4" y1="125.7" x2="382.4" y2="202.5"/><line class="g" x1="398.5" y1="125.7" x2="398.5" y2="202.5"/><line class="gm" x1="414.6" y1="125.7" x2="414.6" y2="202.5"/><line class="gm" x1="430.7" y1="125.7" x2="430.7" y2="202.5"/><line class="gm" x1="446.8" y1="125.7" x2="446.8" y2="202.5"/><line class="gm" x1="462.9" y1="125.7" x2="462.9" y2="202.5"/><line class="gm" x1="479.0" y1="125.7" x2="479.0" y2="202.5"/><line class="gm" x1="495.1" y1="125.7" x2="495.1" y2="202.5"/>
<polyline class="l" points="356.8,157.0 356.9,153.3 357.0,155.1 357.1,158.1 357.2,157.0 357.3,154.2 357.3,154.4 357.4,156.2 357.5,158.9 357.6,159.0 357.7,155.0 357.8,151.6 357.9,156.4 358.0,156.8 358.1,156.2 358.2,155.2 358.2,156.2 358.3,160.0 358.4,153.4 358.5,154.3 358.6,155.5 358.7,155.4 358.8,158.3 358.9,156.4 359.0,155.6 359.1,156.3 359.2,158.5 359.2,153.9 359.3,157.1 359.4,164.1 359.5,159.0 359.6,153.9 359.7,156.8 359.8,156.6 359.9,156.3 360.0,156.1 360.1,155.9 360.1,154.0 360.2,154.4 360.3,154.0 360.4,158.8 360.5,157.0 360.6,159.1 360.7,158.2 360.8,156.9 360.9,152.7 361.0,155.8 361.1,153.2 361.1,152.3 361.2,157.2 361.3,155.0 361.4,154.3 361.5,155.1 361.6,156.9 361.7,157.3 361.8,156.3 361.9,157.2 362.0,149.0 362.0,158.3 362.1,156.2 362.2,157.3 362.3,157.3 362.4,156.8 362.5,156.9 362.6,156.7 362.7,155.5 362.8,156.0 362.9,158.8 363.0,157.1 363.0,158.9 363.1,156.0 363.2,154.1 363.3,155.3 363.4,155.4 363.5,160.5 363.6,157.7 363.7,169.9 363.8,154.5 363.9,158.3 363.9,156.5 364.0,157.8 364.1,156.2 364.2,157.8 364.3,160.6 364.4,158.7 364.5,159.8 364.6,155.0 364.7,156.4 364.8,156.9 364.9,156.6 364.9,156.4 365.0,157.6 365.1,156.1 365.2,154.8 365.3,157.5 365.4,157.9 365.5,154.8 365.6,159.8 365.7,154.8 365.8,155.7 365.8,156.9 365.9,154.1 366.0,154.5 366.1,159.3 366.2,155.6 366.3,155.6 366.4,155.9 366.5,154.6 366.6,162.3 366.7,157.2 366.8,155.1 366.8,155.8 366.9,160.5 367.0,155.8 367.1,160.1 367.2,154.6 367.3,158.1 367.4,156.7 367.5,162.7 367.6,158.2 367.7,152.8 367.7,156.2 367.8,156.0 367.9,153.9 368.0,155.5 368.1,154.6 368.2,157.3 368.3,157.9 368.4,157.3 368.5,156.8 368.6,155.2 368.7,151.6 368.7,155.5 368.8,157.8 368.9,156.2 369.0,153.6 369.1,157.3 369.2,156.0 369.3,160.7 369.4,157.4 369.5,156.3 369.6,154.3 369.6,156.7 369.7,155.2 369.8,156.6 369.9,156.2 370.0,157.4 370.1,156.6 370.2,151.7 370.3,156.1 370.4,156.4 370.5,155.8 370.6,156.7 370.6,155.1 370.7,157.2 370.8,157.4 370.9,155.0 371.0,154.7 371.1,156.5 371.2,155.9 371.3,155.5 371.4,155.6 371.5,157.3 371.5,156.3 371.6,156.1 371.7,157.4 371.8,154.8 371.9,155.7 372.0,155.2 372.1,155.6 372.2,155.7 372.3,160.0 372.4,157.5 372.5,152.5 372.5,159.8 372.6,163.6 372.7,155.6 372.8,157.1 372.9,156.9 373.0,156.6 373.1,156.2 373.2,158.5 373.3,158.5 373.4,154.5 373.5,157.3 373.5,156.4 373.6,154.8 373.7,157.0 373.8,155.0 373.9,155.8 374.0,155.6 374.1,158.6 374.2,157.7 374.3,157.0 374.4,154.8 374.4,157.2 374.5,156.9 374.6,155.5 374.7,152.9 374.8,154.8 374.9,155.5 375.0,156.3 375.1,158.1 375.2,159.6 375.3,158.7 375.4,158.7 375.4,156.6 375.5,155.2 375.6,157.1 375.7,155.9 375.8,154.5 375.9,154.8 376.0,161.5 376.1,156.7 376.2,155.3 376.3,156.6 376.3,155.0 376.4,164.9 376.5,154.9 376.6,157.7 376.7,155.1 376.8,155.2 376.9,156.7 377.0,158.2 377.1,159.2 377.2,159.0 377.3,159.7 377.3,156.3 377.4,156.1 377.5,158.4 377.6,153.1 377.7,157.2 377.8,155.6 377.9,158.8 378.0,158.2 378.1,155.2 378.2,157.7 378.2,158.8 378.3,156.7 378.4,153.8 378.5,156.3 378.6,156.6 378.7,159.9 378.8,155.1 378.9,156.0 379.0,156.4 379.1,157.6 379.2,155.3 379.2,156.6 379.3,154.9 379.4,154.4 379.5,155.2 379.6,158.5 379.7,156.8 379.8,158.5 379.9,158.1 380.0,155.4 380.1,156.0 380.1,157.3 380.2,155.7 380.3,156.3 380.4,156.2 380.5,156.7 380.6,156.3 380.7,157.4 380.8,158.7 380.9,155.1 381.0,155.0 381.1,158.7 381.1,157.5 381.2,155.6 381.3,156.2 381.4,153.5 381.5,156.6 381.6,158.5 381.7,157.9 381.8,154.4 381.9,156.2 382.0,156.3 382.0,157.6 382.1,157.0 382.2,155.7 382.3,161.3 382.4,153.8 382.5,157.4 382.6,156.0 382.7,155.0 382.8,155.6 382.9,156.5 383.0,156.6 383.0,156.9 383.1,156.1 383.2,157.1 383.3,155.6 383.4,154.1 383.5,155.9 383.6,154.8 383.7,157.9 383.8,155.4 383.9,156.4 383.9,157.3 384.0,155.7 384.1,156.8 384.2,157.1 384.3,157.1 384.4,154.6 384.5,154.7 384.6,157.0 384.7,155.6 384.8,155.1 384.9,154.0 384.9,158.8 385.0,156.2 385.1,157.4 385.2,156.0 385.3,157.5 385.4,158.1 385.5,153.1 385.6,156.0 385.7,157.0 385.8,154.2 385.8,156.1 385.9,158.8 386.0,154.9 386.1,156.9 386.2,153.0 386.3,155.8 386.4,154.0 386.5,154.4 386.6,161.3 386.7,158.5 386.8,158.0 386.8,156.3 386.9,156.4 387.0,158.5 387.1,155.1 387.2,155.4 387.3,156.9 387.4,156.8 387.5,153.8 387.6,161.2 387.7,158.5 387.7,156.6 387.8,156.7 387.9,154.1 388.0,157.5 388.1,156.1 388.2,157.3 388.3,157.0 388.4,156.6 388.5,157.3 388.6,157.3 388.7,155.7 388.7,154.3 388.8,157.3 388.9,155.6 389.0,157.7 389.1,158.5 389.2,156.6 389.3,159.6 389.4,158.6 389.5,155.2 389.6,158.1 389.6,156.4 389.7,157.3 389.8,155.5 389.9,155.5 390.0,155.8 390.1,156.4 390.2,157.1 390.3,155.4 390.4,155.6 390.5,156.8 390.6,155.1 390.6,158.6 390.7,156.2 390.8,157.8 390.9,156.5 391.0,156.9 391.1,156.6 391.2,156.6 391.3,156.2 391.4,157.1 391.5,157.1 391.5,156.0 391.6,157.3 391.7,156.5 391.8,155.1 391.9,157.2 392.0,159.1 392.1,157.4 392.2,157.9 392.3,157.6 392.4,155.6 392.5,158.0 392.5,157.2 392.6,156.7 392.7,156.4 392.8,155.9 392.9,156.2 393.0,158.5 393.1,157.1 393.2,158.1 393.3,158.8 393.4,158.8 393.4,154.2 393.5,156.5 393.6,158.7 393.7,155.7 393.8,156.8 393.9,156.4 394.0,156.3 394.1,157.5 394.2,157.7 394.3,156.7 394.4,155.5 394.4,157.2 394.5,157.1 394.6,155.3 394.7,156.8 394.8,156.5 394.9,156.0 395.0,156.8 395.1,157.1 395.2,156.5 395.3,156.5 395.3,156.5 395.4,156.7 395.5,157.0 395.6,156.6 395.7,156.5 395.8,156.4 395.9,154.5 396.0,156.6 396.1,156.5 396.2,156.0 396.3,156.9 396.3,157.6 396.4,157.5 396.5,153.7 396.6,154.2 396.7,155.9 396.8,154.5 396.9,158.4 397.0,156.0 397.1,153.0 397.2,155.6 397.2,155.5 397.3,156.1 397.4,154.9 397.5,154.1 397.6,154.1 397.7,156.2 397.8,155.8 397.9,157.2 398.0,156.7 398.1,157.4 398.2,156.9 398.2,157.2 398.3,154.9 398.4,157.0 398.5,157.7 398.6,158.6 398.7,157.3 398.8,160.2 398.9,154.4 399.0,157.5 399.1,155.6 399.1,155.6 399.2,157.2 399.3,155.5 399.4,154.8 399.5,155.8 399.6,156.2 399.7,153.4 399.8,156.0 399.9,155.8 400.0,156.1 400.1,156.4 400.1,157.2 400.2,155.1 400.3,156.9 400.4,155.9 400.5,155.6 400.6,157.0 400.7,156.1 400.8,153.6 400.9,156.2 401.0,155.3 401.0,156.1 401.1,158.9 401.2,155.7 401.3,154.8 401.4,156.8 401.5,157.5 401.6,155.4 401.7,155.7 401.8,157.5 401.9,157.7 402.0,157.4 402.0,156.6 402.1,155.9 402.2,155.3 402.3,154.9 402.4,155.3 402.5,156.3 402.6,155.1 402.7,155.6 402.8,157.2 402.9,155.2 403.0,155.1 403.0,157.0 403.1,157.4 403.2,157.3 403.3,156.2 403.4,155.9 403.5,157.1 403.6,156.6 403.7,155.6 403.8,157.0 403.9,156.0 403.9,157.3 404.0,158.5 404.1,153.2 404.2,156.2 404.3,157.3 404.4,155.3 404.5,155.9 404.6,154.1 404.7,158.4 404.8,151.9 404.9,156.1 404.9,156.1 405.0,153.9 405.1,157.0 405.2,157.4 405.3,156.4 405.4,156.2 405.5,155.9 405.6,155.8 405.7,153.0 405.8,155.3 405.8,156.0 405.9,155.5 406.0,155.4 406.1,156.2 406.2,158.0 406.3,156.9 406.4,156.6 406.5,156.5 406.6,157.4 406.7,158.8 406.8,156.2 406.8,154.3 406.9,156.4 407.0,153.5 407.1,157.5 407.2,157.0 407.3,157.9 407.4,157.9 407.5,155.1 407.6,157.1 407.7,156.3 407.7,154.0 407.8,156.7 407.9,157.8 408.0,156.8 408.1,159.3 408.2,156.6 408.3,156.1 408.4,156.1 408.5,157.6 408.6,157.1 408.7,155.6 408.7,155.8 408.8,156.1 408.9,156.6 409.0,157.7 409.1,157.0 409.2,155.1 409.3,156.5 409.4,155.3 409.5,156.4 409.6,157.6 409.6,155.6 409.7,158.4 409.8,157.5 409.9,157.6 410.0,158.3 410.1,156.5 410.2,156.6 410.3,155.1 410.4,156.9 410.5,156.6 410.6,156.7 410.6,157.7 410.7,157.6 410.8,159.3 410.9,154.9 411.0,158.5 411.1,156.6 411.2,157.6 411.3,155.8 411.4,155.2 411.5,157.5 411.5,154.5 411.6,158.9 411.7,156.9 411.8,156.5 411.9,156.1 412.0,153.7 412.1,157.0 412.2,158.2 412.3,157.1 412.4,156.4 412.5,156.9 412.5,157.2 412.6,157.5 412.7,155.8 412.8,156.4 412.9,156.2 413.0,156.9 413.1,153.3 413.2,159.9 413.3,155.8 413.4,156.1 413.4,153.3 413.5,156.6 413.6,153.5 413.7,155.7 413.8,157.5 413.9,157.3 414.0,159.6 414.1,154.9 414.2,155.5 414.3,156.6 414.4,155.4 414.4,156.7 414.5,156.7 414.6,157.0 414.7,158.9 414.8,156.9 414.9,156.7 415.0,155.8 415.1,157.4 415.2,157.4 415.3,154.7 415.3,157.0 415.4,156.9 415.5,157.2 415.6,155.6 415.7,155.6 415.8,156.7 415.9,157.9 416.0,156.6 416.1,153.7 416.2,157.4 416.3,157.0 416.3,155.1 416.4,152.4 416.5,161.0 416.6,157.2 416.7,154.7 416.8,156.2 416.9,156.9 417.0,163.1 417.1,157.9 417.2,158.0 417.2,154.6 417.3,156.5 417.4,158.2 417.5,153.9 417.6,156.1 417.7,154.3 417.8,156.9 417.9,154.7 418.0,155.0 418.1,158.7 418.2,155.3 418.2,149.2 418.3,158.5 418.4,158.2 418.5,162.3 418.6,163.8 418.7,157.1 418.8,157.0 418.9,158.9 419.0,148.1 419.1,154.8 419.1,159.3 419.2,154.2 419.3,161.1 419.4,154.0 419.5,152.3 419.6,162.3 419.7,155.1 419.8,158.5 419.9,157.2 420.0,153.7 420.1,160.0 420.1,149.1 420.2,171.8 420.3,149.8 420.4,150.8 420.5,154.2 420.6,156.0 420.7,154.0 420.8,161.0 420.9,196.7 421.0,168.6 421.0,155.2 421.1,155.2 421.2,147.2 421.3,156.7 421.4,154.4 421.5,162.6 421.6,160.2 421.7,158.6 421.8,156.0 421.9,152.0 422.0,154.2 422.0,131.5 422.1,160.5 422.2,153.0 422.3,155.3 422.4,164.1 422.5,160.3 422.6,157.3 422.7,152.9 422.8,158.1 422.9,148.7 422.9,155.6 423.0,158.0 423.1,160.5 423.2,157.7 423.3,162.4 423.4,157.2 423.5,151.9 423.6,155.9 423.7,165.8 423.8,157.6 423.9,165.5 423.9,160.7 424.0,161.8 424.1,155.3 424.2,156.7 424.3,154.6 424.4,155.2 424.5,155.0 424.6,157.0 424.7,157.4 424.8,150.9 424.8,159.5 424.9,147.6 425.0,153.0 425.1,151.7 425.2,153.6 425.3,164.3 425.4,158.7 425.5,160.0 425.6,158.3 425.7,154.4 425.8,156.0 425.8,158.2 425.9,156.7 426.0,159.5 426.1,165.3 426.2,161.8 426.3,154.1 426.4,156.8 426.5,156.8 426.6,155.5 426.7,156.8 426.7,158.0 426.8,156.3 426.9,160.0 427.0,156.8 427.1,159.6 427.2,156.8 427.3,154.6 427.4,153.4 427.5,155.3 427.6,156.9 427.7,154.1 427.7,153.4 427.8,156.3 427.9,155.2 428.0,156.5 428.1,155.5 428.2,157.2 428.3,153.4 428.4,152.9 428.5,152.9 428.6,155.6 428.6,157.0 428.7,158.0 428.8,156.0 428.9,158.7 429.0,161.3 429.1,159.5 429.2,157.4 429.3,159.6 429.4,155.5 429.5,157.7 429.6,158.2 429.6,156.0 429.7,157.7 429.8,156.6 429.9,154.5 430.0,154.2 430.1,154.5 430.2,153.5 430.3,159.5 430.4,156.5 430.5,162.4 430.5,153.9 430.6,156.0 430.7,152.9 430.8,158.9 430.9,159.1 431.0,156.6 431.1,163.5 431.2,156.1 431.3,152.6 431.4,154.8 431.5,162.7 431.5,155.5 431.6,157.8 431.7,154.3 431.8,155.7 431.9,156.1 432.0,155.9 432.1,155.6 432.2,156.3 432.3,159.5 432.4,159.6 432.4,158.3 432.5,158.2 432.6,155.2 432.7,155.2 432.8,155.2 432.9,158.6 433.0,156.1 433.1,152.6 433.2,153.4 433.3,157.4 433.4,160.4 433.4,162.3 433.5,156.9 433.6,159.0 433.7,154.9 433.8,156.5 433.9,154.7 434.0,157.0 434.1,161.0 434.2,156.0 434.3,154.7 434.4,155.4 434.4,155.6 434.5,153.8 434.6,161.7 434.7,156.2 434.8,154.7 434.9,157.2 435.0,163.7 435.1,156.9 435.2,156.6 435.3,153.1 435.3,155.1 435.4,155.2 435.5,155.6 435.6,152.0 435.7,153.8 435.8,155.7 435.9,157.3 436.0,159.7 436.1,145.9 436.2,159.0 436.3,157.2 436.3,158.1 436.4,155.2 436.5,150.6 436.6,156.2 436.7,155.0 436.8,155.0 436.9,157.2 437.0,155.9 437.1,156.9 437.2,161.4 437.2,151.3 437.3,155.5 437.4,154.2 437.5,159.8 437.6,151.8 437.7,153.5 437.8,157.7 437.9,159.2 438.0,156.9 438.1,156.1 438.2,155.9 438.2,145.8 438.3,157.9 438.4,156.3 438.5,155.6 438.6,153.7 438.7,157.1 438.8,157.1 438.9,158.9 439.0,157.2 439.1,155.1 439.1,153.5 439.2,159.7 439.3,158.1 439.4,164.0 439.5,156.8 439.6,155.0 439.7,156.8 439.8,156.1 439.9,155.9 440.0,151.9 440.1,153.8 440.1,156.2 440.2,162.7 440.3,155.1 440.4,157.0 440.5,158.5 440.6,153.5 440.7,157.1 440.8,156.2 440.9,163.2 441.0,151.7 441.0,155.1 441.1,159.4 441.2,157.3 441.3,159.2 441.4,156.7 441.5,156.6 441.6,155.2 441.7,157.7 441.8,155.5 441.9,144.9 442.0,155.8 442.0,159.3 442.1,154.5 442.2,155.9 442.3,158.9 442.4,167.9 442.5,155.2 442.6,158.1 442.7,153.2 442.8,156.2 442.9,155.7 442.9,157.1 443.0,156.2 443.1,156.6 443.2,157.2 443.3,155.2 443.4,156.5 443.5,158.1 443.6,157.5 443.7,158.1 443.8,157.6 443.9,154.3 443.9,153.5 444.0,154.3 444.1,158.2 444.2,154.6 444.3,156.6 444.4,157.1 444.5,153.4 444.6,154.2 444.7,157.9 444.8,158.7 444.8,157.6 444.9,156.4 445.0,158.1 445.1,159.8 445.2,161.5 445.3,158.3 445.4,153.9 445.5,156.5 445.6,161.5 445.7,154.8 445.8,155.5 445.8,155.1 445.9,154.9 446.0,157.6 446.1,160.8 446.2,156.0 446.3,155.3 446.4,157.8 446.5,155.9 446.6,161.5 446.7,156.1 446.7,154.5 446.8,151.2 446.9,153.8 447.0,157.7 447.1,155.8 447.2,154.4 447.3,156.7 447.4,156.5 447.5,156.4 447.6,154.6 447.7,156.4 447.7,157.2 447.8,158.8 447.9,157.5 448.0,159.2 448.1,157.1 448.2,156.1 448.3,157.7 448.4,156.8 448.5,155.3 448.6,155.7 448.6,157.7 448.7,152.4 448.8,155.5 448.9,156.6 449.0,154.8 449.1,159.7 449.2,158.4 449.3,157.2 449.4,155.3 449.5,157.2 449.6,157.9 449.6,156.7 449.7,151.9 449.8,160.7 449.9,156.7 450.0,155.1 450.1,155.5 450.2,158.0 450.3,154.7 450.4,157.2 450.5,157.0 450.5,157.3 450.6,156.2 450.7,157.0 450.8,156.7 450.9,154.9 451.0,153.2 451.1,157.9 451.2,156.9 451.3,155.0 451.4,157.2 451.5,159.6 451.5,153.6 451.6,156.3 451.7,159.8 451.8,158.2 451.9,155.7 452.0,157.7 452.1,156.7 452.2,157.5 452.3,153.7 452.4,155.9 452.4,158.6 452.5,157.5 452.6,159.5 452.7,155.7 452.8,154.5 452.9,155.6 453.0,156.9 453.1,159.1 453.2,156.5 453.3,154.0 453.4,155.9 453.4,156.8 453.5,157.2 453.6,156.5 453.7,156.0 453.8,155.7 453.9,155.3 454.0,154.9 454.1,155.7 454.2,154.4 454.3,158.9 454.3,154.8 454.4,154.5 454.5,155.2 454.6,155.0 454.7,157.1 454.8,155.3 454.9,156.5 455.0,158.0 455.1,157.0 455.2,159.0 455.3,155.9 455.3,155.8 455.4,155.7 455.5,156.7 455.6,157.1 455.7,156.4 455.8,156.9 455.9,156.9 456.0,157.1 456.1,158.1 456.2,158.8 456.2,151.5 456.3,154.0 456.4,157.1 456.5,155.9 456.6,150.9 456.7,154.9 456.8,154.4 456.9,150.2 457.0,160.1 457.1,151.2 457.2,154.8 457.2,150.3 457.3,149.7 457.4,157.1 457.5,156.8 457.6,156.1 457.7,164.6 457.8,165.1 457.9,162.3 458.0,155.4 458.1,156.5 458.1,155.0 458.2,155.1 458.3,154.3 458.4,149.8 458.5,155.5 458.6,155.4 458.7,160.1 458.8,153.8 458.9,153.8 459.0,157.0 459.1,157.8 459.1,156.5 459.2,156.3 459.3,156.5 459.4,156.8 459.5,154.0 459.6,152.3 459.7,155.1 459.8,154.9 459.9,157.7 460.0,155.1 460.0,154.5 460.1,156.8 460.2,157.6 460.3,156.0 460.4,155.8 460.5,157.5 460.6,156.5 460.7,158.7 460.8,154.0 460.9,156.4 461.0,156.3 461.0,158.2 461.1,153.6 461.2,154.0 461.3,154.2 461.4,157.5 461.5,153.6 461.6,157.9 461.7,155.6 461.8,149.3 461.9,157.4 461.9,155.9 462.0,153.4 462.1,156.6 462.2,157.1 462.3,155.9 462.4,159.8 462.5,156.1 462.6,156.5 462.7,156.3 462.8,151.2 462.9,151.9 462.9,158.2 463.0,156.2 463.1,158.5 463.2,150.4 463.3,158.3 463.4,154.1 463.5,158.2 463.6,155.5 463.7,157.4 463.8,156.2 463.8,158.4 463.9,154.5 464.0,154.9 464.1,156.6 464.2,149.5 464.3,157.6 464.4,157.2 464.5,154.5 464.6,157.5 464.7,158.3 464.8,156.2 464.8,154.9 464.9,159.1 465.0,152.1 465.1,160.0 465.2,159.9 465.3,150.5 465.4,159.4 465.5,154.2 465.6,158.1 465.7,156.1 465.8,157.0 465.8,157.2 465.9,159.8 466.0,159.2 466.1,155.1 466.2,155.3 466.3,155.3 466.4,151.9 466.5,154.3 466.6,156.4 466.7,157.9 466.7,155.1 466.8,161.3 466.9,157.3 467.0,153.4 467.1,153.4 467.2,150.9 467.3,156.8 467.4,154.2 467.5,156.3 467.6,155.4 467.7,157.4 467.7,158.0 467.8,155.9 467.9,160.0 468.0,156.5 468.1,154.8 468.2,155.7 468.3,154.8 468.4,155.1 468.5,155.8 468.6,153.7 468.6,156.6 468.7,156.1 468.8,158.4 468.9,160.3 469.0,156.3 469.1,155.4 469.2,157.9 469.3,157.2 469.4,155.3 469.5,155.0 469.6,161.1 469.6,156.1 469.7,154.6 469.8,156.1 469.9,156.4 470.0,153.6 470.1,158.2 470.2,152.9 470.3,156.2 470.4,156.3 470.5,156.5 470.5,154.0 470.6,156.7 470.7,158.4 470.8,153.1 470.9,157.2 471.0,153.8 471.1,157.3 471.2,154.8 471.3,155.7 471.4,156.3 471.5,156.7 471.5,153.6 471.6,156.9 471.7,156.8 471.8,156.8 471.9,157.9 472.0,156.7 472.1,157.7 472.2,155.5 472.3,156.5 472.4,154.1 472.4,157.6 472.5,156.2 472.6,161.5 472.7,157.2 472.8,157.7 472.9,157.4 473.0,160.7 473.1,154.2 473.2,154.3 473.3,157.6 473.4,155.3 473.4,154.7 473.5,157.2 473.6,157.1 473.7,157.4 473.8,155.9 473.9,157.5 474.0,156.7 474.1,155.2 474.2,158.0 474.3,157.2 474.3,156.7 474.4,156.5 474.5,157.7 474.6,154.6 474.7,155.8 474.8,158.0 474.9,155.4 475.0,156.3 475.1,155.8 475.2,154.3 475.3,156.1 475.3,159.7 475.4,160.0 475.5,155.8 475.6,156.5 475.7,156.1 475.8,156.7 475.9,158.3 476.0,158.0 476.1,149.8 476.2,159.3 476.2,157.4 476.3,154.3 476.4,164.1 476.5,157.9 476.6,152.1 476.7,152.1 476.8,157.4 476.9,152.7 477.0,153.4 477.1,156.7 477.2,157.3 477.2,162.4 477.3,159.7 477.4,156.5 477.5,153.3 477.6,155.2 477.7,155.7 477.8,155.1 477.9,153.6 478.0,158.7 478.1,158.0 478.1,153.2 478.2,160.0 478.3,158.5 478.4,155.9 478.5,148.8 478.6,155.0 478.7,155.4 478.8,157.1 478.9,159.1 479.0,155.0 479.1,155.5 479.1,157.0 479.2,154.0 479.3,156.4 479.4,156.3 479.5,157.0 479.6,157.0 479.7,157.7 479.8,157.7 479.9,161.8 480.0,158.6 480.0,158.1 480.1,160.0 480.2,157.1 480.3,159.9 480.4,156.9 480.5,151.7 480.6,156.8 480.7,154.4 480.8,156.4 480.9,156.3 481.0,157.0 481.0,155.4 481.1,157.5 481.2,153.7 481.3,158.8 481.4,157.9 481.5,157.7 481.6,159.1 481.7,155.0 481.8,158.2 481.9,157.5 481.9,158.0 482.0,153.9 482.1,159.5 482.2,151.5 482.3,155.5 482.4,157.8 482.5,159.8 482.6,150.3 482.7,156.1 482.8,153.1 482.9,154.8 482.9,155.2 483.0,155.4 483.1,160.8 483.2,154.9 483.3,153.9 483.4,152.7 483.5,158.2 483.6,154.6 483.7,158.8 483.8,151.1 483.8,161.7 483.9,154.9 484.0,152.7 484.1,144.1 484.2,154.4 484.3,152.0 484.4,157.0 484.5,151.2 484.6,157.2 484.7,152.6 484.8,156.0 484.8,160.5 484.9,157.4 485.0,159.3 485.1,159.7 485.2,157.9 485.3,158.1 485.4,157.5 485.5,152.3 485.6,151.3 485.7,156.6 485.7,155.5 485.8,156.9 485.9,153.8 486.0,156.2 486.1,152.3 486.2,156.0 486.3,156.7 486.4,157.3 486.5,156.5 486.6,153.6 486.7,152.8 486.7,158.5 486.8,155.8 486.9,162.2 487.0,155.1 487.1,158.1 487.2,158.8 487.3,159.3 487.4,158.8 487.5,158.4 487.6,156.2 487.6,156.4 487.7,155.9 487.8,157.0 487.9,153.9 488.0,157.9 488.1,159.7 488.2,149.6 488.3,157.8 488.4,162.8 488.5,153.9 488.6,152.6 488.6,159.0 488.7,147.5 488.8,151.3 488.9,162.0 489.0,157.3 489.1,153.1 489.2,158.7 489.3,159.3 489.4,155.7 489.5,153.6 489.5,155.6 489.6,159.9 489.7,151.9 489.8,155.8 489.9,154.2 490.0,151.5 490.1,152.0 490.2,156.3 490.3,158.7 490.4,155.3 490.5,156.7 490.5,157.5 490.6,157.7 490.7,155.5 490.8,153.3 490.9,158.8 491.0,158.8 491.1,156.0 491.2,157.0 491.3,155.0 491.4,156.1 491.4,157.7 491.5,154.5 491.6,154.5 491.7,156.1 491.8,157.2 491.9,155.7 492.0,156.5 492.1,153.2 492.2,159.9 492.3,158.3 492.4,156.1 492.4,158.9 492.5,157.9 492.6,155.0 492.7,156.3 492.8,157.1 492.9,153.7 493.0,154.7 493.1,152.9 493.2,153.7 493.3,158.5 493.3,158.7 493.4,157.1 493.5,155.9 493.6,154.2 493.7,157.4 493.8,157.7 493.9,155.7 494.0,155.8 494.1,156.4 494.2,158.1 494.3,156.1 494.3,155.9 494.4,157.9 494.5,156.6 494.6,155.6 494.7,155.3 494.8,155.1 494.9,159.3 495.0,158.1 495.1,161.7 495.2,155.4 495.3,154.9 495.3,155.3 495.4,156.8 495.5,155.9 495.6,160.1 495.7,155.5 495.8,158.3 495.9,156.1 496.0,153.9 496.1,156.4 496.2,157.5 496.2,158.1 496.3,153.6 496.4,157.8 496.5,157.3 496.6,156.1 496.7,156.6 496.8,157.1 496.9,155.3 497.0,155.0 497.1,157.4 497.2,159.1 497.2,160.6 497.3,156.9 497.4,153.1 497.5,150.8 497.6,153.9 497.7,157.2 497.8,153.1 497.9,152.9 498.0,152.5 498.1,153.9 498.1,156.9 498.2,155.4 498.3,156.1 498.4,157.3 498.5,156.7 498.6,157.2 498.7,155.5 498.8,155.4 498.9,157.3 499.0,157.1 499.1,157.6 499.1,156.8 499.2,158.3 499.3,155.9 499.4,158.6 499.5,157.3 499.6,155.4 499.7,156.4 499.8,156.8 499.9,154.8 500.0,155.4 500.0,156.7 500.1,157.7 500.2,155.4 500.3,156.9 500.4,155.3 500.5,156.0 500.6,158.3 500.7,156.3 500.8,155.9 500.9,159.2 501.0,156.6 501.0,152.3 501.1,162.8 501.2,158.5 501.3,156.0 501.4,153.6 501.5,157.0 501.6,163.3 501.7,156.3 501.8,160.6 501.9,159.8 501.9,150.5 502.0,157.1 502.1,156.4 502.2,150.8 502.3,157.4 502.4,156.8 502.5,153.4 502.6,157.5 502.7,162.5 502.8,157.9 502.9,154.7 502.9,156.2 503.0,156.1 503.1,156.5 503.2,161.7 503.3,155.8 503.4,156.9 503.5,157.1 503.6,156.1 503.7,156.5 503.8,155.4 503.8,154.3 503.9,158.7 504.0,157.8 504.1,157.5 504.2,156.0 504.3,154.0 504.4,155.2 504.5,156.4 504.6,155.9 504.7,153.3 504.8,162.3 504.8,154.5 504.9,158.9 505.0,159.2 505.1,157.0 505.2,153.2 505.3,157.4 505.4,155.4 505.5,159.1 505.6,156.5 505.7,158.9 505.7,153.0 505.8,155.7 505.9,154.1 506.0,151.4 506.1,155.7 506.2,156.7 506.3,155.8 506.4,148.7 506.5,155.6 506.6,155.2 506.7,154.7 506.7,157.4 506.8,158.6 506.9,156.5 507.0,157.6 507.1,154.8 507.2,156.1 507.3,152.9 507.4,157.5 507.5,155.4 507.6,158.2 507.6,157.4 507.7,152.9 507.8,155.6 507.9,143.0 508.0,155.2 508.1,157.3 508.2,155.6 508.3,156.1 508.4,158.3 508.5,153.5 508.6,159.9 508.6,153.9 508.7,155.3 508.8,158.7 508.9,157.3 509.0,159.8 509.1,157.6 509.2,156.2 509.3,159.9 509.4,155.6 509.5,156.1 509.5,158.0 509.6,157.2 509.7,157.1 509.8,155.0 509.9,156.6 510.0,155.7"/>
<rect class="b" x="356.4" y="125.7" width="154.0" height="76.8"/>
<text class="y" x="355.2" y="126.3">.08</text><text class="y" x="355.2" y="134.0">.06</text><text class="y" x="355.2" y="141.7">.04</text><text class="y" x="355.2" y="149.3">.02</text><text class="y" x="355.2" y="157.0">.00</text><text class="y" x="355.2" y="164.7">-.02</text><text class="y" x="355.2" y="172.4">-.04</text><text class="y" x="355.2" y="180.1">-.06</text><text class="y" x="355.2" y="187.7">-.08</text><text class="y" x="355.2" y="195.4">-.10</text><text class="y" x="355.2" y="203.1">-.12</text>
<text class="x" transform="translate(367.0 209.2) rotate(-60)" y="1.5">18Q3</text><text class="x" transform="translate(383.1 209.2) rotate(-60)" y="1.5">19Q1</text><text class="x" transform="translate(399.2 209.2) rotate(-60)" y="1.5">19Q3</text><text class="x" transform="translate(415.3 209.2) rotate(-60)" y="1.5">20Q1</text><text class="x" transform="translate(431.4 209.2) rotate(-60)" y="1.5">20Q3</text><text class="x" transform="translate(447.5 209.2) rotate(-60)" y="1.5">21Q1</text><text class="x" transform="translate(463.6 209.2) rotate(-60)" y="1.5">21Q3</text><text class="x" transform="translate(479.7 209.2) rotate(-60)" y="1.5">22Q1</text><text class="x" transform="translate(495.8 209.2) rotate(-60)" y="1.5">22Q3</text>
</g>
<g>
<text class="t" x="606.0" y="115.2">Philippine</text>
<rect class="m" x="587.4" y="125.7" width="95.6" height="76.8"/>
<line class="g" x1="538.9" y1="125.7" x2="538.9" y2="202.5"/><line class="g" x1="555.0" y1="125.7" x2="555.0" y2="202.5"/><line class="g" x1="571.1" y1="125.7" x2="571.1" y2="202.5"/><line class="gm" x1="587.2" y1="125.7" x2="587.2" y2="202.5"/><line class="gm" x1="603.3" y1="125.7" x2="603.3" y2="202.5"/><line class="gm" x1="619.4" y1="125.7" x2="619.4" y2="202.5"/><line class="gm" x1="635.5" y1="125.7" x2="635.5" y2="202.5"/><line class="gm" x1="651.6" y1="125.7" x2="651.6" y2="202.5"/><line class="gm" x1="667.7" y1="125.7" x2="667.7" y2="202.5"/>
<polyline class="l" points="529.4,156.9 529.5,156.0 529.6,151.6 529.7,151.9 529.8,145.8 529.9,151.5 529.9,147.0 530.0,151.1 530.1,149.8 530.2,148.3 530.3,151.1 530.4,150.8 530.5,153.4 530.6,155.0 530.7,153.3 530.8,152.9 530.8,149.3 530.9,147.8 531.0,141.7 531.1,154.0 531.2,151.8 531.3,151.8 531.4,149.8 531.5,149.8 531.6,151.1 531.7,148.8 531.8,150.2 531.8,149.8 531.9,149.1 532.0,153.7 532.1,151.4 532.2,156.7 532.3,151.5 532.4,156.0 532.5,147.6 532.6,155.0 532.7,155.0 532.7,137.6 532.8,148.9 532.9,156.1 533.0,154.6 533.1,150.9 533.2,156.7 533.3,150.3 533.4,151.8 533.5,149.7 533.6,149.3 533.7,157.1 533.7,151.9 533.8,147.7 533.9,154.1 534.0,148.6 534.1,153.2 534.2,149.6 534.3,152.1 534.4,149.1 534.5,148.3 534.6,151.7 534.6,146.5 534.7,160.2 534.8,150.7 534.9,151.8 535.0,151.0 535.1,153.3 535.2,148.7 535.3,149.9 535.4,151.2 535.5,150.3 535.6,146.1 535.6,150.4 535.7,153.5 535.8,153.0 535.9,153.8 536.0,150.3 536.1,149.8 536.2,152.2 536.3,148.4 536.4,151.7 536.5,148.9 536.5,155.0 536.6,151.4 536.7,149.2 536.8,149.8 536.9,153.5 537.0,151.2 537.1,154.4 537.2,148.3 537.3,154.2 537.4,157.2 537.5,148.6 537.5,150.6 537.6,149.6 537.7,148.3 537.8,152.9 537.9,152.4 538.0,155.1 538.1,153.8 538.2,152.8 538.3,150.7 538.4,148.7 538.4,150.1 538.5,150.3 538.6,144.6 538.7,147.0 538.8,154.0 538.9,152.6 539.0,152.5 539.1,152.9 539.2,151.7 539.3,149.1 539.4,153.9 539.4,148.4 539.5,153.5 539.6,149.8 539.7,154.2 539.8,150.9 539.9,151.1 540.0,151.7 540.1,150.4 540.2,147.9 540.3,151.9 540.3,150.4 540.4,150.8 540.5,153.5 540.6,154.0 540.7,152.8 540.8,152.9 540.9,151.4 541.0,154.6 541.1,149.8 541.2,153.6 541.3,152.8 541.3,150.1 541.4,147.2 541.5,151.6 541.6,149.8 541.7,150.6 541.8,156.4 541.9,154.3 542.0,151.8 542.1,148.2 542.2,150.3 542.2,148.4 542.3,152.1 542.4,150.0 542.5,153.1 542.6,152.3 542.7,149.9 542.8,138.5 542.9,150.6 543.0,148.4 543.1,148.1 543.2,152.4 543.2,149.8 543.3,154.3 543.4,151.2 543.5,150.5 543.6,152.9 543.7,151.8 543.8,153.7 543.9,148.2 544.0,152.7 544.1,152.1 544.1,151.9 544.2,153.1 544.3,152.2 544.4,152.8 544.5,151.4 544.6,149.9 544.7,150.6 544.8,149.7 544.9,149.0 545.0,143.8 545.1,153.7 545.1,152.4 545.2,147.2 545.3,153.5 545.4,150.7 545.5,155.6 545.6,156.1 545.7,149.0 545.8,153.6 545.9,149.0 546.0,150.5 546.1,152.6 546.1,150.1 546.2,152.3 546.3,150.5 546.4,152.3 546.5,155.3 546.6,152.1 546.7,154.0 546.8,150.0 546.9,157.2 547.0,150.2 547.0,149.9 547.1,153.7 547.2,154.8 547.3,151.9 547.4,153.5 547.5,149.1 547.6,153.3 547.7,152.6 547.8,150.7 547.9,150.3 548.0,153.4 548.0,150.0 548.1,151.2 548.2,150.6 548.3,153.3 548.4,151.1 548.5,154.1 548.6,149.9 548.7,155.5 548.8,152.4 548.9,149.3 548.9,148.6 549.0,149.5 549.1,150.3 549.2,152.2 549.3,155.1 549.4,147.4 549.5,153.3 549.6,153.3 549.7,155.0 549.8,155.2 549.9,154.6 549.9,153.8 550.0,157.1 550.1,152.7 550.2,151.5 550.3,151.0 550.4,153.6 550.5,146.3 550.6,152.5 550.7,155.4 550.8,149.1 550.8,153.3 550.9,157.7 551.0,148.1 551.1,155.0 551.2,151.4 551.3,149.7 551.4,150.7 551.5,149.3 551.6,145.9 551.7,152.2 551.8,153.4 551.8,150.1 551.9,154.6 552.0,156.0 552.1,151.4 552.2,156.8 552.3,153.6 552.4,154.8 552.5,152.0 552.6,147.9 552.7,152.2 552.7,149.9 552.8,150.6 552.9,150.4 553.0,147.9 553.1,147.3 553.2,154.5 553.3,146.9 553.4,148.0 553.5,150.2 553.6,152.8 553.7,148.1 553.7,153.7 553.8,140.1 553.9,158.1 554.0,150.1 554.1,151.3 554.2,152.2 554.3,150.1 554.4,153.0 554.5,151.6 554.6,150.1 554.6,153.1 554.7,151.4 554.8,154.4 554.9,152.2 555.0,146.9 555.1,150.7 555.2,156.6 555.3,154.2 555.4,148.8 555.5,151.7 555.6,158.7 555.6,148.5 555.7,157.5 555.8,150.0 555.9,153.2 556.0,151.0 556.1,151.4 556.2,153.0 556.3,157.3 556.4,157.0 556.5,150.5 556.5,154.8 556.6,151.8 556.7,154.8 556.8,150.4 556.9,152.9 557.0,152.9 557.1,150.8 557.2,151.4 557.3,150.5 557.4,154.5 557.5,150.0 557.5,154.8 557.6,148.4 557.7,154.5 557.8,146.4 557.9,154.2 558.0,150.7 558.1,152.4 558.2,150.4 558.3,148.6 558.4,150.4 558.4,148.2 558.5,158.0 558.6,151.8 558.7,150.9 558.8,148.1 558.9,145.5 559.0,155.3 559.1,150.9 559.2,146.8 559.3,153.1 559.4,156.4 559.4,153.7 559.5,152.9 559.6,152.5 559.7,154.0 559.8,153.8 559.9,147.6 560.0,158.0 560.1,152.0 560.2,150.6 560.3,151.0 560.3,158.2 560.4,151.1 560.5,155.6 560.6,146.6 560.7,150.7 560.8,153.2 560.9,150.2 561.0,150.2 561.1,153.2 561.2,152.8 561.3,150.5 561.3,154.6 561.4,152.4 561.5,151.8 561.6,149.1 561.7,151.4 561.8,149.7 561.9,152.6 562.0,153.7 562.1,149.0 562.2,148.0 562.2,152.9 562.3,150.5 562.4,150.4 562.5,153.2 562.6,148.1 562.7,149.0 562.8,151.6 562.9,152.2 563.0,152.1 563.1,152.6 563.2,150.3 563.2,154.7 563.3,150.2 563.4,153.1 563.5,151.3 563.6,152.6 563.7,154.2 563.8,152.2 563.9,152.2 564.0,152.0 564.1,153.3 564.1,148.2 564.2,153.4 564.3,149.8 564.4,150.7 564.5,153.1 564.6,151.8 564.7,149.7 564.8,149.1 564.9,152.7 565.0,149.3 565.1,151.2 565.1,152.4 565.2,151.6 565.3,150.7 565.4,149.7 565.5,148.2 565.6,152.4 565.7,149.0 565.8,151.0 565.9,150.9 566.0,150.7 566.0,151.6 566.1,151.6 566.2,152.0 566.3,153.3 566.4,152.0 566.5,151.0 566.6,151.9 566.7,150.7 566.8,151.3 566.9,148.2 567.0,151.1 567.0,153.1 567.1,146.8 567.2,160.6 567.3,150.3 567.4,152.7 567.5,153.3 567.6,153.9 567.7,149.9 567.8,152.3 567.9,154.6 567.9,148.8 568.0,150.0 568.1,150.5 568.2,149.3 568.3,153.2 568.4,154.7 568.5,153.1 568.6,151.5 568.7,150.8 568.8,152.3 568.9,154.7 568.9,151.9 569.0,149.7 569.1,153.2 569.2,151.7 569.3,150.0 569.4,152.6 569.5,151.3 569.6,153.8 569.7,147.2 569.8,151.8 569.8,150.1 569.9,147.4 570.0,152.3 570.1,152.3 570.2,154.1 570.3,152.3 570.4,152.8 570.5,152.7 570.6,151.1 570.7,149.5 570.8,153.4 570.8,148.4 570.9,153.0 571.0,148.4 571.1,154.2 571.2,157.6 571.3,155.0 571.4,154.9 571.5,154.7 571.6,149.5 571.7,151.7 571.7,152.5 571.8,149.7 571.9,150.5 572.0,148.1 572.1,150.7 572.2,155.3 572.3,153.2 572.4,156.8 572.5,150.6 572.6,146.9 572.7,148.3 572.7,147.2 572.8,152.8 572.9,150.1 573.0,149.3 573.1,151.5 573.2,149.5 573.3,153.1 573.4,151.2 573.5,148.8 573.6,150.4 573.6,149.3 573.7,147.1 573.8,150.5 573.9,153.5 574.0,160.9 574.1,148.4 574.2,148.2 574.3,150.5 574.4,149.0 574.5,144.5 574.6,151.8 574.6,151.4 574.7,154.1 574.8,152.7 574.9,151.0 575.0,151.6 575.1,152.1 575.2,151.0 575.3,147.2 575.4,143.8 575.5,147.1 575.6,154.6 575.6,155.0 575.7,154.8 575.8,151.8 575.9,153.4 576.0,151.4 576.1,150.0 576.2,149.5 576.3,152.4 576.4,152.8 576.5,153.0 576.5,155.5 576.6,152.0 576.7,153.3 576.8,152.5 576.9,154.6 577.0,150.3 577.1,151.7 577.2,151.7 577.3,146.5 577.4,150.4 577.5,148.6 577.5,149.7 577.6,147.5 577.7,153.9 577.8,156.3 577.9,151.4 578.0,152.1 578.1,151.6 578.2,145.6 578.3,150.1 578.4,152.1 578.4,154.6 578.5,149.4 578.6,154.0 578.7,151.2 578.8,150.1 578.9,153.6 579.0,154.9 579.1,153.0 579.2,148.6 579.3,150.6 579.4,154.1 579.4,148.2 579.5,151.2 579.6,149.9 579.7,151.2 579.8,147.9 579.9,150.9 580.0,149.9 580.1,143.8 580.2,150.5 580.3,153.2 580.3,155.1 580.4,149.8 580.5,151.8 580.6,148.3 580.7,149.5 580.8,148.0 580.9,151.8 581.0,150.0 581.1,151.4 581.2,154.7 581.3,150.7 581.3,150.8 581.4,151.2 581.5,151.3 581.6,152.8 581.7,151.9 581.8,151.9 581.9,151.2 582.0,148.8 582.1,151.7 582.2,152.2 582.2,152.2 582.3,150.8 582.4,151.3 582.5,152.1 582.6,150.3 582.7,151.8 582.8,150.4 582.9,153.1 583.0,149.2 583.1,154.5 583.2,152.2 583.2,151.3 583.3,150.1 583.4,152.2 583.5,154.2 583.6,151.4 583.7,152.1 583.8,151.7 583.9,152.7 584.0,153.8 584.1,152.0 584.1,152.9 584.2,152.6 584.3,150.3 584.4,151.7 584.5,150.1 584.6,150.7 584.7,151.0 584.8,152.0 584.9,152.7 585.0,150.7 585.1,152.7 585.1,149.3 585.2,153.0 585.3,147.5 585.4,151.5 585.5,149.6 585.6,152.4 585.7,147.4 585.8,152.7 585.9,150.6 586.0,147.2 586.0,151.6 586.1,150.7 586.2,148.4 586.3,152.3 586.4,148.3 586.5,152.5 586.6,147.7 586.7,151.8 586.8,149.1 586.9,149.3 587.0,150.8 587.0,151.6 587.1,151.0 587.2,150.0 587.3,149.9 587.4,152.8 587.5,152.2 587.6,150.9 587.7,154.3 587.8,153.1 587.9,150.8 587.9,157.5 588.0,151.1 588.1,152.7 588.2,159.4 588.3,153.1 588.4,150.4 588.5,151.6 588.6,154.1 588.7,154.0 588.8,148.3 588.9,148.9 588.9,152.3 589.0,153.1 589.1,150.6 589.2,152.8 589.3,148.6 589.4,152.4 589.5,151.5 589.6,151.1 589.7,151.4 589.8,157.8 589.8,149.0 589.9,152.0 590.0,151.6 590.1,158.5 590.2,153.4 590.3,144.8 590.4,151.0 590.5,149.5 590.6,156.9 590.7,152.6 590.8,149.3 590.8,148.7 590.9,152.9 591.0,152.0 591.1,148.7 591.2,149.0 591.3,151.8 591.4,154.5 591.5,151.0 591.6,149.4 591.7,149.8 591.7,147.4 591.8,150.1 591.9,155.5 592.0,152.3 592.1,143.3 592.2,156.7 592.3,150.4 592.4,145.6 592.5,176.9 592.6,141.1 592.7,159.4 592.7,149.5 592.8,153.8 592.9,151.4 593.0,149.5 593.1,148.0 593.2,152.1 593.3,155.9 593.4,197.7 593.5,154.4 593.6,126.2 593.6,153.1 593.7,156.7 593.8,162.0 593.9,147.9 594.0,160.1 594.1,147.6 594.2,158.7 594.3,127.7 594.4,152.9 594.5,143.4 594.6,152.3 594.6,147.9 594.7,148.5 594.8,128.9 594.9,158.0 595.0,163.9 595.1,159.0 595.2,151.7 595.3,149.4 595.4,148.5 595.5,164.1 595.5,148.1 595.6,149.2 595.7,157.5 595.8,142.4 595.9,162.4 596.0,159.3 596.1,145.4 596.2,142.4 596.3,147.2 596.4,161.1 596.5,146.7 596.5,136.9 596.6,158.7 596.7,150.5 596.8,150.3 596.9,159.5 597.0,149.9 597.1,154.4 597.2,144.1 597.3,149.7 597.4,149.9 597.4,154.1 597.5,156.4 597.6,146.6 597.7,154.0 597.8,147.4 597.9,149.1 598.0,149.2 598.1,151.1 598.2,143.8 598.3,152.4 598.4,150.6 598.4,151.9 598.5,158.9 598.6,152.5 598.7,149.9 598.8,157.1 598.9,147.7 599.0,150.2 599.1,146.5 599.2,148.8 599.3,160.5 599.3,147.8 599.4,149.0 599.5,152.5 599.6,157.6 599.7,143.4 599.8,152.1 599.9,153.6 600.0,140.1 600.1,148.3 600.2,151.7 600.3,152.0 600.3,145.7 600.4,150.8 600.5,154.5 600.6,150.7 600.7,153.2 600.8,144.7 600.9,152.3 601.0,164.1 601.1,152.8 601.2,152.2 601.2,157.1 601.3,154.6 601.4,151.1 601.5,152.1 601.6,150.9 601.7,147.4 601.8,155.4 601.9,156.3 602.0,152.0 602.1,152.5 602.2,152.2 602.2,152.8 602.3,150.7 602.4,151.4 602.5,152.5 602.6,152.0 602.7,145.4 602.8,149.9 602.9,151.4 603.0,152.2 603.1,148.9 603.1,152.2 603.2,152.1 603.3,152.6 603.4,151.2 603.5,152.6 603.6,149.0 603.7,155.0 603.8,148.7 603.9,151.2 604.0,149.4 604.1,149.4 604.1,151.1 604.2,150.2 604.3,151.3 604.4,151.5 604.5,149.5 604.6,151.8 604.7,153.3 604.8,152.3 604.9,151.0 605.0,151.9 605.0,150.2 605.1,151.7 605.2,150.1 605.3,158.5 605.4,153.9 605.5,149.4 605.6,153.6 605.7,148.2 605.8,147.8 605.9,153.0 606.0,151.9 606.0,149.6 606.1,154.7 606.2,150.2 606.3,149.0 606.4,151.8 606.5,150.3 606.6,150.0 606.7,152.8 606.8,158.2 606.9,150.0 607.0,153.0 607.0,152.8 607.1,151.9 607.2,157.3 607.3,150.2 607.4,146.5 607.5,160.0 607.6,151.6 607.7,153.4 607.8,149.3 607.9,156.8 607.9,152.8 608.0,153.6 608.1,155.2 608.2,147.2 608.3,148.5 608.4,152.7 608.5,148.2 608.6,148.8 608.7,151.4 608.8,151.0 608.9,151.5 608.9,147.9 609.0,153.2 609.1,149.9 609.2,147.1 609.3,148.5 609.4,152.3 609.5,150.6 609.6,146.4 609.7,157.4 609.8,151.0 609.8,149.5 609.9,147.9 610.0,151.1 610.1,147.7 610.2,150.3 610.3,151.2 610.4,152.6 610.5,149.5 610.6,153.3 610.7,149.4 610.8,151.2 610.8,149.6 610.9,149.1 611.0,145.2 611.1,151.4 611.2,152.6 611.3,151.8 611.4,152.3 611.5,151.9 611.6,150.1 611.7,154.8 611.7,148.6 611.8,151.7 611.9,148.7 612.0,154.6 612.1,150.6 612.2,142.9 612.3,149.5 612.4,148.5 612.5,148.3 612.6,148.5 612.7,156.7 612.7,154.2 612.8,145.2 612.9,153.4 613.0,154.5 613.1,150.0 613.2,151.9 613.3,149.8 613.4,148.0 613.5,151.8 613.6,151.8 613.6,156.1 613.7,150.4 613.8,151.2 613.9,143.8 614.0,150.5 614.1,150.2 614.2,148.4 614.3,147.6 614.4,148.8 614.5,148.0 614.6,149.6 614.6,150.9 614.7,151.6 614.8,148.0 614.9,151.6 615.0,151.2 615.1,149.9 615.2,149.6 615.3,147.6 615.4,152.9 615.5,153.9 615.5,151.7 615.6,153.7 615.7,150.3 615.8,152.3 615.9,152.6 616.0,153.6 616.1,146.6 616.2,152.6 616.3,147.2 616.4,150.1 616.5,149.9 616.5,153.5 616.6,152.9 616.7,151.3 616.8,151.2 616.9,149.8 617.0,135.3 617.1,150.1 617.2,151.6 617.3,149.6 617.4,149.9 617.4,152.1 617.5,151.8 617.6,153.2 617.7,149.1 617.8,150.8 617.9,152.9 618.0,150.5 618.1,150.8 618.2,152.7 618.3,152.0 618.4,151.9 618.4,151.6 618.5,148.6 618.6,147.3 618.7,154.3 618.8,149.4 618.9,147.8 619.0,151.4 619.1,151.2 619.2,151.3 619.3,152.0 619.3,146.7 619.4,148.9 619.5,152.2 619.6,152.3 619.7,151.4 619.8,148.0 619.9,153.1 620.0,154.4 620.1,151.7 620.2,150.5 620.3,154.1 620.3,154.3 620.4,151.5 620.5,147.0 620.6,153.3 620.7,152.6 620.8,152.1 620.9,151.6 621.0,147.7 621.1,150.0 621.2,149.9 621.2,151.6 621.3,149.9 621.4,151.9 621.5,152.1 621.6,149.1 621.7,149.5 621.8,150.5 621.9,151.1 622.0,153.7 622.1,158.0 622.2,153.2 622.2,149.7 622.3,153.1 622.4,153.6 622.5,148.1 622.6,150.1 622.7,154.1 622.8,151.5 622.9,154.1 623.0,148.4 623.1,151.1 623.1,151.4 623.2,150.8 623.3,147.6 623.4,151.1 623.5,148.7 623.6,147.8 623.7,149.7 623.8,150.9 623.9,152.4 624.0,161.9 624.1,152.0 624.1,151.8 624.2,151.0 624.3,149.8 624.4,147.7 624.5,146.7 624.6,148.7 624.7,156.8 624.8,150.9 624.9,151.1 625.0,151.0 625.0,146.1 625.1,151.1 625.2,150.5 625.3,150.2 625.4,150.7 625.5,154.7 625.6,154.9 625.7,157.9 625.8,149.9 625.9,155.4 626.0,152.4 626.0,154.9 626.1,153.7 626.2,148.3 626.3,154.9 626.4,162.1 626.5,160.4 626.6,158.2 626.7,144.6 626.8,144.9 626.9,148.4 626.9,150.2 627.0,148.5 627.1,151.8 627.2,151.9 627.3,156.0 627.4,153.8 627.5,154.4 627.6,153.5 627.7,145.0 627.8,153.1 627.9,144.6 627.9,147.9 628.0,141.4 628.1,155.1 628.2,144.8 628.3,156.3 628.4,152.4 628.5,151.5 628.6,148.4 628.7,141.3 628.8,147.0 628.8,153.3 628.9,150.4 629.0,151.7 629.1,148.2 629.2,150.0 629.3,148.7 629.4,139.7 629.5,155.9 629.6,152.4 629.7,147.6 629.8,156.6 629.8,155.6 629.9,156.0 630.0,147.4 630.1,143.7 630.2,154.7 630.3,163.3 630.4,159.4 630.5,141.7 630.6,158.6 630.7,157.2 630.7,147.6 630.8,151.0 630.9,145.4 631.0,154.3 631.1,149.0 631.2,128.9 631.3,154.3 631.4,148.0 631.5,148.6 631.6,160.1 631.7,153.2 631.7,152.9 631.8,159.2 631.9,163.6 632.0,148.0 632.1,151.7 632.2,153.8 632.3,156.2 632.4,156.5 632.5,153.2 632.6,165.0 632.6,154.2 632.7,152.2 632.8,154.7 632.9,143.4 633.0,153.5 633.1,152.2 633.2,152.0 633.3,140.8 633.4,150.0 633.5,160.0 633.6,149.9 633.6,146.8 633.7,153.2 633.8,148.8 633.9,156.2 634.0,158.2 634.1,154.7 634.2,150.0 634.3,149.6 634.4,143.5 634.5,154.8 634.5,157.1 634.6,152.1 634.7,149.0 634.8,149.6 634.9,152.7 635.0,155.9 635.1,148.2 635.2,154.0 635.3,152.8 635.4,152.8 635.5,153.9 635.5,154.4 635.6,147.2 635.7,144.5 635.8,147.1 635.9,150.1 636.0,153.5 636.1,154.9 636.2,150.8 636.3,153.0 636.4,156.4 636.4,147.5 636.5,152.1 636.6,151.2 636.7,149.6 636.8,148.9 636.9,152.1 637.0,151.5 637.1,154.2 637.2,152.1 637.3,153.5 637.4,149.2 637.4,151.3 637.5,151.8 637.6,148.0 637.7,147.3 637.8,149.0 637.9,152.4 638.0,162.5 638.1,149.2 638.2,148.7 638.3,149.1 638.4,148.6 638.4,151.4 638.5,152.1 638.6,151.9 638.7,151.5 638.8,154.3 638.9,152.0 639.0,151.1 639.1,150.4 639.2,152.8 639.3,150.0 639.3,143.8 639.4,155.7 639.5,147.1 639.6,152.8 639.7,152.7 639.8,153.1 639.9,152.5 640.0,149.5 640.1,152.6 640.2,152.0 640.3,151.9 640.3,150.5 640.4,151.3 640.5,149.6 640.6,146.6 640.7,150.9 640.8,148.8 640.9,151.4 641.0,151.9 641.1,150.6 641.2,151.8 641.2,150.3 641.3,152.3 641.4,150.9 641.5,156.3 641.6,150.9 641.7,151.3 641.8,153.5 641.9,153.2 642.0,151.2 642.1,151.1 642.2,150.8 642.2,151.0 642.3,153.9 642.4,151.1 642.5,150.4 642.6,152.1 642.7,154.1 642.8,151.7 642.9,146.2 643.0,151.3 643.1,152.7 643.1,149.2 643.2,145.3 643.3,149.1 643.4,151.3 643.5,152.2 643.6,150.3 643.7,149.9 643.8,150.7 643.9,152.2 644.0,146.8 644.1,152.1 644.1,152.2 644.2,150.1 644.3,151.0 644.4,153.4 644.5,153.4 644.6,145.8 644.7,148.3 644.8,150.2 644.9,153.1 645.0,150.4 645.0,150.7 645.1,151.8 645.2,148.5 645.3,149.2 645.4,152.7 645.5,147.1 645.6,154.6 645.7,154.3 645.8,155.5 645.9,147.4 646.0,148.7 646.0,149.5 646.1,151.2 646.2,149.5 646.3,151.8 646.4,151.4 646.5,150.4 646.6,153.2 646.7,151.5 646.8,149.5 646.9,152.0 646.9,151.1 647.0,151.5 647.1,152.4 647.2,150.6 647.3,150.3 647.4,151.2 647.5,150.9 647.6,148.3 647.7,149.0 647.8,151.5 647.9,150.5 647.9,151.9 648.0,154.0 648.1,153.1 648.2,151.2 648.3,153.6 648.4,154.8 648.5,155.4 648.6,154.3 648.7,146.1 648.8,148.9 648.8,149.6 648.9,151.7 649.0,152.8 649.1,150.2 649.2,153.1 649.3,151.6 649.4,151.8 649.5,151.6 649.6,151.8 649.7,150.4 649.8,150.2 649.8,150.6 649.9,151.8 650.0,153.7 650.1,151.6 650.2,150.3 650.3,149.7 650.4,150.2 650.5,156.1 650.6,145.0 650.7,146.5 650.7,151.7 650.8,153.2 650.9,150.8 651.0,151.3 651.1,151.1 651.2,152.5 651.3,151.7 651.4,152.6 651.5,151.7 651.6,152.5 651.7,150.6 651.7,154.4 651.8,152.7 651.9,149.4 652.0,151.6 652.1,150.7 652.2,154.4 652.3,152.4 652.4,149.5 652.5,150.1 652.6,158.5 652.6,147.5 652.7,152.7 652.8,152.9 652.9,150.7 653.0,152.1 653.1,150.2 653.2,149.2 653.3,150.1 653.4,151.6 653.5,150.0 653.6,152.5 653.6,151.6 653.7,151.1 653.8,152.1 653.9,150.2 654.0,149.4 654.1,151.2 654.2,153.1 654.3,152.2 654.4,151.1 654.5,151.9 654.5,150.1 654.6,151.1 654.7,152.7 654.8,152.2 654.9,150.8 655.0,149.1 655.1,152.6 655.2,150.6 655.3,153.3 655.4,152.8 655.5,153.6 655.5,150.8 655.6,148.4 655.7,151.7 655.8,151.6 655.9,150.6 656.0,154.0 656.1,153.1 656.2,155.4 656.3,149.3 656.4,152.7 656.4,149.3 656.5,153.0 656.6,151.3 656.7,158.8 656.8,146.9 656.9,152.5 657.0,164.1 657.1,152.3 657.2,145.0 657.3,151.4 657.4,149.5 657.4,147.1 657.5,152.1 657.6,154.9 657.7,151.2 657.8,149.6 657.9,154.4 658.0,152.1 658.1,153.3 658.2,153.8 658.3,147.8 658.3,155.3 658.4,150.1 658.5,149.9 658.6,150.7 658.7,153.4 658.8,155.2 658.9,158.3 659.0,141.7 659.1,150.5 659.2,154.0 659.3,151.6 659.3,153.0 659.4,152.4 659.5,150.6 659.6,152.0 659.7,150.2 659.8,153.9 659.9,152.1 660.0,154.3 660.1,152.3 660.2,154.5 660.2,150.1 660.3,156.2 660.4,152.5 660.5,151.8 660.6,147.0 660.7,150.3 660.8,152.7 660.9,154.6 661.0,150.0 661.1,148.0 661.2,149.3 661.2,160.3 661.3,146.4 661.4,154.2 661.5,150.5 661.6,149.3 661.7,151.8 661.8,151.3 661.9,150.4 662.0,149.9 662.1,153.9 662.1,147.6 662.2,149.0 662.3,150.8 662.4,149.9 662.5,150.2 662.6,154.8 662.7,151.6 662.8,150.4 662.9,149.4 663.0,155.6 663.1,150.1 663.1,150.9 663.2,149.1 663.3,151.2 663.4,151.5 663.5,153.0 663.6,150.3 663.7,150.6 663.8,147.6 663.9,149.2 664.0,144.5 664.0,147.1 664.1,151.8 664.2,151.3 664.3,143.9 664.4,148.7 664.5,155.0 664.6,151.5 664.7,148.1 664.8,150.9 664.9,148.3 665.0,149.3 665.0,149.8 665.1,150.9 665.2,151.0 665.3,152.2 665.4,151.2 665.5,153.1 665.6,156.2 665.7,149.2 665.8,153.2 665.9,153.4 665.9,148.2 666.0,147.9 666.1,153.9 666.2,149.8 666.3,147.9 666.4,152.3 666.5,144.0 666.6,153.8 666.7,151.1 666.8,151.6 666.9,150.2 666.9,150.8 667.0,149.0 667.1,148.5 667.2,151.9 667.3,151.6 667.4,150.7 667.5,152.3 667.6,155.2 667.7,152.5 667.8,149.4 667.9,151.9 667.9,154.4 668.0,150.4 668.1,150.1 668.2,151.6 668.3,150.3 668.4,153.0 668.5,148.7 668.6,151.0 668.7,154.6 668.8,148.6 668.8,152.3 668.9,153.4 669.0,153.0 669.1,148.6 669.2,154.3 669.3,151.4 669.4,155.6 669.5,143.2 669.6,151.1 669.7,150.4 669.8,150.8 669.8,149.4 669.9,150.9 670.0,150.3 670.1,150.0 670.2,151.0 670.3,150.3 670.4,149.7 670.5,154.6 670.6,153.7 670.7,145.3 670.7,149.1 670.8,155.0 670.9,155.1 671.0,150.4 671.1,149.3 671.2,150.7 671.3,153.5 671.4,149.6 671.5,151.0 671.6,157.2 671.7,150.4 671.7,150.2 671.8,147.0 671.9,146.9 672.0,152.6 672.1,151.4 672.2,145.5 672.3,152.1 672.4,153.6 672.5,148.2 672.6,154.1 672.6,146.6 672.7,149.5 672.8,151.5 672.9,149.0 673.0,156.1 673.1,155.3 673.2,144.6 673.3,149.3 673.4,151.0 673.5,153.5 673.6,149.5 673.6,151.1 673.7,150.5 673.8,152.5 673.9,153.0 674.0,150.8 674.1,152.2 674.2,151.4 674.3,153.2 674.4,152.2 674.5,150.2 674.5,151.2 674.6,152.4 674.7,153.0 674.8,150.2 674.9,153.1 675.0,149.7 675.1,152.4 675.2,155.2 675.3,149.5 675.4,155.1 675.5,146.8 675.5,151.2 675.6,148.6 675.7,155.2 675.8,154.8 675.9,150.9 676.0,151.6 676.1,149.5 676.2,154.3 676.3,149.3 676.4,149.6 676.4,150.6 676.5,153.2 676.6,150.5 676.7,149.5 676.8,152.1 676.9,149.8 677.0,152.7 677.1,149.5 677.2,150.9 677.3,149.9 677.4,148.9 677.4,150.3 677.5,152.3 677.6,154.6 677.7,152.1 677.8,145.8 677.9,154.0 678.0,151.1 678.1,155.0 678.2,153.0 678.3,153.4 678.3,154.8 678.4,156.7 678.5,150.9 678.6,152.4 678.7,151.5 678.8,150.4 678.9,150.2 679.0,141.7 679.1,150.4 679.2,149.8 679.3,152.8 679.3,151.0 679.4,151.1 679.5,152.6 679.6,148.2 679.7,149.7 679.8,154.1 679.9,153.1 680.0,149.1 680.1,150.3 680.2,150.4 680.2,151.3 680.3,151.6 680.4,153.1 680.5,150.0 680.6,150.6 680.7,150.7 680.8,148.7 680.9,152.2 681.0,164.1 681.1,150.0 681.2,148.8 681.2,148.4 681.3,151.4 681.4,153.2 681.5,148.3 681.6,153.5 681.7,152.5 681.8,148.1 681.9,152.2 682.0,149.6 682.1,154.0 682.1,150.3 682.2,152.3 682.3,151.3 682.4,155.0 682.5,151.3 682.6,145.0"/>
<rect class="b" x="529.0" y="125.7" width="154.0" height="76.8"/>
<text class="y" x="527.8" y="126.3">.08</text><text class="y" x="527.8" y="139.1">.04</text><text class="y" x="527.8" y="151.9">.00</text><text class="y" x="527.8" y="164.7">-.04</text><text class="y" x="527.8" y="177.5">-.08</text><text class="y" x="527.8" y="190.3">-.12</text><text class="y" x="527.8" y="203.1">-.16</text>
<text class="x" transform="translate(539.6 209.2) rotate(-60)" y="1.5">18Q3</text><text class="x" transform="translate(555.7 209.2) rotate(-60)" y="1.5">19Q1</text><text class="x" transform="translate(571.8 209.2) rotate(-60)" y="1.5">19Q3</text><text class="x" transform="translate(587.9 209.2) rotate(-60)" y="1.5">20Q1</text><text class="x" transform="translate(604.0 209.2) rotate(-60)" y="1.5">20Q3</text><text class="x" transform="translate(620.1 209.2) rotate(-60)" y="1.5">21Q1</text><text class="x" transform="translate(636.2 209.2) rotate(-60)" y="1.5">21Q3</text><text class="x" transform="translate(652.3 209.2) rotate(-60)" y="1.5">22Q1</text><text class="x" transform="translate(668.4 209.2) rotate(-60)" y="1.5">22Q3</text>
</g>
<g>
<text class="t" x="88.6" y="222.8">Singapore</text>
<rect class="m" x="70.0" y="233.3" width="95.6" height="76.8"/>
<line class="g" x1="21.5" y1="233.3" x2="21.5" y2="310.1"/><line class="g" x1="37.6" y1="233.3" x2="37.6" y2="310.1"/><line class="g" x1="53.7" y1="233.3" x2="53.7" y2="310.1"/><line class="gm" x1="69.8" y1="233.3" x2="69.8" y2="310.1"/><line class="gm" x1="85.9" y1="233.3" x2="85.9" y2="310.1"/><line class="gm" x1="102.0" y1="233.3" x2="102.0" y2="310.1"/><line class="gm" x1="118.1" y1="233.3" x2="118.1" y2="310.1"/><line class="gm" x1="134.2" y1="233.3" x2="134.2" y2="310.1"/><line class="gm" x1="150.3" y1="233.3" x2="150.3" y2="310.1"/>
<polyline class="l" points="12.0,267.7 12.1,276.4 12.2,274.8 12.3,274.7 12.4,268.4 12.5,272.2 12.5,276.0 12.6,266.3 12.7,270.2 12.8,266.7 12.9,271.9 13.0,274.4 13.1,272.0 13.2,272.8 13.3,273.6 13.4,274.5 13.4,271.9 13.5,272.4 13.6,282.3 13.7,269.2 13.8,268.9 13.9,271.8 14.0,272.0 14.1,270.5 14.2,270.2 14.3,270.9 14.4,268.8 14.4,273.0 14.5,271.5 14.6,269.3 14.7,274.2 14.8,269.8 14.9,270.9 15.0,273.9 15.1,272.9 15.2,272.3 15.3,268.4 15.3,273.9 15.4,270.8 15.5,269.8 15.6,270.6 15.7,272.7 15.8,272.8 15.9,273.1 16.0,273.7 16.1,270.0 16.2,278.1 16.3,269.4 16.3,278.5 16.4,271.0 16.5,272.6 16.6,272.8 16.7,274.7 16.8,262.9 16.9,271.5 17.0,272.1 17.1,273.5 17.2,271.5 17.2,270.0 17.3,272.5 17.4,270.1 17.5,271.8 17.6,272.8 17.7,270.6 17.8,268.8 17.9,270.2 18.0,267.9 18.1,271.8 18.2,273.7 18.2,271.2 18.3,269.9 18.4,271.6 18.5,269.4 18.6,273.9 18.7,275.1 18.8,267.5 18.9,273.5 19.0,279.6 19.1,272.4 19.1,272.5 19.2,270.0 19.3,272.0 19.4,270.5 19.5,272.5 19.6,272.6 19.7,271.7 19.8,269.0 19.9,271.2 20.0,273.4 20.1,276.5 20.1,273.4 20.2,272.4 20.3,271.8 20.4,276.5 20.5,272.9 20.6,276.1 20.7,267.5 20.8,271.7 20.9,270.2 21.0,268.5 21.0,270.1 21.1,263.6 21.2,273.8 21.3,275.0 21.4,268.4 21.5,270.4 21.6,272.1 21.7,269.1 21.8,272.4 21.9,268.1 22.0,270.1 22.0,273.0 22.1,270.5 22.2,272.7 22.3,271.4 22.4,271.9 22.5,268.1 22.6,272.8 22.7,270.7 22.8,271.9 22.9,268.8 22.9,273.0 23.0,269.4 23.1,270.1 23.2,274.9 23.3,271.6 23.4,280.6 23.5,265.7 23.6,266.1 23.7,272.1 23.8,270.8 23.9,261.7 23.9,273.9 24.0,270.3 24.1,266.8 24.2,273.1 24.3,273.0 24.4,273.1 24.5,269.1 24.6,272.4 24.7,269.5 24.8,273.2 24.8,268.3 24.9,272.6 25.0,269.1 25.1,272.1 25.2,267.3 25.3,272.1 25.4,273.4 25.5,275.6 25.6,272.7 25.7,270.7 25.8,273.5 25.8,269.6 25.9,269.8 26.0,273.8 26.1,273.5 26.2,270.5 26.3,275.4 26.4,272.4 26.5,273.3 26.6,266.9 26.7,272.6 26.7,274.1 26.8,271.1 26.9,272.4 27.0,270.4 27.1,273.6 27.2,269.7 27.3,274.9 27.4,271.9 27.5,270.4 27.6,270.2 27.7,275.3 27.7,269.1 27.8,261.7 27.9,273.9 28.0,275.2 28.1,274.6 28.2,275.9 28.3,266.8 28.4,270.0 28.5,272.0 28.6,273.2 28.7,276.4 28.7,279.3 28.8,274.7 28.9,275.6 29.0,272.6 29.1,266.8 29.2,279.8 29.3,266.5 29.4,272.3 29.5,274.7 29.6,270.3 29.6,267.4 29.7,272.9 29.8,272.8 29.9,276.0 30.0,273.9 30.1,274.3 30.2,276.2 30.3,273.2 30.4,286.1 30.5,272.7 30.6,276.7 30.6,277.3 30.7,270.0 30.8,275.5 30.9,271.7 31.0,272.1 31.1,272.6 31.2,276.1 31.3,276.4 31.4,269.5 31.5,271.0 31.5,273.8 31.6,281.4 31.7,271.9 31.8,272.6 31.9,275.8 32.0,275.3 32.1,270.6 32.2,271.3 32.3,270.7 32.4,274.0 32.5,274.8 32.5,274.7 32.6,271.7 32.7,270.0 32.8,280.9 32.9,271.2 33.0,269.7 33.1,264.7 33.2,274.1 33.3,272.0 33.4,271.1 33.4,274.4 33.5,272.6 33.6,270.2 33.7,269.6 33.8,272.4 33.9,267.7 34.0,272.6 34.1,271.6 34.2,268.5 34.3,268.7 34.4,271.7 34.4,270.3 34.5,269.1 34.6,270.5 34.7,272.2 34.8,268.7 34.9,271.4 35.0,271.3 35.1,269.2 35.2,274.2 35.3,272.2 35.3,271.8 35.4,272.4 35.5,271.0 35.6,262.1 35.7,272.7 35.8,271.2 35.9,274.1 36.0,272.6 36.1,270.1 36.2,272.0 36.3,270.7 36.3,271.2 36.4,274.0 36.5,268.9 36.6,270.4 36.7,270.5 36.8,270.7 36.9,272.0 37.0,280.2 37.1,273.8 37.2,270.4 37.2,270.1 37.3,275.0 37.4,268.0 37.5,278.8 37.6,268.7 37.7,271.7 37.8,269.7 37.9,270.5 38.0,271.3 38.1,274.1 38.2,270.6 38.2,272.5 38.3,273.6 38.4,272.1 38.5,274.7 38.6,272.6 38.7,273.4 38.8,272.2 38.9,274.2 39.0,272.0 39.1,270.3 39.1,270.4 39.2,273.3 39.3,272.2 39.4,266.3 39.5,274.1 39.6,279.0 39.7,266.2 39.8,270.5 39.9,272.3 40.0,271.4 40.1,270.5 40.1,272.6 40.2,272.9 40.3,270.4 40.4,272.5 40.5,272.7 40.6,276.6 40.7,268.1 40.8,272.4 40.9,272.7 41.0,274.0 41.0,272.2 41.1,274.3 41.2,272.2 41.3,271.4 41.4,270.3 41.5,273.0 41.6,276.3 41.7,273.1 41.8,270.7 41.9,275.7 42.0,271.6 42.0,273.4 42.1,272.4 42.2,268.0 42.3,273.4 42.4,268.4 42.5,273.0 42.6,272.6 42.7,264.8 42.8,271.6 42.9,274.5 42.9,273.8 43.0,271.2 43.1,270.2 43.2,271.7 43.3,272.3 43.4,270.9 43.5,267.9 43.6,274.3 43.7,268.7 43.8,274.5 43.9,267.6 43.9,265.3 44.0,284.1 44.1,274.3 44.2,273.9 44.3,270.0 44.4,268.5 44.5,282.0 44.6,275.5 44.7,268.7 44.8,268.9 44.8,272.5 44.9,274.1 45.0,272.5 45.1,271.0 45.2,271.7 45.3,268.6 45.4,270.8 45.5,265.8 45.6,273.4 45.7,271.6 45.8,271.7 45.8,268.2 45.9,270.5 46.0,271.0 46.1,271.8 46.2,270.8 46.3,273.6 46.4,272.3 46.5,268.7 46.6,270.7 46.7,272.9 46.7,270.3 46.8,268.1 46.9,272.5 47.0,275.1 47.1,269.5 47.2,269.8 47.3,272.1 47.4,270.2 47.5,271.3 47.6,272.4 47.7,275.9 47.7,275.2 47.8,268.2 47.9,276.9 48.0,270.4 48.1,269.9 48.2,276.0 48.3,288.5 48.4,273.5 48.5,271.4 48.6,272.9 48.6,272.9 48.7,272.9 48.8,270.2 48.9,269.7 49.0,272.8 49.1,270.7 49.2,271.8 49.3,272.2 49.4,267.7 49.5,271.8 49.6,272.6 49.6,281.3 49.7,272.6 49.8,276.9 49.9,271.2 50.0,271.0 50.1,271.2 50.2,271.6 50.3,274.8 50.4,274.1 50.5,271.8 50.5,269.4 50.6,278.3 50.7,270.9 50.8,266.0 50.9,271.9 51.0,274.8 51.1,273.9 51.2,269.9 51.3,276.0 51.4,272.1 51.5,274.0 51.5,272.4 51.6,270.0 51.7,269.1 51.8,276.2 51.9,270.7 52.0,271.2 52.1,270.8 52.2,272.6 52.3,271.8 52.4,277.2 52.4,273.5 52.5,275.6 52.6,274.8 52.7,268.6 52.8,275.4 52.9,267.7 53.0,268.4 53.1,272.5 53.2,272.9 53.3,268.1 53.4,271.4 53.4,265.8 53.5,274.0 53.6,273.1 53.7,267.4 53.8,274.2 53.9,266.9 54.0,270.4 54.1,274.5 54.2,274.3 54.3,270.3 54.3,269.3 54.4,271.7 54.5,273.1 54.6,268.4 54.7,273.0 54.8,276.1 54.9,271.2 55.0,272.5 55.1,270.0 55.2,267.7 55.3,269.6 55.3,273.8 55.4,274.2 55.5,275.3 55.6,270.3 55.7,266.4 55.8,272.5 55.9,269.7 56.0,266.2 56.1,270.6 56.2,276.0 56.2,272.2 56.3,272.4 56.4,266.5 56.5,273.9 56.6,265.1 56.7,271.8 56.8,262.6 56.9,274.6 57.0,260.8 57.1,272.6 57.2,267.0 57.2,268.8 57.3,274.2 57.4,267.4 57.5,272.1 57.6,272.6 57.7,273.5 57.8,270.8 57.9,273.3 58.0,272.7 58.1,270.3 58.2,272.4 58.2,274.5 58.3,271.7 58.4,274.8 58.5,276.6 58.6,269.9 58.7,276.4 58.8,274.3 58.9,274.1 59.0,268.7 59.1,267.1 59.1,275.4 59.2,274.1 59.3,272.5 59.4,264.8 59.5,271.5 59.6,272.0 59.7,274.6 59.8,272.8 59.9,270.7 60.0,268.8 60.1,275.3 60.1,275.6 60.2,267.6 60.3,269.2 60.4,276.5 60.5,271.4 60.6,280.7 60.7,270.3 60.8,272.3 60.9,272.8 61.0,262.6 61.0,276.7 61.1,269.1 61.2,272.0 61.3,270.9 61.4,271.3 61.5,280.1 61.6,273.5 61.7,276.2 61.8,272.0 61.9,274.5 62.0,274.2 62.0,276.1 62.1,277.2 62.2,275.2 62.3,270.9 62.4,272.9 62.5,272.9 62.6,272.5 62.7,271.1 62.8,270.3 62.9,271.5 62.9,270.5 63.0,270.7 63.1,274.2 63.2,269.2 63.3,270.3 63.4,275.2 63.5,275.0 63.6,275.7 63.7,272.8 63.8,264.7 63.9,274.6 63.9,270.4 64.0,271.0 64.1,271.5 64.2,272.7 64.3,267.1 64.4,273.3 64.5,275.2 64.6,268.7 64.7,272.4 64.8,271.2 64.8,269.4 64.9,272.4 65.0,273.5 65.1,268.6 65.2,270.5 65.3,268.5 65.4,273.8 65.5,271.2 65.6,273.9 65.7,272.1 65.8,275.3 65.8,271.6 65.9,271.1 66.0,274.1 66.1,268.3 66.2,274.4 66.3,272.4 66.4,268.6 66.5,269.0 66.6,273.1 66.7,271.7 66.7,269.5 66.8,272.1 66.9,269.1 67.0,271.0 67.1,271.4 67.2,271.8 67.3,272.5 67.4,270.3 67.5,276.4 67.6,271.5 67.7,268.3 67.7,277.3 67.8,271.4 67.9,276.4 68.0,272.6 68.1,271.6 68.2,271.1 68.3,273.6 68.4,272.0 68.5,270.5 68.6,269.8 68.6,273.1 68.7,271.3 68.8,271.2 68.9,272.9 69.0,276.7 69.1,271.6 69.2,274.3 69.3,270.5 69.4,271.6 69.5,268.2 69.6,268.5 69.6,272.3 69.7,273.3 69.8,268.3 69.9,273.0 70.0,273.9 70.1,272.1 70.2,271.3 70.3,272.5 70.4,268.3 70.5,270.8 70.5,276.1 70.6,272.8 70.7,270.9 70.8,269.7 70.9,273.8 71.0,277.3 71.1,271.9 71.2,272.9 71.3,265.2 71.4,271.5 71.5,274.7 71.5,278.4 71.6,258.7 71.7,270.4 71.8,272.1 71.9,267.3 72.0,269.0 72.1,271.7 72.2,270.8 72.3,271.2 72.4,271.7 72.4,271.0 72.5,273.7 72.6,266.0 72.7,273.4 72.8,267.1 72.9,271.1 73.0,278.5 73.1,269.5 73.2,269.0 73.3,271.6 73.4,269.6 73.4,272.9 73.5,274.9 73.6,265.8 73.7,261.0 73.8,270.3 73.9,283.5 74.0,265.5 74.1,273.0 74.2,269.6 74.3,272.6 74.3,268.4 74.4,273.9 74.5,267.7 74.6,271.6 74.7,278.9 74.8,266.6 74.9,273.1 75.0,278.1 75.1,295.7 75.2,281.6 75.3,268.4 75.3,276.9 75.4,254.7 75.5,273.2 75.6,266.7 75.7,267.0 75.8,272.8 75.9,275.1 76.0,278.3 76.1,309.1 76.2,275.2 76.2,291.8 76.3,269.5 76.4,287.6 76.5,286.9 76.6,279.8 76.7,276.0 76.8,244.3 76.9,269.7 77.0,257.7 77.1,274.0 77.2,268.7 77.2,285.9 77.3,270.5 77.4,254.1 77.5,273.5 77.6,284.1 77.7,276.4 77.8,248.9 77.9,252.5 78.0,262.3 78.1,269.6 78.1,286.1 78.2,264.5 78.3,268.3 78.4,264.5 78.5,260.5 78.6,271.1 78.7,281.2 78.8,262.9 78.9,269.8 79.0,274.5 79.1,273.7 79.1,288.5 79.2,274.7 79.3,277.1 79.4,277.0 79.5,265.4 79.6,268.6 79.7,271.5 79.8,273.1 79.9,292.6 80.0,274.2 80.0,279.8 80.1,269.2 80.2,285.8 80.3,273.6 80.4,275.9 80.5,270.0 80.6,257.3 80.7,270.9 80.8,273.1 80.9,270.8 81.0,267.2 81.0,270.3 81.1,278.3 81.2,278.6 81.3,274.0 81.4,275.8 81.5,273.6 81.6,266.9 81.7,266.9 81.8,280.4 81.9,275.6 81.9,280.1 82.0,264.2 82.1,266.7 82.2,270.1 82.3,269.1 82.4,263.2 82.5,274.3 82.6,271.8 82.7,279.2 82.8,268.9 82.9,265.7 82.9,269.2 83.0,274.3 83.1,269.8 83.2,272.2 83.3,272.8 83.4,276.5 83.5,273.2 83.6,260.1 83.7,271.4 83.8,277.1 83.8,271.7 83.9,274.2 84.0,266.7 84.1,267.2 84.2,264.4 84.3,274.7 84.4,271.9 84.5,266.3 84.6,270.9 84.7,268.3 84.8,272.5 84.8,274.8 84.9,260.6 85.0,269.5 85.1,266.6 85.2,274.3 85.3,275.9 85.4,270.7 85.5,276.1 85.6,281.2 85.7,274.8 85.7,273.0 85.8,268.8 85.9,265.7 86.0,262.6 86.1,266.5 86.2,281.0 86.3,276.3 86.4,271.1 86.5,276.7 86.6,269.8 86.7,269.7 86.7,267.5 86.8,271.3 86.9,274.3 87.0,274.7 87.1,273.3 87.2,271.3 87.3,269.0 87.4,278.0 87.5,262.9 87.6,272.5 87.6,269.7 87.7,270.6 87.8,274.9 87.9,272.3 88.0,270.8 88.1,267.7 88.2,271.2 88.3,271.2 88.4,270.3 88.5,269.3 88.6,272.0 88.6,271.1 88.7,271.0 88.8,271.4 88.9,271.2 89.0,272.8 89.1,268.9 89.2,270.6 89.3,271.1 89.4,267.1 89.5,271.3 89.6,272.1 89.6,273.4 89.7,274.1 89.8,270.4 89.9,271.9 90.0,269.0 90.1,279.8 90.2,273.7 90.3,267.8 90.4,271.7 90.5,268.3 90.5,268.9 90.6,272.3 90.7,272.1 90.8,271.9 90.9,272.4 91.0,273.2 91.1,272.3 91.2,273.2 91.3,266.1 91.4,275.9 91.5,270.5 91.5,268.3 91.6,271.2 91.7,271.0 91.8,270.3 91.9,271.1 92.0,269.7 92.1,272.7 92.2,273.3 92.3,272.8 92.4,278.2 92.4,273.2 92.5,272.4 92.6,270.0 92.7,269.9 92.8,272.6 92.9,266.9 93.0,278.3 93.1,270.7 93.2,270.6 93.3,267.1 93.4,272.6 93.4,272.7 93.5,271.4 93.6,268.3 93.7,268.2 93.8,270.9 93.9,273.4 94.0,272.7 94.1,273.6 94.2,266.6 94.3,272.4 94.3,271.3 94.4,264.9 94.5,270.9 94.6,272.4 94.7,271.7 94.8,273.8 94.9,272.0 95.0,272.7 95.1,275.2 95.2,271.5 95.3,274.2 95.3,269.9 95.4,272.3 95.5,272.6 95.6,273.4 95.7,274.8 95.8,271.7 95.9,278.6 96.0,271.1 96.1,270.3 96.2,268.9 96.2,268.1 96.3,266.2 96.4,272.3 96.5,269.7 96.6,256.3 96.7,270.3 96.8,271.7 96.9,271.9 97.0,272.0 97.1,271.0 97.2,271.5 97.2,270.6 97.3,269.5 97.4,273.7 97.5,269.4 97.6,261.1 97.7,270.3 97.8,264.8 97.9,274.4 98.0,269.8 98.1,269.1 98.1,276.8 98.2,274.4 98.3,272.0 98.4,278.1 98.5,270.8 98.6,271.9 98.7,272.0 98.8,271.7 98.9,270.4 99.0,272.1 99.1,276.3 99.1,272.7 99.2,272.9 99.3,270.8 99.4,269.2 99.5,273.3 99.6,281.3 99.7,272.7 99.8,269.4 99.9,270.5 100.0,270.3 100.0,270.3 100.1,265.8 100.2,269.6 100.3,271.2 100.4,272.1 100.5,272.6 100.6,273.8 100.7,271.5 100.8,272.6 100.9,270.3 101.0,270.5 101.0,267.1 101.1,274.5 101.2,270.9 101.3,273.2 101.4,271.4 101.5,273.9 101.6,271.2 101.7,272.2 101.8,273.0 101.9,267.4 101.9,266.0 102.0,268.2 102.1,270.9 102.2,272.9 102.3,274.8 102.4,271.9 102.5,270.2 102.6,274.9 102.7,272.7 102.8,269.6 102.9,268.6 102.9,272.1 103.0,274.0 103.1,271.4 103.2,272.9 103.3,269.7 103.4,269.0 103.5,271.3 103.6,274.6 103.7,269.5 103.8,269.5 103.8,271.8 103.9,270.9 104.0,272.1 104.1,273.3 104.2,269.7 104.3,271.7 104.4,269.5 104.5,274.4 104.6,271.7 104.7,271.9 104.8,272.2 104.8,272.3 104.9,273.2 105.0,272.6 105.1,271.5 105.2,272.1 105.3,271.6 105.4,272.0 105.5,273.0 105.6,268.2 105.7,272.2 105.7,269.8 105.8,273.2 105.9,269.4 106.0,272.3 106.1,270.7 106.2,272.2 106.3,272.7 106.4,275.8 106.5,268.7 106.6,272.0 106.7,271.1 106.7,273.5 106.8,273.2 106.9,273.4 107.0,271.9 107.1,271.7 107.2,274.0 107.3,270.3 107.4,275.3 107.5,274.4 107.6,277.4 107.6,270.4 107.7,270.4 107.8,269.0 107.9,271.4 108.0,275.2 108.1,269.9 108.2,272.2 108.3,271.6 108.4,272.2 108.5,270.9 108.6,271.7 108.6,273.7 108.7,273.3 108.8,272.0 108.9,272.8 109.0,271.8 109.1,270.4 109.2,272.1 109.3,270.6 109.4,270.4 109.5,270.4 109.5,273.8 109.6,273.6 109.7,271.8 109.8,269.8 109.9,268.4 110.0,272.0 110.1,270.7 110.2,271.1 110.3,272.1 110.4,270.4 110.5,270.5 110.5,272.1 110.6,271.0 110.7,273.0 110.8,270.9 110.9,269.8 111.0,269.8 111.1,272.9 111.2,271.1 111.3,273.6 111.4,274.9 111.4,274.3 111.5,276.3 111.6,270.4 111.7,270.1 111.8,271.6 111.9,267.6 112.0,271.2 112.1,272.3 112.2,274.6 112.3,272.7 112.4,273.3 112.4,270.9 112.5,273.0 112.6,270.3 112.7,266.9 112.8,272.8 112.9,272.2 113.0,275.1 113.1,273.8 113.2,271.2 113.3,271.8 113.3,273.0 113.4,268.6 113.5,272.9 113.6,282.3 113.7,276.8 113.8,274.8 113.9,276.6 114.0,275.8 114.1,268.6 114.2,268.5 114.3,267.4 114.3,269.1 114.4,272.7 114.5,269.1 114.6,269.1 114.7,273.1 114.8,273.1 114.9,268.2 115.0,275.9 115.1,271.8 115.2,273.2 115.2,268.5 115.3,280.9 115.4,265.5 115.5,272.6 115.6,268.2 115.7,270.2 115.8,271.3 115.9,271.8 116.0,267.9 116.1,273.1 116.2,272.0 116.2,269.5 116.3,274.5 116.4,272.0 116.5,268.7 116.6,272.5 116.7,270.5 116.8,272.2 116.9,268.5 117.0,266.5 117.1,271.7 117.1,274.4 117.2,272.9 117.3,271.4 117.4,281.2 117.5,272.3 117.6,276.9 117.7,277.7 117.8,273.4 117.9,266.7 118.0,276.3 118.1,272.5 118.1,273.3 118.2,276.7 118.3,274.0 118.4,268.3 118.5,272.8 118.6,273.8 118.7,271.8 118.8,271.8 118.9,272.0 119.0,272.0 119.0,271.3 119.1,273.0 119.2,270.6 119.3,272.3 119.4,274.3 119.5,278.3 119.6,269.3 119.7,276.1 119.8,273.8 119.9,274.8 120.0,274.1 120.0,269.9 120.1,269.8 120.2,264.1 120.3,272.2 120.4,273.3 120.5,272.1 120.6,269.8 120.7,271.2 120.8,274.2 120.9,273.3 121.0,272.0 121.0,271.7 121.1,270.5 121.2,273.3 121.3,272.6 121.4,275.4 121.5,267.0 121.6,272.1 121.7,270.3 121.8,271.9 121.9,272.2 121.9,273.9 122.0,272.2 122.1,270.8 122.2,272.7 122.3,270.8 122.4,269.9 122.5,273.0 122.6,272.1 122.7,272.8 122.8,270.9 122.9,272.4 122.9,271.9 123.0,272.6 123.1,271.0 123.2,274.2 123.3,272.3 123.4,272.3 123.5,274.9 123.6,271.5 123.7,274.0 123.8,274.2 123.8,275.7 123.9,270.5 124.0,271.6 124.1,270.7 124.2,273.1 124.3,271.2 124.4,270.9 124.5,269.4 124.6,270.2 124.7,273.5 124.8,272.3 124.8,268.9 124.9,271.3 125.0,274.2 125.1,274.3 125.2,271.2 125.3,271.6 125.4,275.3 125.5,272.3 125.6,272.8 125.7,270.0 125.7,274.5 125.8,270.9 125.9,272.4 126.0,271.3 126.1,270.9 126.2,271.9 126.3,272.8 126.4,274.4 126.5,268.5 126.6,270.5 126.7,271.6 126.7,273.2 126.8,272.2 126.9,270.0 127.0,278.4 127.1,274.5 127.2,272.2 127.3,267.5 127.4,274.7 127.5,276.4 127.6,271.5 127.6,275.6 127.7,278.0 127.8,269.7 127.9,274.5 128.0,262.4 128.1,276.6 128.2,274.3 128.3,274.8 128.4,276.1 128.5,275.7 128.6,270.1 128.6,272.8 128.7,267.6 128.8,273.2 128.9,271.1 129.0,271.7 129.1,269.8 129.2,270.3 129.3,272.1 129.4,274.2 129.5,268.1 129.5,268.3 129.6,271.5 129.7,271.8 129.8,275.7 129.9,270.7 130.0,272.1 130.1,272.2 130.2,271.6 130.3,265.9 130.4,270.5 130.5,273.1 130.5,273.0 130.6,271.7 130.7,270.0 130.8,268.8 130.9,272.1 131.0,274.1 131.1,274.8 131.2,269.8 131.3,272.8 131.4,274.4 131.4,274.6 131.5,271.6 131.6,273.2 131.7,271.6 131.8,275.2 131.9,272.4 132.0,272.8 132.1,277.5 132.2,270.6 132.3,267.4 132.4,273.7 132.4,275.8 132.5,270.2 132.6,269.8 132.7,269.5 132.8,271.7 132.9,271.6 133.0,267.4 133.1,273.6 133.2,271.0 133.3,270.3 133.3,269.6 133.4,271.7 133.5,268.9 133.6,273.5 133.7,271.0 133.8,268.9 133.9,272.0 134.0,274.4 134.1,273.3 134.2,270.8 134.3,270.4 134.3,270.6 134.4,275.4 134.5,265.8 134.6,272.7 134.7,273.7 134.8,271.9 134.9,270.4 135.0,270.6 135.1,272.5 135.2,271.7 135.2,270.4 135.3,270.4 135.4,272.2 135.5,269.8 135.6,271.3 135.7,269.2 135.8,274.8 135.9,275.1 136.0,278.0 136.1,265.3 136.2,271.9 136.2,270.8 136.3,265.9 136.4,268.5 136.5,267.5 136.6,269.7 136.7,274.4 136.8,266.6 136.9,272.5 137.0,271.1 137.1,276.3 137.1,271.3 137.2,272.2 137.3,270.9 137.4,275.0 137.5,270.9 137.6,264.5 137.7,269.7 137.8,272.1 137.9,271.0 138.0,270.7 138.1,271.4 138.1,269.0 138.2,270.5 138.3,272.7 138.4,272.8 138.5,273.0 138.6,289.9 138.7,272.6 138.8,270.7 138.9,271.8 139.0,275.3 139.0,266.1 139.1,271.7 139.2,272.7 139.3,271.2 139.4,272.6 139.5,266.1 139.6,275.0 139.7,270.6 139.8,269.7 139.9,276.2 140.0,268.0 140.0,272.3 140.1,270.7 140.2,270.9 140.3,270.9 140.4,276.1 140.5,269.1 140.6,272.9 140.7,272.9 140.8,275.1 140.9,267.9 140.9,271.9 141.0,272.7 141.1,271.2 141.2,267.0 141.3,271.4 141.4,270.4 141.5,273.7 141.6,271.1 141.7,273.2 141.8,270.8 141.9,268.3 141.9,271.0 142.0,268.8 142.1,271.3 142.2,268.1 142.3,273.7 142.4,263.6 142.5,270.9 142.6,270.5 142.7,278.4 142.8,268.2 142.8,275.1 142.9,274.8 143.0,271.8 143.1,268.4 143.2,272.0 143.3,275.6 143.4,269.4 143.5,265.0 143.6,273.3 143.7,271.0 143.8,270.9 143.8,276.4 143.9,272.0 144.0,270.9 144.1,270.1 144.2,274.4 144.3,273.2 144.4,267.0 144.5,268.9 144.6,275.8 144.7,273.9 144.7,271.0 144.8,272.1 144.9,273.5 145.0,267.7 145.1,268.1 145.2,267.9 145.3,268.7 145.4,272.9 145.5,270.3 145.6,272.9 145.7,273.6 145.7,273.3 145.8,273.0 145.9,272.8 146.0,270.5 146.1,274.7 146.2,274.6 146.3,271.8 146.4,274.8 146.5,273.3 146.6,272.9 146.6,274.1 146.7,272.2 146.8,277.0 146.9,272.2 147.0,274.0 147.1,273.4 147.2,267.4 147.3,265.9 147.4,276.4 147.5,268.0 147.6,267.5 147.6,270.8 147.7,273.3 147.8,271.3 147.9,274.8 148.0,272.0 148.1,276.7 148.2,271.8 148.3,270.4 148.4,270.0 148.5,273.1 148.5,269.6 148.6,273.8 148.7,270.9 148.8,274.4 148.9,270.3 149.0,271.4 149.1,270.4 149.2,270.2 149.3,274.5 149.4,272.2 149.5,274.5 149.5,270.8 149.6,273.4 149.7,270.3 149.8,268.9 149.9,273.1 150.0,267.6 150.1,271.0 150.2,269.5 150.3,266.3 150.4,268.2 150.5,273.2 150.5,270.8 150.6,275.4 150.7,261.4 150.8,268.0 150.9,275.8 151.0,272.6 151.1,269.3 151.2,268.9 151.3,268.5 151.4,270.9 151.4,267.5 151.5,278.3 151.6,275.5 151.7,272.7 151.8,272.2 151.9,275.1 152.0,272.4 152.1,272.2 152.2,268.3 152.3,276.3 152.4,273.6 152.4,268.4 152.5,269.3 152.6,270.6 152.7,267.6 152.8,271.8 152.9,270.3 153.0,269.3 153.1,280.0 153.2,269.4 153.3,272.4 153.3,277.3 153.4,272.2 153.5,268.3 153.6,273.1 153.7,273.9 153.8,271.3 153.9,273.1 154.0,271.1 154.1,269.8 154.2,271.0 154.3,276.0 154.3,271.6 154.4,271.2 154.5,271.0 154.6,272.0 154.7,270.9 154.8,271.4 154.9,271.9 155.0,270.3 155.1,272.8 155.2,271.9 155.2,270.8 155.3,273.3 155.4,272.9 155.5,272.1 155.6,268.8 155.7,273.5 155.8,274.2 155.9,277.4 156.0,268.6 156.1,272.1 156.2,268.0 156.2,269.1 156.3,271.4 156.4,271.6 156.5,272.5 156.6,269.4 156.7,270.5 156.8,273.4 156.9,272.4 157.0,271.7 157.1,268.0 157.1,271.6 157.2,268.7 157.3,273.2 157.4,271.1 157.5,271.1 157.6,274.3 157.7,271.6 157.8,270.5 157.9,271.7 158.0,272.8 158.1,270.0 158.1,273.6 158.2,273.5 158.3,273.8 158.4,271.0 158.5,273.2 158.6,271.3 158.7,273.2 158.8,270.0 158.9,271.6 159.0,270.3 159.0,274.0 159.1,271.4 159.2,274.7 159.3,271.2 159.4,273.4 159.5,273.9 159.6,281.3 159.7,273.4 159.8,270.2 159.9,270.9 160.0,274.8 160.0,272.8 160.1,268.5 160.2,274.3 160.3,274.2 160.4,269.5 160.5,271.8 160.6,273.0 160.7,270.2 160.8,272.7 160.9,271.9 160.9,270.5 161.0,265.0 161.1,272.2 161.2,276.2 161.3,272.3 161.4,273.7 161.5,272.4 161.6,272.1 161.7,272.3 161.8,271.0 161.9,273.1 161.9,270.1 162.0,273.4 162.1,271.2 162.2,270.7 162.3,271.0 162.4,270.9 162.5,273.2 162.6,272.4 162.7,271.7 162.8,270.1 162.8,270.1 162.9,271.1 163.0,270.4 163.1,270.6 163.2,271.3 163.3,270.1 163.4,271.2 163.5,270.3 163.6,270.0 163.7,272.4 163.8,270.0 163.8,271.3 163.9,273.6 164.0,270.2 164.1,270.4 164.2,272.1 164.3,271.5 164.4,273.1 164.5,270.7 164.6,271.1 164.7,271.9 164.7,274.4 164.8,273.1 164.9,271.9 165.0,268.0 165.1,271.8 165.2,269.3"/>
<rect class="b" x="11.6" y="233.3" width="154.0" height="76.8"/>
<text class="y" x="10.4" y="233.9">.08</text><text class="y" x="10.4" y="243.5">.06</text><text class="y" x="10.4" y="253.1">.04</text><text class="y" x="10.4" y="262.7">.02</text><text class="y" x="10.4" y="272.3">.00</text><text class="y" x="10.4" y="281.9">-.02</text><text class="y" x="10.4" y="291.5">-.04</text><text class="y" x="10.4" y="301.1">-.06</text><text class="y" x="10.4" y="310.7">-.08</text>
<text class="x" transform="translate(22.2 316.8) rotate(-60)" y="1.5">18Q3</text><text class="x" transform="translate(38.3 316.8) rotate(-60)" y="1.5">19Q1</text><text class="x" transform="translate(54.4 316.8) rotate(-60)" y="1.5">19Q3</text><text class="x" transform="translate(70.5 316.8) rotate(-60)" y="1.5">20Q1</text><text class="x" transform="translate(86.6 316.8) rotate(-60)" y="1.5">20Q3</text><text class="x" transform="translate(102.7 316.8) rotate(-60)" y="1.5">21Q1</text><text class="x" transform="translate(118.8 316.8) rotate(-60)" y="1.5">21Q3</text><text class="x" transform="translate(134.9 316.8) rotate(-60)" y="1.5">22Q1</text><text class="x" transform="translate(151.0 316.8) rotate(-60)" y="1.5">22Q3</text>
</g>
<g>
<text class="t" x="261.2" y="222.8">Thailand</text>
<rect class="m" x="242.6" y="233.3" width="95.6" height="76.8"/>
<line class="g" x1="194.1" y1="233.3" x2="194.1" y2="310.1"/><line class="g" x1="210.2" y1="233.3" x2="210.2" y2="310.1"/><line class="g" x1="226.3" y1="233.3" x2="226.3" y2="310.1"/><line class="gm" x1="242.4" y1="233.3" x2="242.4" y2="310.1"/><line class="gm" x1="258.5" y1="233.3" x2="258.5" y2="310.1"/><line class="gm" x1="274.6" y1="233.3" x2="274.6" y2="310.1"/><line class="gm" x1="290.7" y1="233.3" x2="290.7" y2="310.1"/><line class="gm" x1="306.8" y1="233.3" x2="306.8" y2="310.1"/><line class="gm" x1="322.9" y1="233.3" x2="322.9" y2="310.1"/>
<polyline class="l" points="184.6,258.5 184.7,260.7 184.8,260.1 184.9,258.4 185.0,260.7 185.1,259.9 185.1,255.4 185.2,258.6 185.3,257.4 185.4,259.1 185.5,257.7 185.6,258.4 185.7,258.0 185.8,257.5 185.9,261.5 186.0,259.9 186.0,256.9 186.1,259.4 186.2,266.9 186.3,254.9 186.4,258.6 186.5,258.7 186.6,260.9 186.7,259.2 186.8,258.3 186.9,260.8 187.0,260.1 187.0,259.5 187.1,259.1 187.2,261.9 187.3,258.6 187.4,262.8 187.5,259.4 187.6,255.7 187.7,257.6 187.8,260.4 187.9,260.7 187.9,262.1 188.0,258.4 188.1,257.4 188.2,258.1 188.3,258.3 188.4,255.5 188.5,257.8 188.6,259.8 188.7,259.3 188.8,256.0 188.9,261.5 188.9,260.4 189.0,257.7 189.1,261.1 189.2,262.1 189.3,260.2 189.4,260.6 189.5,260.9 189.6,255.7 189.7,261.2 189.8,259.0 189.8,260.2 189.9,259.4 190.0,256.2 190.1,259.0 190.2,259.1 190.3,259.8 190.4,261.4 190.5,261.6 190.6,259.5 190.7,257.0 190.8,259.6 190.8,256.5 190.9,259.4 191.0,264.3 191.1,258.6 191.2,259.5 191.3,261.8 191.4,259.2 191.5,260.1 191.6,260.0 191.7,260.3 191.7,257.7 191.8,256.7 191.9,261.4 192.0,258.9 192.1,256.4 192.2,252.2 192.3,257.5 192.4,258.4 192.5,261.8 192.6,261.7 192.7,263.1 192.7,254.5 192.8,260.1 192.9,251.8 193.0,254.9 193.1,251.6 193.2,259.6 193.3,256.7 193.4,262.8 193.5,260.8 193.6,257.6 193.6,258.5 193.7,258.3 193.8,260.7 193.9,257.2 194.0,257.8 194.1,256.7 194.2,261.1 194.3,259.4 194.4,261.6 194.5,261.4 194.6,260.4 194.6,254.7 194.7,257.6 194.8,259.7 194.9,258.9 195.0,262.5 195.1,259.9 195.2,263.3 195.3,262.0 195.4,256.9 195.5,259.0 195.5,259.3 195.6,258.2 195.7,257.3 195.8,259.1 195.9,258.3 196.0,258.5 196.1,259.1 196.2,258.7 196.3,260.1 196.4,258.8 196.5,258.3 196.5,257.3 196.6,260.9 196.7,260.1 196.8,263.1 196.9,261.9 197.0,260.0 197.1,256.8 197.2,258.7 197.3,258.0 197.4,254.9 197.4,261.1 197.5,259.1 197.6,255.5 197.7,258.3 197.8,260.4 197.9,257.7 198.0,260.0 198.1,260.3 198.2,253.1 198.3,257.7 198.4,260.6 198.4,261.5 198.5,258.6 198.6,258.7 198.7,259.4 198.8,258.7 198.9,259.5 199.0,258.8 199.1,260.5 199.2,259.1 199.3,259.3 199.3,258.3 199.4,258.8 199.5,257.4 199.6,260.1 199.7,260.0 199.8,259.3 199.9,258.5 200.0,259.3 200.1,260.1 200.2,259.9 200.3,258.3 200.3,259.0 200.4,257.7 200.5,259.7 200.6,256.2 200.7,257.2 200.8,258.4 200.9,254.2 201.0,259.0 201.1,255.9 201.2,257.5 201.3,257.4 201.3,257.8 201.4,262.1 201.5,257.4 201.6,263.9 201.7,251.4 201.8,260.4 201.9,254.4 202.0,256.9 202.1,251.8 202.2,255.4 202.2,259.2 202.3,257.0 202.4,259.2 202.5,257.1 202.6,259.4 202.7,258.5 202.8,259.3 202.9,260.2 203.0,257.9 203.1,259.2 203.2,255.2 203.2,258.1 203.3,255.1 203.4,257.8 203.5,258.9 203.6,261.8 203.7,256.4 203.8,261.3 203.9,262.0 204.0,256.1 204.1,259.7 204.1,261.5 204.2,260.7 204.3,259.0 204.4,258.5 204.5,260.2 204.6,261.4 204.7,261.6 204.8,259.6 204.9,259.9 205.0,256.4 205.1,259.0 205.1,257.4 205.2,258.3 205.3,256.1 205.4,260.0 205.5,258.7 205.6,257.5 205.7,259.3 205.8,257.1 205.9,258.5 206.0,257.1 206.0,260.0 206.1,257.5 206.2,259.7 206.3,254.9 206.4,263.7 206.5,259.4 206.6,255.8 206.7,258.6 206.8,256.7 206.9,259.1 207.0,257.6 207.0,259.7 207.1,258.9 207.2,256.4 207.3,260.3 207.4,259.6 207.5,254.0 207.6,264.0 207.7,257.7 207.8,256.0 207.9,259.1 207.9,256.0 208.0,258.1 208.1,259.5 208.2,259.7 208.3,258.9 208.4,258.3 208.5,256.8 208.6,260.3 208.7,261.5 208.8,258.5 208.9,260.7 208.9,258.5 209.0,257.7 209.1,260.0 209.2,259.2 209.3,257.6 209.4,259.8 209.5,255.2 209.6,259.5 209.7,260.7 209.8,255.7 209.8,256.1 209.9,259.2 210.0,259.9 210.1,262.0 210.2,261.8 210.3,257.6 210.4,256.1 210.5,257.1 210.6,259.9 210.7,257.7 210.8,257.0 210.8,260.4 210.9,255.4 211.0,262.1 211.1,260.1 211.2,258.9 211.3,258.2 211.4,258.5 211.5,259.1 211.6,258.8 211.7,261.0 211.7,257.6 211.8,257.9 211.9,260.1 212.0,257.3 212.1,258.7 212.2,256.8 212.3,258.3 212.4,257.8 212.5,259.6 212.6,256.8 212.7,257.1 212.7,259.1 212.8,259.3 212.9,260.2 213.0,258.1 213.1,259.1 213.2,258.9 213.3,259.2 213.4,258.2 213.5,258.2 213.6,261.3 213.6,261.4 213.7,262.0 213.8,257.8 213.9,260.2 214.0,256.4 214.1,260.5 214.2,259.5 214.3,259.1 214.4,260.8 214.5,262.2 214.6,255.8 214.6,258.8 214.7,258.6 214.8,260.3 214.9,257.9 215.0,259.7 215.1,261.4 215.2,259.7 215.3,257.6 215.4,257.6 215.5,258.7 215.5,258.7 215.6,258.4 215.7,259.9 215.8,259.7 215.9,259.5 216.0,260.1 216.1,257.9 216.2,262.1 216.3,263.1 216.4,260.0 216.5,257.5 216.5,256.9 216.6,259.1 216.7,259.4 216.8,259.2 216.9,258.9 217.0,259.2 217.1,259.5 217.2,260.4 217.3,259.2 217.4,258.8 217.4,257.9 217.5,258.2 217.6,262.6 217.7,255.8 217.8,255.6 217.9,255.5 218.0,256.6 218.1,255.9 218.2,256.0 218.3,256.5 218.4,261.3 218.4,261.3 218.5,257.8 218.6,260.4 218.7,257.4 218.8,259.2 218.9,257.8 219.0,259.1 219.1,258.4 219.2,260.6 219.3,260.4 219.3,258.9 219.4,256.0 219.5,258.2 219.6,262.4 219.7,259.4 219.8,258.7 219.9,258.9 220.0,259.0 220.1,259.5 220.2,261.0 220.3,260.7 220.3,262.2 220.4,257.9 220.5,260.4 220.6,258.1 220.7,254.1 220.8,260.0 220.9,259.6 221.0,260.8 221.1,262.0 221.2,260.7 221.2,259.5 221.3,260.3 221.4,260.5 221.5,259.9 221.6,259.1 221.7,260.1 221.8,258.4 221.9,260.7 222.0,259.2 222.1,260.2 222.2,259.7 222.2,259.4 222.3,260.1 222.4,260.8 222.5,259.6 222.6,258.9 222.7,260.6 222.8,257.0 222.9,259.1 223.0,258.9 223.1,258.2 223.1,256.9 223.2,262.5 223.3,258.0 223.4,255.6 223.5,260.0 223.6,258.5 223.7,257.0 223.8,261.5 223.9,258.7 224.0,257.8 224.1,258.7 224.1,256.6 224.2,260.4 224.3,256.3 224.4,259.5 224.5,256.6 224.6,258.7 224.7,257.3 224.8,255.9 224.9,255.7 225.0,259.3 225.0,256.6 225.1,260.1 225.2,259.8 225.3,259.0 225.4,259.1 225.5,260.1 225.6,258.7 225.7,257.8 225.8,255.5 225.9,258.9 226.0,257.8 226.0,259.1 226.1,259.1 226.2,258.2 226.3,257.4 226.4,259.7 226.5,257.6 226.6,260.5 226.7,256.9 226.8,259.4 226.9,259.5 226.9,256.7 227.0,259.6 227.1,259.4 227.2,254.7 227.3,259.2 227.4,260.4 227.5,258.0 227.6,259.6 227.7,259.2 227.8,259.8 227.9,257.3 227.9,260.7 228.0,259.4 228.1,259.0 228.2,260.7 228.3,260.4 228.4,258.8 228.5,259.0 228.6,259.8 228.7,260.9 228.8,259.7 228.8,259.1 228.9,258.5 229.0,257.9 229.1,259.7 229.2,267.9 229.3,256.3 229.4,260.7 229.5,259.2 229.6,258.2 229.7,260.2 229.8,257.6 229.8,258.2 229.9,256.8 230.0,259.8 230.1,260.4 230.2,258.1 230.3,260.6 230.4,261.5 230.5,260.6 230.6,259.9 230.7,257.8 230.8,259.7 230.8,261.3 230.9,258.6 231.0,260.3 231.1,257.6 231.2,262.2 231.3,258.7 231.4,259.1 231.5,259.0 231.6,261.4 231.7,264.8 231.7,259.7 231.8,259.1 231.9,261.1 232.0,261.3 232.1,260.4 232.2,259.1 232.3,258.0 232.4,259.8 232.5,260.1 232.6,255.7 232.7,261.9 232.7,259.3 232.8,259.6 232.9,261.7 233.0,258.8 233.1,258.4 233.2,260.4 233.3,258.9 233.4,261.2 233.5,259.5 233.6,257.2 233.6,257.8 233.7,258.8 233.8,257.6 233.9,258.2 234.0,259.7 234.1,259.0 234.2,256.1 234.3,257.0 234.4,259.2 234.5,259.1 234.6,261.2 234.6,258.4 234.7,259.2 234.8,257.8 234.9,258.3 235.0,257.6 235.1,259.9 235.2,259.1 235.3,263.1 235.4,258.6 235.5,259.4 235.5,258.9 235.6,260.4 235.7,258.2 235.8,259.4 235.9,258.8 236.0,260.0 236.1,258.4 236.2,259.6 236.3,257.9 236.4,256.3 236.5,257.3 236.5,257.6 236.6,259.2 236.7,259.5 236.8,259.7 236.9,260.4 237.0,259.2 237.1,259.4 237.2,259.0 237.3,258.4 237.4,259.1 237.4,258.6 237.5,256.7 237.6,258.0 237.7,257.3 237.8,257.3 237.9,258.2 238.0,254.4 238.1,258.6 238.2,258.9 238.3,259.1 238.4,262.6 238.4,260.1 238.5,258.2 238.6,259.8 238.7,259.1 238.8,259.4 238.9,259.2 239.0,260.3 239.1,259.7 239.2,258.7 239.3,257.6 239.3,255.4 239.4,259.8 239.5,260.1 239.6,259.0 239.7,257.9 239.8,260.0 239.9,258.9 240.0,257.6 240.1,257.7 240.2,258.6 240.3,258.8 240.3,258.7 240.4,260.2 240.5,260.0 240.6,259.8 240.7,257.7 240.8,258.2 240.9,259.2 241.0,260.4 241.1,260.3 241.2,258.5 241.2,261.2 241.3,258.2 241.4,259.2 241.5,256.9 241.6,258.5 241.7,259.9 241.8,258.3 241.9,258.3 242.0,258.9 242.1,260.0 242.2,258.5 242.2,258.6 242.3,261.2 242.4,256.0 242.5,259.3 242.6,256.7 242.7,258.1 242.8,259.9 242.9,260.5 243.0,260.8 243.1,259.9 243.1,257.3 243.2,258.5 243.3,258.8 243.4,258.2 243.5,259.2 243.6,258.3 243.7,257.4 243.8,257.4 243.9,259.2 244.0,259.4 244.1,258.4 244.1,261.3 244.2,258.0 244.3,258.5 244.4,256.6 244.5,260.0 244.6,256.9 244.7,255.0 244.8,258.0 244.9,253.5 245.0,256.5 245.0,259.6 245.1,258.3 245.2,261.3 245.3,262.3 245.4,256.9 245.5,262.9 245.6,257.3 245.7,256.4 245.8,255.7 245.9,258.1 246.0,261.8 246.0,254.3 246.1,257.5 246.2,260.6 246.3,259.8 246.4,253.7 246.5,261.2 246.6,265.2 246.7,254.3 246.8,260.1 246.9,257.6 246.9,258.4 247.0,259.6 247.1,263.1 247.2,258.9 247.3,264.5 247.4,252.9 247.5,258.6 247.6,260.5 247.7,278.1 247.8,264.4 247.9,256.4 247.9,256.0 248.0,252.9 248.1,265.7 248.2,261.0 248.3,260.2 248.4,253.4 248.5,252.8 248.6,261.5 248.7,302.1 248.8,262.8 248.8,270.4 248.9,263.4 249.0,258.7 249.1,262.4 249.2,257.9 249.3,247.2 249.4,234.9 249.5,256.8 249.6,256.2 249.7,260.4 249.8,264.4 249.8,241.6 249.9,257.0 250.0,249.1 250.1,272.9 250.2,267.0 250.3,262.5 250.4,255.2 250.5,260.1 250.6,254.7 250.7,242.9 250.7,254.5 250.8,253.8 250.9,259.0 251.0,265.7 251.1,251.6 251.2,257.6 251.3,262.4 251.4,255.1 251.5,255.7 251.6,245.9 251.7,259.7 251.7,271.7 251.8,260.3 251.9,265.1 252.0,251.7 252.1,252.9 252.2,257.3 252.3,258.4 252.4,254.3 252.5,272.9 252.6,260.3 252.6,257.5 252.7,247.7 252.8,260.1 252.9,254.8 253.0,257.5 253.1,261.0 253.2,260.3 253.3,259.4 253.4,252.8 253.5,258.6 253.6,259.5 253.6,261.1 253.7,252.5 253.8,257.1 253.9,261.9 254.0,259.7 254.1,268.5 254.2,261.1 254.3,259.1 254.4,261.4 254.5,256.7 254.5,258.6 254.6,260.7 254.7,260.3 254.8,257.6 254.9,259.6 255.0,258.7 255.1,259.4 255.2,256.5 255.3,258.9 255.4,258.4 255.5,258.9 255.5,259.3 255.6,265.4 255.7,262.2 255.8,272.0 255.9,271.8 256.0,260.5 256.1,267.1 256.2,245.2 256.3,258.8 256.4,259.8 256.4,256.3 256.5,257.9 256.6,251.6 256.7,258.5 256.8,246.4 256.9,258.2 257.0,258.3 257.1,255.9 257.2,259.5 257.3,254.3 257.4,254.6 257.4,255.7 257.5,271.0 257.6,253.4 257.7,261.6 257.8,260.6 257.9,257.5 258.0,259.9 258.1,257.2 258.2,258.8 258.3,257.8 258.3,260.6 258.4,259.6 258.5,260.1 258.6,260.3 258.7,257.2 258.8,257.6 258.9,262.5 259.0,267.2 259.1,248.3 259.2,258.3 259.3,254.3 259.3,259.4 259.4,259.2 259.5,258.0 259.6,256.4 259.7,261.7 259.8,259.8 259.9,257.5 260.0,259.8 260.1,257.4 260.2,254.1 260.2,263.9 260.3,262.8 260.4,257.5 260.5,259.1 260.6,260.0 260.7,260.2 260.8,262.3 260.9,260.7 261.0,256.2 261.1,257.5 261.2,261.3 261.2,256.0 261.3,256.9 261.4,257.0 261.5,258.3 261.6,259.4 261.7,258.0 261.8,262.7 261.9,257.7 262.0,261.2 262.1,258.1 262.2,257.6 262.2,257.9 262.3,256.8 262.4,254.6 262.5,259.8 262.6,257.4 262.7,254.9 262.8,253.7 262.9,260.5 263.0,266.3 263.1,258.2 263.1,261.0 263.2,256.3 263.3,260.6 263.4,258.4 263.5,263.7 263.6,259.4 263.7,260.7 263.8,257.9 263.9,258.1 264.0,257.9 264.1,263.4 264.1,257.9 264.2,258.8 264.3,259.0 264.4,257.4 264.5,260.2 264.6,258.7 264.7,256.8 264.8,258.5 264.9,261.0 265.0,252.8 265.0,255.4 265.1,261.1 265.2,262.9 265.3,254.5 265.4,253.9 265.5,257.8 265.6,257.8 265.7,261.4 265.8,259.7 265.9,262.3 266.0,259.3 266.0,255.0 266.1,258.0 266.2,260.3 266.3,257.5 266.4,255.8 266.5,259.6 266.6,257.2 266.7,260.0 266.8,258.6 266.9,258.2 266.9,260.0 267.0,260.2 267.1,256.5 267.2,262.4 267.3,256.2 267.4,262.1 267.5,257.7 267.6,257.3 267.7,253.4 267.8,259.3 267.9,258.3 267.9,262.8 268.0,258.9 268.1,260.5 268.2,257.8 268.3,258.1 268.4,257.3 268.5,257.8 268.6,262.5 268.7,260.7 268.8,255.1 268.8,258.6 268.9,252.4 269.0,258.1 269.1,256.4 269.2,256.5 269.3,257.2 269.4,246.1 269.5,256.9 269.6,262.5 269.7,259.0 269.8,262.3 269.8,250.8 269.9,255.7 270.0,260.6 270.1,258.3 270.2,250.9 270.3,257.8 270.4,261.5 270.5,256.6 270.6,258.7 270.7,259.5 270.7,259.8 270.8,258.1 270.9,257.7 271.0,258.0 271.1,260.7 271.2,258.1 271.3,259.5 271.4,256.6 271.5,257.8 271.6,259.2 271.7,259.1 271.7,260.2 271.8,260.1 271.9,260.5 272.0,258.2 272.1,258.4 272.2,259.2 272.3,257.3 272.4,257.0 272.5,255.3 272.6,268.5 272.6,259.8 272.7,257.5 272.8,257.5 272.9,259.2 273.0,259.0 273.1,260.3 273.2,278.1 273.3,261.3 273.4,255.8 273.5,259.2 273.6,256.9 273.6,256.8 273.7,259.2 273.8,256.6 273.9,259.2 274.0,258.1 274.1,259.1 274.2,261.4 274.3,259.4 274.4,262.8 274.5,259.1 274.5,258.9 274.6,255.1 274.7,263.2 274.8,256.8 274.9,258.5 275.0,261.5 275.1,261.9 275.2,256.5 275.3,258.0 275.4,258.2 275.5,259.3 275.5,260.4 275.6,261.7 275.7,257.2 275.8,259.9 275.9,259.8 276.0,257.2 276.1,263.3 276.2,260.6 276.3,259.4 276.4,263.8 276.4,258.6 276.5,258.0 276.6,258.1 276.7,258.2 276.8,259.8 276.9,263.2 277.0,261.7 277.1,258.9 277.2,258.6 277.3,260.9 277.4,257.7 277.4,257.6 277.5,258.1 277.6,258.9 277.7,259.1 277.8,260.0 277.9,259.3 278.0,258.1 278.1,258.0 278.2,259.9 278.3,260.4 278.3,259.4 278.4,261.4 278.5,259.0 278.6,258.6 278.7,258.0 278.8,259.6 278.9,259.8 279.0,260.6 279.1,259.5 279.2,260.6 279.3,259.3 279.3,259.8 279.4,259.1 279.5,258.6 279.6,259.4 279.7,257.6 279.8,259.6 279.9,259.7 280.0,258.7 280.1,259.2 280.2,261.8 280.2,260.1 280.3,258.9 280.4,259.9 280.5,259.7 280.6,256.0 280.7,262.5 280.8,262.7 280.9,253.8 281.0,261.2 281.1,261.1 281.2,258.7 281.2,258.0 281.3,258.6 281.4,264.7 281.5,258.3 281.6,260.3 281.7,256.4 281.8,260.0 281.9,259.0 282.0,257.3 282.1,257.3 282.1,261.4 282.2,259.0 282.3,257.5 282.4,258.9 282.5,259.4 282.6,258.5 282.7,258.9 282.8,260.9 282.9,257.6 283.0,258.9 283.1,262.0 283.1,259.1 283.2,260.0 283.3,259.1 283.4,261.3 283.5,256.9 283.6,256.3 283.7,260.2 283.8,262.8 283.9,258.1 284.0,261.6 284.0,259.2 284.1,257.2 284.2,257.7 284.3,258.7 284.4,260.0 284.5,260.5 284.6,260.5 284.7,258.2 284.8,259.2 284.9,262.0 285.0,258.5 285.0,260.2 285.1,258.2 285.2,258.9 285.3,258.8 285.4,259.9 285.5,258.6 285.6,258.7 285.7,258.1 285.8,259.1 285.9,259.7 285.9,259.7 286.0,254.8 286.1,259.9 286.2,257.7 286.3,259.1 286.4,256.0 286.5,257.9 286.6,259.9 286.7,257.7 286.8,258.5 286.9,258.9 286.9,260.5 287.0,258.0 287.1,259.2 287.2,261.1 287.3,257.4 287.4,260.3 287.5,264.3 287.6,260.8 287.7,263.0 287.8,258.8 287.8,255.1 287.9,255.9 288.0,258.9 288.1,258.2 288.2,253.2 288.3,256.3 288.4,256.6 288.5,258.9 288.6,260.3 288.7,260.9 288.8,256.8 288.8,259.3 288.9,260.8 289.0,258.7 289.1,260.0 289.2,258.0 289.3,259.6 289.4,261.2 289.5,258.7 289.6,259.6 289.7,259.6 289.7,259.5 289.8,260.5 289.9,258.3 290.0,258.5 290.1,258.2 290.2,259.0 290.3,254.5 290.4,257.8 290.5,258.1 290.6,261.3 290.7,256.1 290.7,260.2 290.8,259.0 290.9,260.9 291.0,259.4 291.1,260.7 291.2,259.0 291.3,258.5 291.4,257.9 291.5,259.0 291.6,258.6 291.6,259.4 291.7,258.0 291.8,259.0 291.9,257.8 292.0,258.7 292.1,259.2 292.2,258.4 292.3,258.3 292.4,256.9 292.5,258.5 292.6,259.5 292.6,255.7 292.7,257.8 292.8,258.7 292.9,257.8 293.0,258.3 293.1,258.8 293.2,259.8 293.3,259.2 293.4,261.6 293.5,258.1 293.6,258.5 293.6,261.7 293.7,256.7 293.8,259.5 293.9,258.5 294.0,261.0 294.1,259.0 294.2,257.4 294.3,256.7 294.4,259.1 294.5,257.9 294.5,257.0 294.6,262.2 294.7,259.9 294.8,258.4 294.9,260.3 295.0,257.5 295.1,262.6 295.2,256.6 295.3,258.4 295.4,257.3 295.5,258.5 295.5,259.3 295.6,258.3 295.7,260.0 295.8,258.9 295.9,259.1 296.0,261.6 296.1,256.7 296.2,256.5 296.3,259.4 296.4,260.2 296.4,262.3 296.5,259.7 296.6,258.7 296.7,257.0 296.8,255.1 296.9,258.4 297.0,259.2 297.1,258.8 297.2,258.3 297.3,258.5 297.4,258.7 297.4,258.0 297.5,259.3 297.6,259.2 297.7,258.2 297.8,258.3 297.9,259.5 298.0,258.3 298.1,263.0 298.2,258.5 298.3,256.3 298.3,261.7 298.4,258.4 298.5,258.2 298.6,259.0 298.7,258.8 298.8,259.9 298.9,257.8 299.0,258.7 299.1,258.1 299.2,255.1 299.3,257.9 299.3,259.1 299.4,256.5 299.5,261.7 299.6,259.2 299.7,257.5 299.8,258.4 299.9,258.5 300.0,260.0 300.1,257.5 300.2,261.6 300.2,257.4 300.3,258.3 300.4,256.8 300.5,259.6 300.6,258.7 300.7,260.4 300.8,258.7 300.9,257.2 301.0,259.4 301.1,259.1 301.2,259.0 301.2,258.7 301.3,258.0 301.4,260.1 301.5,257.7 301.6,260.6 301.7,255.3 301.8,259.2 301.9,260.4 302.0,259.3 302.1,259.3 302.1,260.2 302.2,260.8 302.3,259.1 302.4,258.1 302.5,259.1 302.6,260.6 302.7,258.9 302.8,259.1 302.9,257.1 303.0,258.6 303.1,258.9 303.1,259.4 303.2,259.2 303.3,260.1 303.4,259.4 303.5,259.3 303.6,260.3 303.7,259.6 303.8,256.1 303.9,258.3 304.0,257.5 304.0,260.1 304.1,256.7 304.2,258.7 304.3,259.7 304.4,258.4 304.5,258.4 304.6,258.8 304.7,258.6 304.8,260.5 304.9,259.0 305.0,259.1 305.0,259.2 305.1,258.3 305.2,258.9 305.3,258.7 305.4,259.3 305.5,255.5 305.6,258.1 305.7,260.0 305.8,259.2 305.9,257.1 305.9,256.0 306.0,257.6 306.1,258.4 306.2,263.2 306.3,257.7 306.4,258.8 306.5,256.9 306.6,260.1 306.7,259.2 306.8,259.1 306.9,259.1 306.9,257.7 307.0,258.9 307.1,258.9 307.2,259.2 307.3,260.7 307.4,258.7 307.5,261.9 307.6,257.0 307.7,255.2 307.8,260.6 307.8,256.6 307.9,258.3 308.0,258.8 308.1,257.3 308.2,264.5 308.3,258.9 308.4,260.4 308.5,258.6 308.6,258.8 308.7,259.6 308.8,258.5 308.8,258.8 308.9,258.8 309.0,258.6 309.1,259.2 309.2,258.3 309.3,258.7 309.4,257.3 309.5,260.4 309.6,259.2 309.7,257.5 309.7,257.7 309.8,263.4 309.9,258.7 310.0,259.2 310.1,258.9 310.2,256.3 310.3,258.2 310.4,258.8 310.5,259.0 310.6,257.3 310.7,257.8 310.7,258.6 310.8,259.6 310.9,259.7 311.0,255.6 311.1,256.9 311.2,267.9 311.3,259.5 311.4,258.5 311.5,257.7 311.6,260.6 311.6,259.1 311.7,258.8 311.8,257.9 311.9,255.8 312.0,259.1 312.1,260.0 312.2,259.5 312.3,260.2 312.4,258.8 312.5,257.6 312.6,260.1 312.6,261.6 312.7,259.6 312.8,262.6 312.9,254.6 313.0,260.3 313.1,258.9 313.2,261.2 313.3,258.6 313.4,259.8 313.5,257.3 313.5,258.3 313.6,255.7 313.7,256.6 313.8,259.0 313.9,264.1 314.0,260.4 314.1,257.3 314.2,257.5 314.3,261.7 314.4,258.1 314.5,255.0 314.5,262.7 314.6,256.7 314.7,257.7 314.8,258.7 314.9,258.8 315.0,257.7 315.1,265.7 315.2,260.0 315.3,257.2 315.4,255.1 315.4,259.5 315.5,258.0 315.6,262.7 315.7,259.4 315.8,261.4 315.9,258.1 316.0,259.1 316.1,259.5 316.2,261.2 316.3,260.4 316.4,262.4 316.4,258.9 316.5,259.9 316.6,258.7 316.7,258.1 316.8,257.6 316.9,257.6 317.0,257.8 317.1,258.4 317.2,258.5 317.3,258.2 317.3,258.6 317.4,258.3 317.5,259.9 317.6,258.4 317.7,260.9 317.8,255.9 317.9,262.1 318.0,258.2 318.1,259.6 318.2,261.6 318.3,259.1 318.3,260.4 318.4,256.8 318.5,255.8 318.6,258.1 318.7,260.6 318.8,258.8 318.9,257.9 319.0,258.6 319.1,261.5 319.2,259.9 319.2,259.2 319.3,259.1 319.4,256.5 319.5,257.5 319.6,260.1 319.7,259.1 319.8,256.9 319.9,260.5 320.0,257.5 320.1,258.3 320.2,258.9 320.2,258.7 320.3,258.4 320.4,260.6 320.5,258.3 320.6,260.3 320.7,260.5 320.8,258.7 320.9,258.6 321.0,257.8 321.1,261.0 321.1,257.9 321.2,259.7 321.3,260.0 321.4,261.2 321.5,262.4 321.6,258.1 321.7,253.5 321.8,260.0 321.9,259.8 322.0,260.7 322.1,259.0 322.1,250.3 322.2,260.6 322.3,262.1 322.4,256.0 322.5,259.4 322.6,258.5 322.7,257.8 322.8,257.9 322.9,256.1 323.0,261.0 323.1,259.6 323.1,254.0 323.2,260.9 323.3,257.5 323.4,259.0 323.5,254.9 323.6,259.6 323.7,252.1 323.8,262.1 323.9,260.8 324.0,260.9 324.0,259.8 324.1,256.7 324.2,254.1 324.3,264.2 324.4,260.4 324.5,258.3 324.6,258.3 324.7,259.7 324.8,258.5 324.9,258.5 325.0,257.8 325.0,258.3 325.1,261.0 325.2,259.4 325.3,258.8 325.4,257.0 325.5,260.2 325.6,263.6 325.7,257.8 325.8,260.1 325.9,261.7 325.9,255.4 326.0,258.7 326.1,260.3 326.2,260.5 326.3,261.4 326.4,256.2 326.5,258.2 326.6,257.8 326.7,259.3 326.8,258.2 326.9,259.1 326.9,259.8 327.0,260.6 327.1,259.0 327.2,260.6 327.3,259.8 327.4,259.3 327.5,259.5 327.6,259.6 327.7,260.0 327.8,258.8 327.8,256.9 327.9,259.9 328.0,257.9 328.1,262.0 328.2,258.2 328.3,258.3 328.4,259.8 328.5,259.8 328.6,258.0 328.7,259.0 328.8,259.4 328.8,259.7 328.9,260.4 329.0,257.5 329.1,259.6 329.2,260.0 329.3,260.8 329.4,257.7 329.5,257.8 329.6,258.8 329.7,260.9 329.7,260.0 329.8,257.0 329.9,260.4 330.0,259.0 330.1,258.2 330.2,260.1 330.3,258.9 330.4,259.5 330.5,259.2 330.6,258.6 330.7,258.4 330.7,257.9 330.8,257.1 330.9,259.2 331.0,258.1 331.1,258.0 331.2,259.4 331.3,252.6 331.4,259.0 331.5,255.6 331.6,261.9 331.6,260.0 331.7,256.1 331.8,258.6 331.9,258.2 332.0,257.9 332.1,258.1 332.2,258.8 332.3,257.5 332.4,260.9 332.5,258.6 332.6,257.9 332.6,258.1 332.7,259.0 332.8,258.4 332.9,258.2 333.0,259.9 333.1,257.9 333.2,258.9 333.3,259.3 333.4,258.6 333.5,260.5 333.5,258.5 333.6,257.3 333.7,258.3 333.8,259.9 333.9,259.0 334.0,258.1 334.1,260.5 334.2,259.3 334.3,259.0 334.4,260.2 334.5,254.4 334.5,259.9 334.6,260.0 334.7,253.0 334.8,263.2 334.9,260.7 335.0,257.5 335.1,260.7 335.2,258.9 335.3,254.9 335.4,257.0 335.4,256.6 335.5,257.4 335.6,257.5 335.7,254.5 335.8,260.7 335.9,261.6 336.0,256.7 336.1,255.9 336.2,259.7 336.3,260.5 336.4,257.6 336.4,260.8 336.5,259.4 336.6,258.6 336.7,255.6 336.8,260.0 336.9,256.3 337.0,259.4 337.1,258.0 337.2,257.0 337.3,258.4 337.3,257.1 337.4,260.4 337.5,260.5 337.6,259.1 337.7,258.8 337.8,260.1"/>
<rect class="b" x="184.2" y="233.3" width="154.0" height="76.8"/>
<text class="y" x="183.0" y="233.9">.08</text><text class="y" x="183.0" y="246.7">.04</text><text class="y" x="183.0" y="259.5">.00</text><text class="y" x="183.0" y="272.3">-.04</text><text class="y" x="183.0" y="285.1">-.08</text><text class="y" x="183.0" y="297.9">-.12</text><text class="y" x="183.0" y="310.7">-.16</text>
<text class="x" transform="translate(194.8 316.8) rotate(-60)" y="1.5">18Q3</text><text class="x" transform="translate(210.9 316.8) rotate(-60)" y="1.5">19Q1</text><text class="x" transform="translate(227.0 316.8) rotate(-60)" y="1.5">19Q3</text><text class="x" transform="translate(243.1 316.8) rotate(-60)" y="1.5">20Q1</text><text class="x" transform="translate(259.2 316.8) rotate(-60)" y="1.5">20Q3</text><text class="x" transform="translate(275.3 316.8) rotate(-60)" y="1.5">21Q1</text><text class="x" transform="translate(291.4 316.8) rotate(-60)" y="1.5">21Q3</text><text class="x" transform="translate(307.5 316.8) rotate(-60)" y="1.5">22Q1</text><text class="x" transform="translate(323.6 316.8) rotate(-60)" y="1.5">22Q3</text>
</g>
</svg>
</body></html>
